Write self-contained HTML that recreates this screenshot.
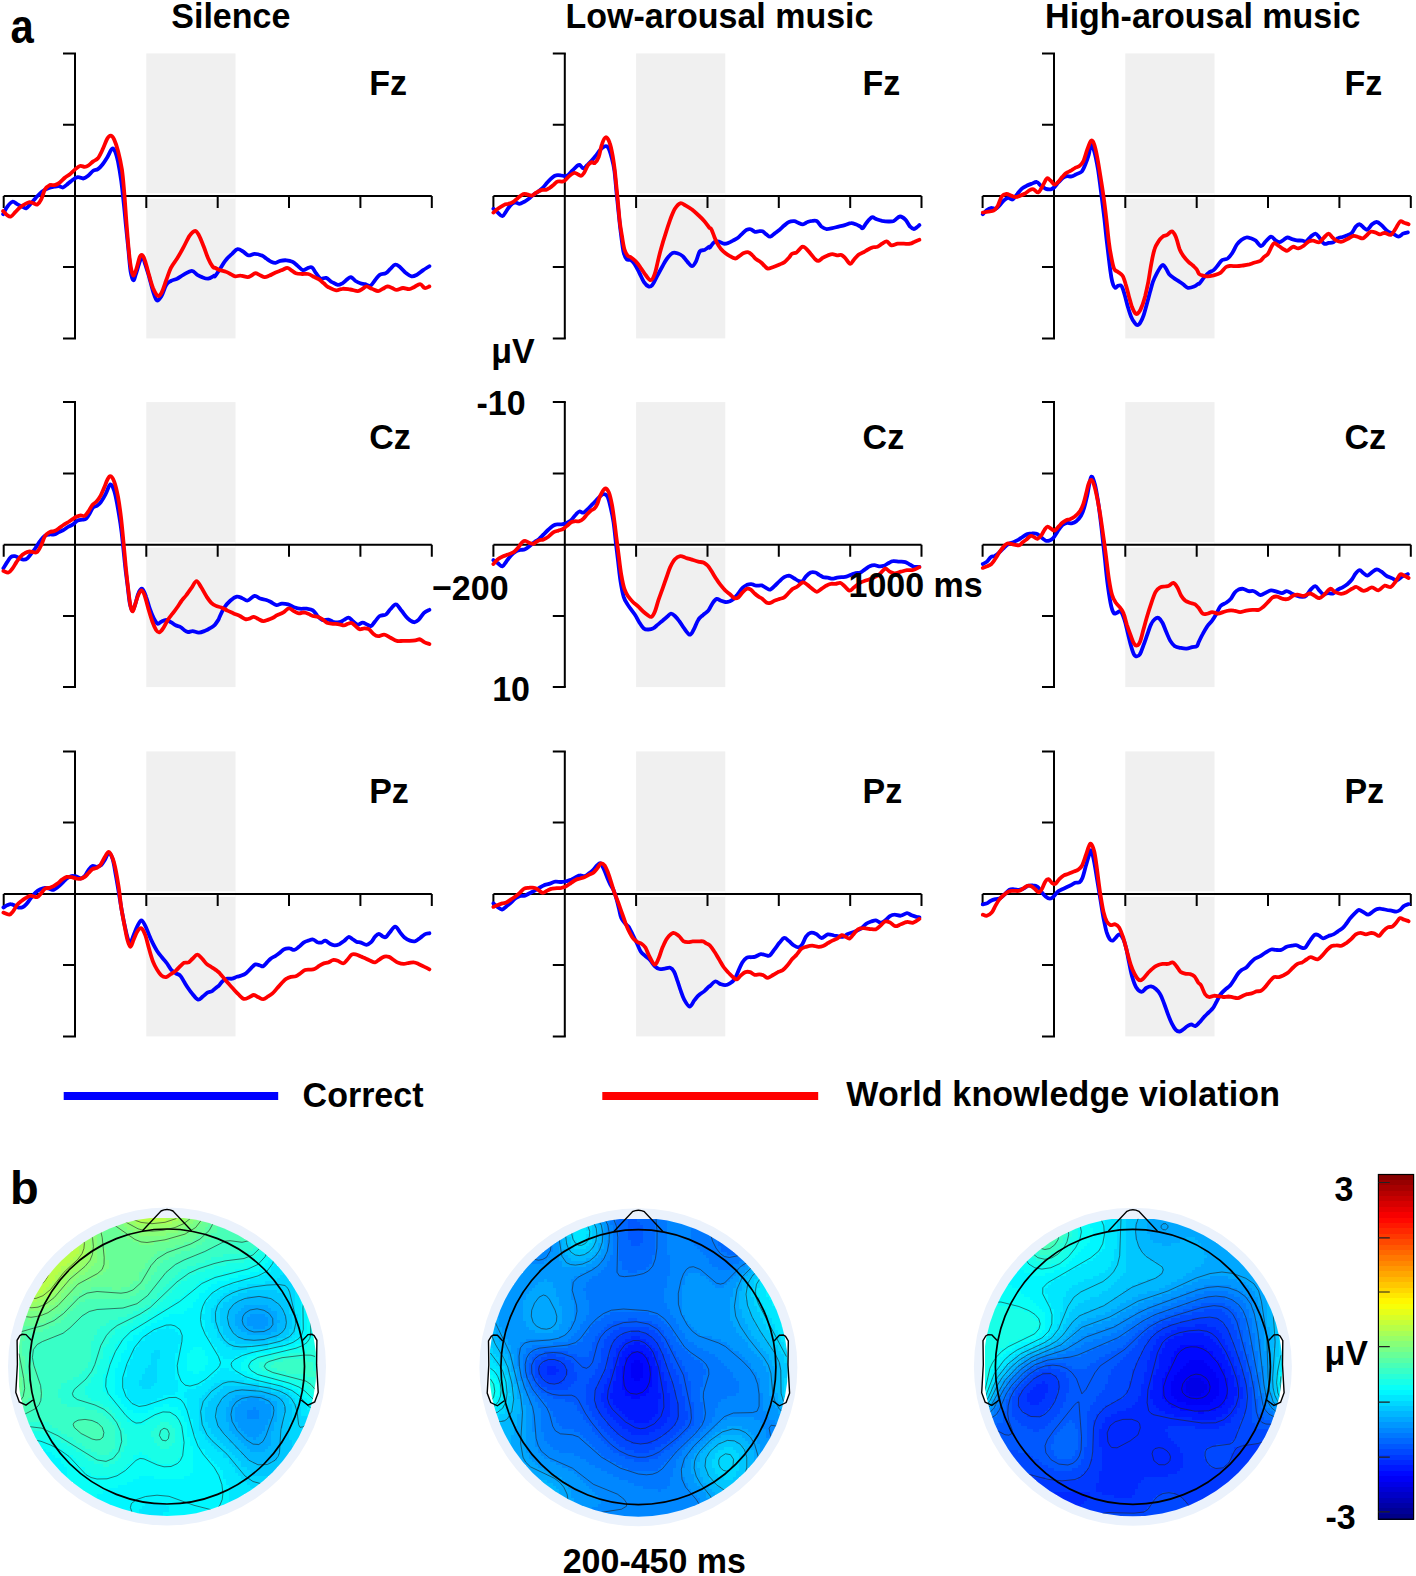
<!DOCTYPE html>
<html><head><meta charset="utf-8"><style>
html,body{margin:0;padding:0;background:#fff;}
svg{display:block;}
text{font-family:"Liberation Sans",sans-serif;font-weight:bold;font-size:34px;fill:#000;}
</style></head><body>
<svg width="1416" height="1576" viewBox="0 0 1416 1576">
<rect width="1416" height="1576" fill="#fff"/>

<rect x="146.3" y="53.4" width="89.2" height="285.0" fill="#f0f0f0"/>
<path d="M145.3,196.1H235.5" stroke="#fff" stroke-width="5.5" fill="none"/>
<path d="M75.0,53.4V338.4M3.7,196.1H431.8" stroke="#000" stroke-width="2" fill="none"/>
<path d="M63.0,53.4H76.0M63.0,124.7H75.0M63.0,267.1H75.0M63.0,338.4H76.0M3.7,196.1V208.1M146.3,196.1V208.1M217.7,196.1V208.1M289.0,196.1V208.1M360.4,196.1V208.1M431.8,196.1V208.1" stroke="#000" stroke-width="2" fill="none"/>
<path d="M3.1,214.2C3.8,213.0 5.4,209.3 7.0,207.2C8.5,205.1 10.7,202.3 12.4,201.8C14.1,201.2 15.5,203.3 17.1,204.1C18.6,204.9 20.2,205.7 21.8,206.4C23.3,207.1 24.7,208.7 26.1,208.3C27.5,207.9 28.7,205.8 30.3,204.1C31.9,202.4 33.8,200.0 35.7,197.9C37.7,195.8 39.9,193.3 41.9,191.7C44.0,190.1 46.1,189.1 48.2,188.2C50.2,187.4 52.6,187.0 54.4,186.7C56.2,186.4 57.6,186.1 59.0,186.2C60.5,186.4 61.6,187.7 62.9,187.5C64.2,187.2 65.4,185.8 66.8,184.7C68.2,183.6 69.7,182.0 71.5,180.8C73.3,179.5 75.7,177.6 77.7,177.2C79.6,176.8 81.4,178.6 83.1,178.5C84.8,178.3 86.1,177.4 87.8,176.1C89.5,174.8 91.5,171.9 93.2,170.7C94.9,169.5 96.3,170.2 97.9,169.1C99.4,168.1 101.0,166.4 102.5,164.5C104.1,162.5 105.6,160.1 107.2,157.5C108.8,154.9 110.6,150.0 111.9,148.9C113.2,147.9 113.9,149.1 115.0,151.3C116.0,153.5 117.0,157.2 118.1,162.1C119.1,167.1 120.3,174.3 121.2,180.8C122.1,187.3 122.7,193.7 123.5,201.0C124.3,208.2 125.1,216.5 125.8,224.3C126.6,232.1 127.4,239.8 128.2,247.6C129.0,255.4 129.7,265.5 130.5,270.9C131.4,276.3 132.4,279.7 133.3,280.2C134.2,280.7 134.9,277.1 135.9,274.0C137.0,270.9 138.7,264.4 139.8,261.6C140.9,258.7 141.7,256.4 142.6,256.9C143.5,257.4 144.2,261.3 145.3,264.7C146.4,268.1 147.9,272.7 149.2,277.1C150.4,281.5 151.7,287.2 153.0,291.1C154.3,295.0 155.5,299.6 156.9,300.4C158.3,301.2 160.0,298.4 161.6,295.8C163.1,293.2 164.7,287.3 166.2,284.9C167.8,282.4 169.1,282.0 170.9,281.0C172.7,280.0 175.0,279.7 177.1,278.7C179.2,277.6 180.9,276.1 183.3,274.8C185.8,273.5 189.5,270.9 191.9,270.9C194.2,270.9 195.6,273.8 197.3,274.8C199.0,275.8 200.2,276.5 202.0,277.1C203.8,277.8 206.1,278.9 208.2,278.7C210.3,278.4 213.3,276.0 214.4,275.6C215.5,275.2 214.1,277.4 215.0,276.3C215.9,275.3 217.8,272.1 219.7,269.4C221.5,266.6 223.8,262.6 225.9,260.0C227.9,257.4 230.1,255.6 232.1,253.8C234.0,252.0 235.7,249.5 237.5,249.2C239.3,248.8 241.2,250.4 243.0,251.5C244.8,252.5 246.5,255.0 248.4,255.4C250.3,255.8 252.4,253.8 254.6,253.8C256.8,253.8 259.7,254.6 261.6,255.4C263.6,256.1 264.7,257.4 266.3,258.5C267.8,259.5 269.4,260.9 270.9,261.6C272.5,262.3 274.0,263.0 275.6,262.8C277.1,262.7 278.4,261.2 280.3,260.8C282.1,260.4 284.5,260.2 286.5,260.3C288.4,260.5 290.1,260.7 291.9,261.6C293.7,262.4 295.5,264.0 297.3,265.5C299.2,266.9 301.0,269.7 302.8,270.1C304.6,270.5 306.7,268.2 308.2,267.8C309.8,267.4 310.8,266.6 312.1,267.5C313.4,268.4 314.6,271.4 316.0,273.2C317.4,275.1 319.0,277.9 320.6,278.7C322.3,279.4 324.3,277.4 326.1,277.9C327.9,278.4 329.6,280.6 331.5,281.8C333.5,282.9 335.9,284.6 337.7,284.9C339.6,285.1 340.8,284.2 342.4,283.3C344.0,282.4 345.6,280.5 347.1,279.4C348.5,278.4 349.5,276.9 350.9,277.1C352.4,277.4 354.1,280.0 355.6,281.0C357.2,282.0 358.7,282.8 360.3,283.3C361.8,283.9 363.2,283.7 364.9,284.1C366.6,284.5 368.7,286.3 370.4,285.7C372.1,285.0 373.5,282.0 375.0,280.2C376.6,278.4 377.9,276.0 379.7,274.8C381.5,273.6 384.1,274.3 385.9,273.2C387.7,272.2 389.0,270.0 390.6,268.6C392.1,267.1 393.7,264.9 395.2,264.7C396.8,264.4 398.2,265.7 399.9,267.0C401.6,268.3 403.4,270.9 405.3,272.5C407.3,274.0 409.6,276.0 411.5,276.3C413.5,276.7 415.0,275.8 417.0,274.8C418.9,273.8 421.1,271.6 423.2,270.1C425.3,268.7 428.4,266.9 429.4,266.2" stroke="#0000ff" stroke-width="3.8" fill="none" stroke-linejoin="round" stroke-linecap="round"/>
<path d="M3.1,211.1C3.8,211.7 5.7,214.1 7.0,215.0C8.3,215.9 9.5,217.0 10.9,216.5C12.3,216.0 14.0,213.4 15.5,211.9C17.1,210.3 18.6,208.5 20.2,207.2C21.8,205.9 23.3,204.9 24.9,204.1C26.4,203.3 28.1,202.4 29.5,202.2C30.9,202.1 32.1,202.9 33.4,203.3C34.7,203.7 36.0,205.2 37.3,204.6C38.6,203.9 39.9,202.0 41.2,199.4C42.5,196.9 43.6,191.7 45.1,189.3C46.5,187.0 48.2,185.8 49.7,185.1C51.3,184.4 52.8,185.5 54.4,185.1C55.9,184.8 57.2,184.4 59.0,183.1C60.9,181.8 63.4,178.8 65.3,177.4C67.1,175.9 68.4,175.5 69.9,174.3C71.5,173.0 72.9,171.3 74.6,169.9C76.3,168.5 78.3,166.5 80.0,166.0C81.7,165.5 83.3,166.9 84.7,166.8C86.1,166.7 87.1,166.2 88.6,165.3C90.0,164.3 91.7,162.5 93.2,161.4C94.8,160.2 96.3,160.2 97.9,158.3C99.4,156.3 101.0,153.0 102.5,149.7C104.1,146.5 105.8,141.2 107.2,138.8C108.6,136.5 109.6,135.6 110.8,135.7C111.9,135.9 113.0,137.0 114.2,139.6C115.4,142.2 116.8,146.2 118.1,151.3C119.4,156.3 120.9,162.9 122.0,169.9C123.0,176.9 123.5,184.2 124.3,193.2C125.1,202.3 125.8,214.5 126.6,224.3C127.4,234.1 128.2,244.8 129.0,252.3C129.7,259.8 130.5,265.5 131.3,269.4C132.1,273.2 132.7,275.8 133.6,275.6C134.5,275.3 135.7,270.9 136.7,267.8C137.8,264.7 138.8,259.0 139.8,256.9C140.8,254.8 141.7,254.6 142.6,255.4C143.5,256.1 144.2,258.2 145.3,261.6C146.4,264.9 147.9,271.2 149.2,275.6C150.4,280.0 151.6,284.6 153.0,288.0C154.5,291.4 156.3,295.0 157.7,295.8C159.1,296.5 160.2,295.2 161.6,292.7C163.0,290.1 164.7,284.4 166.2,280.2C167.8,276.1 169.1,271.4 170.9,267.8C172.7,264.2 175.0,261.8 177.1,258.5C179.2,255.1 181.3,251.4 183.3,247.6C185.4,243.8 187.6,238.7 189.5,235.9C191.5,233.2 193.4,231.1 195.0,231.0C196.5,230.8 197.4,232.7 198.9,235.2C200.3,237.7 202.0,242.2 203.5,246.0C205.1,249.9 206.6,255.0 208.2,258.5C209.7,262.0 211.7,265.5 212.9,267.0C214.0,268.6 213.9,267.3 215.0,267.8C216.1,268.3 217.8,269.5 219.7,270.1C221.5,270.8 224.1,271.0 225.9,271.7C227.7,272.3 229.0,273.2 230.5,274.0C232.1,274.8 233.5,276.1 235.2,276.3C236.9,276.6 238.6,275.4 240.6,275.6C242.7,275.7 245.8,277.1 247.6,277.1C249.4,277.1 250.2,276.2 251.5,275.6C252.8,274.9 254.0,273.3 255.4,273.2C256.8,273.2 258.5,274.6 260.1,275.3C261.6,275.9 263.2,277.1 264.7,277.1C266.3,277.2 267.6,276.3 269.4,275.6C271.2,274.8 273.5,273.4 275.6,272.5C277.7,271.6 279.9,270.9 281.8,270.1C283.8,269.4 285.7,267.8 287.2,267.8C288.8,267.8 289.7,269.2 291.1,270.1C292.6,271.0 294.0,272.6 295.8,273.2C297.6,273.9 299.9,273.9 302.0,274.0C304.1,274.1 306.1,273.5 308.2,274.0C310.3,274.5 312.6,276.2 314.4,277.1C316.2,278.0 317.5,278.4 319.1,279.4C320.6,280.5 322.2,282.0 323.8,283.3C325.3,284.6 326.3,286.1 328.4,287.2C330.5,288.4 333.9,290.1 336.2,290.3C338.5,290.6 340.1,288.9 342.4,288.8C344.7,288.6 347.6,289.2 350.2,289.5C352.8,289.9 355.9,291.2 357.9,291.1C360.0,291.0 361.2,289.5 362.6,288.8C364.0,288.0 364.9,286.4 366.5,286.4C368.0,286.4 370.0,288.0 371.9,288.8C373.9,289.5 376.3,291.1 378.1,291.1C379.9,291.1 381.2,289.5 382.8,288.8C384.4,288.0 385.9,286.6 387.5,286.4C389.0,286.3 390.6,287.4 392.1,288.0C393.7,288.6 395.0,289.9 396.8,289.9C398.6,289.9 400.9,288.1 403.0,288.0C405.1,287.9 407.4,289.4 409.2,289.2C411.0,289.1 412.1,288.1 413.9,287.2C415.7,286.4 418.3,284.0 420.1,284.1C421.9,284.2 423.2,287.6 424.7,288.0C426.3,288.4 428.6,286.7 429.4,286.4" stroke="#ff0000" stroke-width="3.8" fill="none" stroke-linejoin="round" stroke-linecap="round"/>
<text transform="translate(369.2,94.9) scale(1,1.03)">Fz</text>
<rect x="636.1" y="53.4" width="89.2" height="285.0" fill="#f0f0f0"/>
<path d="M635.1,196.1H725.3" stroke="#fff" stroke-width="5.5" fill="none"/>
<path d="M564.8,53.4V338.4M493.4,196.1H921.5" stroke="#000" stroke-width="2" fill="none"/>
<path d="M552.8,53.4H565.8M552.8,124.7H564.8M552.8,267.1H564.8M552.8,338.4H565.8M493.4,196.1V208.1M636.1,196.1V208.1M707.5,196.1V208.1M778.8,196.1V208.1M850.2,196.1V208.1M921.5,196.1V208.1" stroke="#000" stroke-width="2" fill="none"/>
<path d="M493.4,208.8C494.1,209.4 496.3,211.4 497.8,212.6C499.3,213.9 501.0,216.5 502.4,216.2C503.9,216.0 505.0,212.8 506.3,211.1C507.6,209.3 508.8,207.1 510.2,205.6C511.6,204.2 513.3,202.9 514.9,202.5C516.4,202.2 518.0,203.9 519.5,203.8C521.1,203.7 522.6,202.6 524.2,201.8C525.7,200.9 527.3,199.8 528.8,198.7C530.4,197.5 531.9,195.9 533.5,194.8C535.1,193.6 536.6,192.8 538.2,191.7C539.7,190.5 541.3,189.3 542.8,187.8C544.4,186.2 545.9,184.0 547.5,182.3C549.0,180.7 550.7,178.8 552.1,177.7C553.6,176.5 554.6,175.7 556.0,175.4C557.5,175.0 559.3,175.2 560.7,175.4C562.1,175.5 563.4,176.1 564.6,176.1C565.7,176.1 566.4,176.3 567.7,175.4C569.0,174.4 570.8,172.2 572.3,170.7C573.9,169.1 575.8,167.0 577.0,166.0C578.2,165.1 578.8,164.6 579.8,164.9C580.8,165.3 582.0,168.3 583.2,168.4C584.4,168.4 585.8,166.4 587.1,165.3C588.4,164.1 589.6,162.9 591.0,161.4C592.4,159.8 594.1,157.9 595.6,155.9C597.2,154.0 598.8,151.3 600.3,149.7C601.9,148.1 603.7,146.7 605.0,146.3C606.3,145.9 607.0,145.8 608.1,147.4C609.1,149.0 610.2,152.2 611.2,155.9C612.2,159.7 613.4,163.7 614.3,169.9C615.2,176.1 615.8,185.5 616.6,193.2C617.4,201.0 618.2,209.3 619.0,216.5C619.7,223.8 620.5,230.8 621.3,236.7C622.1,242.7 622.7,248.5 623.6,252.3C624.5,256.0 625.6,258.0 626.7,259.3C627.9,260.5 629.3,259.3 630.6,260.0C631.9,260.8 633.1,261.8 634.5,263.9C635.9,266.0 637.6,269.5 639.2,272.5C640.7,275.4 642.3,279.4 643.8,281.8C645.4,284.1 647.1,285.9 648.5,286.4C649.9,287.0 650.9,286.6 652.4,284.9C653.8,283.2 655.3,279.4 657.0,276.3C658.7,273.2 660.8,269.2 662.5,266.2C664.1,263.3 665.4,260.7 667.1,258.5C668.8,256.3 670.7,253.9 672.6,253.0C674.4,252.2 676.3,253.0 678.0,253.5C679.7,254.0 681.1,254.8 682.7,256.1C684.2,257.5 685.8,259.9 687.3,261.6C688.9,263.3 690.6,266.2 692.0,266.2C693.4,266.2 694.6,264.0 695.9,261.6C697.2,259.1 698.3,253.4 699.7,251.5C701.2,249.5 702.9,250.7 704.4,249.9C706.0,249.2 708.2,247.2 709.1,246.8C709.9,246.4 708.8,248.4 709.7,247.6C710.5,246.8 712.8,243.1 714.3,242.2C715.9,241.2 717.4,241.4 719.0,241.7C720.5,242.0 722.1,243.5 723.6,243.7C725.2,243.9 726.8,243.5 728.3,242.9C729.9,242.4 731.4,241.4 733.0,240.6C734.5,239.8 736.1,239.1 737.6,238.0C739.2,236.8 740.7,235.0 742.3,233.6C743.8,232.2 745.5,230.5 746.9,229.7C748.4,229.0 749.5,228.9 750.8,229.3C752.1,229.6 753.4,231.4 754.7,231.8C756.0,232.1 757.3,231.4 758.6,231.3C759.9,231.2 761.2,230.8 762.5,231.3C763.8,231.8 765.1,233.5 766.4,234.4C767.7,235.3 768.8,236.9 770.3,236.7C771.7,236.5 773.4,234.5 774.9,233.3C776.5,232.1 778.0,231.0 779.6,229.7C781.1,228.4 782.7,226.8 784.2,225.5C785.8,224.2 787.2,222.7 788.9,222.0C790.6,221.2 792.8,221.1 794.3,221.2C795.9,221.3 796.8,222.2 798.2,222.7C799.6,223.3 801.3,224.4 802.9,224.3C804.4,224.2 806.0,222.5 807.5,222.0C809.1,221.4 810.6,221.0 812.2,220.9C813.8,220.7 815.3,220.2 816.9,221.2C818.4,222.1 820.0,225.3 821.5,226.6C823.1,227.9 824.4,228.7 826.2,229.0C828.0,229.2 830.3,228.6 832.4,228.2C834.5,227.8 836.5,227.1 838.6,226.6C840.7,226.1 842.8,225.7 844.8,225.1C846.9,224.5 849.2,223.2 851.0,223.1C852.9,222.9 854.2,223.7 855.7,224.3C857.3,224.9 859.2,226.0 860.4,226.6C861.5,227.3 861.7,228.8 862.7,228.2C863.7,227.5 865.0,224.6 866.6,222.7C868.1,220.9 870.5,217.9 872.0,217.3C873.6,216.7 874.2,218.3 875.9,218.9C877.6,219.5 880.0,220.4 882.1,220.9C884.2,221.3 886.4,221.5 888.3,221.5C890.3,221.5 891.8,221.7 893.8,220.9C895.7,220.0 898.0,216.7 900.0,216.5C901.9,216.3 903.7,217.9 905.4,219.6C907.1,221.3 908.7,225.1 910.1,226.6C911.5,228.2 912.8,228.9 914.0,229.0C915.1,229.0 916.2,227.7 917.1,227.1C918.0,226.4 919.0,225.4 919.4,225.1" stroke="#0000ff" stroke-width="3.8" fill="none" stroke-linejoin="round" stroke-linecap="round"/>
<path d="M493.4,212.6C494.1,212.0 496.0,210.1 497.8,208.8C499.5,207.5 502.2,205.7 504.0,204.9C505.8,204.0 507.1,204.3 508.6,203.8C510.2,203.3 511.8,202.7 513.3,201.8C514.9,200.8 516.3,199.2 518.0,197.9C519.6,196.6 521.9,194.6 523.4,194.0C525.0,193.4 525.9,194.2 527.3,194.5C528.7,194.7 530.4,195.9 531.9,195.6C533.5,195.2 535.1,193.3 536.6,192.4C538.2,191.5 539.7,190.6 541.3,190.1C542.8,189.7 544.5,190.2 545.9,189.8C547.4,189.4 548.5,188.6 549.8,187.8C551.1,186.9 552.4,185.7 553.7,184.7C555.0,183.6 556.3,182.1 557.6,181.6C558.9,181.0 560.3,181.7 561.5,181.6C562.6,181.4 563.3,181.7 564.6,180.8C565.9,179.9 567.7,177.4 569.2,176.1C570.8,174.8 572.6,173.4 573.9,173.0C575.2,172.6 575.8,173.3 577.0,173.8C578.2,174.3 579.7,175.9 580.9,175.8C582.1,175.7 582.8,174.8 584.0,173.0C585.2,171.3 586.6,167.1 587.9,165.3C589.2,163.4 590.6,162.5 591.8,162.1C592.9,161.8 593.7,163.8 594.9,162.9C596.0,162.0 597.6,159.8 598.8,156.7C599.9,153.6 600.7,147.5 601.9,144.3C603.0,141.0 604.5,137.5 605.7,137.3C607.0,137.0 608.5,139.6 609.6,142.7C610.8,145.8 611.8,150.9 612.7,155.9C613.6,161.0 614.3,166.3 615.1,173.0C615.8,179.8 616.6,188.3 617.4,196.3C618.2,204.4 619.0,214.5 619.7,221.2C620.5,227.9 621.3,232.1 622.1,236.7C622.8,241.4 623.5,246.0 624.4,249.2C625.3,252.3 626.3,253.9 627.5,255.4C628.7,256.8 630.0,256.7 631.4,257.7C632.8,258.7 634.5,259.9 636.0,261.6C637.6,263.3 639.2,265.6 640.7,267.8C642.3,270.0 643.7,272.7 645.4,274.8C647.1,276.9 649.3,280.4 650.8,280.2C652.4,280.1 653.5,277.1 654.7,274.0C655.9,270.9 656.8,265.7 657.8,261.6C658.8,257.4 659.6,253.8 660.9,249.2C662.2,244.5 664.0,238.5 665.6,233.6C667.1,228.7 668.7,223.8 670.2,219.6C671.8,215.5 673.2,211.5 674.9,208.8C676.6,206.0 678.5,203.8 680.3,203.3C682.1,202.8 683.8,204.6 685.8,205.6C687.7,206.7 689.9,208.0 692.0,209.5C694.0,211.1 696.1,213.0 698.2,215.0C700.3,216.9 702.6,219.1 704.4,221.2C706.2,223.3 707.9,226.1 709.1,227.4C710.2,228.7 710.3,227.4 711.2,229.0C712.1,230.5 713.3,234.3 714.3,236.7C715.4,239.2 716.4,241.8 717.4,243.7C718.5,245.7 719.2,246.8 720.5,248.4C721.8,249.9 723.6,251.7 725.2,253.0C726.8,254.3 728.2,255.2 729.9,256.1C731.5,257.1 733.7,258.5 735.3,258.5C736.9,258.5 737.8,257.1 739.2,256.1C740.6,255.2 742.3,253.7 743.8,253.0C745.4,252.4 747.1,251.9 748.5,252.3C749.9,252.6 751.1,254.2 752.4,255.4C753.7,256.5 754.8,258.1 756.3,259.3C757.7,260.4 759.5,261.2 760.9,262.4C762.4,263.5 763.7,265.2 764.8,266.2C766.0,267.3 766.5,268.4 767.9,268.6C769.3,268.7 771.4,267.7 773.4,267.0C775.3,266.3 777.8,265.2 779.6,264.4C781.4,263.6 782.7,263.5 784.2,262.4C785.8,261.2 787.6,259.1 788.9,257.7C790.2,256.3 790.7,254.7 792.0,253.8C793.3,252.9 795.0,253.4 796.7,252.3C798.3,251.1 800.6,247.5 802.1,246.8C803.7,246.2 804.6,247.2 806.0,248.4C807.4,249.5 809.1,252.0 810.6,253.8C812.2,255.6 814.0,258.1 815.3,259.3C816.6,260.4 817.1,261.1 818.4,260.8C819.7,260.5 821.5,258.6 823.1,257.7C824.6,256.8 826.2,256.0 827.7,255.4C829.3,254.8 830.8,254.1 832.4,254.1C834.0,254.1 835.5,255.2 837.1,255.4C838.6,255.5 840.3,254.5 841.7,255.1C843.1,255.6 844.2,257.0 845.6,258.5C847.0,260.0 848.8,263.8 850.3,263.9C851.7,264.0 852.7,260.8 854.2,259.3C855.6,257.7 857.3,255.8 858.8,254.6C860.4,253.4 861.9,253.1 863.5,252.3C865.0,251.4 866.6,250.3 868.1,249.5C869.7,248.6 871.2,247.7 872.8,247.3C874.4,246.8 875.9,247.4 877.5,246.8C879.0,246.2 880.6,244.6 882.1,243.7C883.7,242.8 885.2,241.1 886.8,241.4C888.3,241.6 889.6,244.9 891.4,245.3C893.3,245.7 895.6,244.0 897.7,243.7C899.7,243.5 901.8,243.7 903.9,243.7C905.9,243.7 908.3,244.1 910.1,243.7C911.9,243.4 913.2,242.3 914.7,241.7C916.3,241.0 918.6,240.1 919.4,239.8" stroke="#ff0000" stroke-width="3.8" fill="none" stroke-linejoin="round" stroke-linecap="round"/>
<text transform="translate(862.6,94.9) scale(1,1.03)">Fz</text>
<rect x="1125.3" y="53.4" width="89.2" height="285.0" fill="#f0f0f0"/>
<path d="M1124.3,196.1H1214.5" stroke="#fff" stroke-width="5.5" fill="none"/>
<path d="M1054.0,53.4V338.4M982.6,196.1H1410.8" stroke="#000" stroke-width="2" fill="none"/>
<path d="M1042.0,53.4H1055.0M1042.0,124.7H1054.0M1042.0,267.1H1054.0M1042.0,338.4H1055.0M982.6,196.1V208.1M1125.3,196.1V208.1M1196.7,196.1V208.1M1268.0,196.1V208.1M1339.4,196.1V208.1M1410.8,196.1V208.1" stroke="#000" stroke-width="2" fill="none"/>
<path d="M982.8,214.2C983.4,213.6 984.9,211.7 986.2,210.6C987.6,209.6 989.3,208.3 990.9,208.0C992.4,207.7 994.1,209.1 995.5,208.8C997.0,208.4 998.1,206.9 999.4,205.6C1000.7,204.4 1001.9,202.3 1003.3,201.0C1004.7,199.7 1006.4,198.1 1008.0,197.9C1009.5,197.6 1011.1,200.1 1012.6,199.4C1014.2,198.8 1015.7,195.8 1017.3,194.0C1018.8,192.2 1020.4,189.9 1021.9,188.6C1023.5,187.2 1025.1,186.5 1026.6,185.8C1028.2,185.0 1029.6,184.5 1031.3,183.9C1033.0,183.3 1035.2,181.8 1036.7,182.0C1038.3,182.3 1039.2,184.4 1040.6,185.5C1042.0,186.5 1043.6,187.9 1045.3,188.6C1046.9,189.2 1049.1,189.6 1050.7,189.3C1052.2,189.1 1053.3,188.2 1054.6,187.0C1055.9,185.8 1057.0,183.9 1058.5,182.3C1059.9,180.8 1061.7,178.7 1063.1,177.7C1064.5,176.6 1065.6,176.3 1067.0,176.1C1068.4,175.9 1070.1,176.8 1071.7,176.4C1073.2,176.1 1074.6,175.1 1076.3,174.3C1078.0,173.4 1080.2,173.2 1081.8,171.5C1083.3,169.7 1084.5,166.5 1085.6,163.7C1086.8,160.9 1087.9,157.6 1088.8,154.4C1089.7,151.1 1090.2,144.8 1091.1,144.3C1092.0,143.8 1093.0,147.0 1094.2,151.3C1095.4,155.5 1096.9,162.9 1098.1,169.9C1099.2,176.9 1100.2,185.2 1101.2,193.2C1102.2,201.2 1103.4,210.3 1104.3,218.1C1105.2,225.8 1105.8,232.8 1106.6,239.8C1107.4,246.8 1108.2,253.8 1109.0,260.0C1109.7,266.2 1110.6,272.9 1111.3,277.1C1112.0,281.3 1112.6,283.3 1113.3,285.1C1114.0,286.8 1114.5,287.6 1115.2,287.8C1116.0,287.9 1117.1,286.2 1118.0,285.8C1118.9,285.4 1119.9,285.1 1120.7,285.4C1121.5,285.8 1121.9,286.4 1122.6,288.2C1123.3,289.9 1124.1,292.7 1125.0,295.9C1125.9,299.2 1127.0,304.1 1128.1,307.6C1129.1,311.1 1130.1,314.4 1131.2,316.9C1132.2,319.4 1133.2,321.0 1134.3,322.3C1135.3,323.7 1136.4,325.1 1137.4,325.1C1138.4,325.1 1139.5,324.0 1140.5,322.3C1141.5,320.7 1142.6,318.3 1143.6,315.4C1144.6,312.4 1145.7,308.2 1146.7,304.5C1147.7,300.7 1148.8,296.6 1149.8,292.8C1150.9,289.1 1151.8,285.2 1152.9,281.9C1154.1,278.7 1155.6,275.7 1156.8,273.4C1158.0,271.1 1158.9,269.4 1159.9,268.0C1161.0,266.5 1162.0,264.7 1163.0,264.9C1164.1,265.0 1165.1,267.2 1166.1,268.7C1167.2,270.3 1167.9,272.6 1169.2,274.2C1170.5,275.7 1172.2,276.8 1173.9,278.1C1175.6,279.3 1177.8,280.5 1179.3,281.6C1180.9,282.6 1181.8,283.2 1183.2,284.3C1184.6,285.3 1186.1,287.4 1187.9,287.8C1189.7,288.2 1192.3,287.3 1194.1,286.6C1195.9,285.9 1197.8,284.0 1198.8,283.5C1199.7,283.0 1198.7,284.4 1199.7,283.3C1200.6,282.3 1202.8,278.9 1204.3,277.1C1205.9,275.3 1207.4,273.6 1209.0,272.5C1210.5,271.3 1212.1,271.4 1213.6,270.1C1215.2,268.8 1216.9,266.4 1218.3,264.7C1219.7,263.0 1220.6,261.1 1222.2,260.0C1223.7,259.0 1225.9,259.6 1227.6,258.5C1229.3,257.3 1230.7,255.4 1232.3,253.0C1233.8,250.7 1235.4,246.7 1236.9,244.5C1238.5,242.3 1240.1,241.0 1241.6,239.8C1243.2,238.7 1244.7,237.8 1246.3,237.5C1247.8,237.2 1249.4,237.8 1250.9,238.3C1252.5,238.8 1253.9,239.3 1255.6,240.6C1257.3,241.9 1259.3,245.9 1261.0,246.0C1262.7,246.2 1264.0,242.9 1265.7,241.4C1267.4,239.8 1269.4,236.9 1271.1,236.7C1272.8,236.6 1274.4,239.7 1275.8,240.6C1277.2,241.5 1278.4,242.3 1279.7,242.2C1281.0,242.0 1282.3,240.6 1283.6,239.8C1284.9,239.1 1286.0,237.6 1287.4,237.5C1288.9,237.4 1290.6,238.6 1292.1,239.1C1293.7,239.5 1295.1,240.0 1296.8,240.3C1298.4,240.6 1300.6,240.4 1302.2,240.6C1303.8,240.8 1304.7,242.0 1306.1,241.4C1307.5,240.7 1309.2,238.0 1310.7,236.7C1312.3,235.4 1314.0,233.5 1315.4,233.6C1316.8,233.7 1317.9,235.8 1319.3,237.5C1320.7,239.2 1322.4,242.8 1324.0,243.7C1325.5,244.6 1327.1,243.2 1328.6,242.9C1330.2,242.7 1331.7,242.9 1333.3,242.2C1334.8,241.4 1336.4,239.1 1337.9,238.3C1339.5,237.4 1341.0,237.6 1342.6,237.0C1344.2,236.5 1345.7,235.9 1347.3,235.2C1348.8,234.5 1350.5,234.3 1351.9,232.8C1353.3,231.4 1354.5,228.0 1355.8,226.6C1357.1,225.2 1358.3,224.0 1359.7,224.3C1361.1,224.6 1363.1,227.3 1364.4,228.2C1365.6,229.1 1366.2,230.4 1367.5,229.7C1368.8,229.1 1370.6,225.6 1372.1,224.3C1373.7,223.0 1375.2,221.8 1376.8,222.0C1378.3,222.1 1379.6,223.5 1381.4,225.1C1383.3,226.6 1385.7,229.9 1387.7,231.3C1389.6,232.7 1391.3,232.7 1393.1,233.6C1394.9,234.5 1396.8,236.7 1398.5,236.7C1400.2,236.7 1401.6,234.3 1403.2,233.6C1404.7,232.9 1407.1,232.6 1407.9,232.4" stroke="#0000ff" stroke-width="3.8" fill="none" stroke-linejoin="round" stroke-linecap="round"/>
<path d="M982.8,212.6C983.6,212.5 985.9,211.9 987.8,211.6C989.6,211.2 992.3,211.3 994.0,210.3C995.7,209.3 996.6,208.0 997.9,205.6C999.2,203.3 1000.3,198.3 1001.8,196.3C1003.2,194.4 1004.9,194.1 1006.4,194.0C1008.0,193.9 1009.5,195.0 1011.1,195.6C1012.6,196.1 1014.2,197.1 1015.7,197.1C1017.3,197.1 1018.8,196.1 1020.4,195.6C1021.9,195.0 1023.5,194.4 1025.1,193.5C1026.6,192.6 1028.3,190.8 1029.7,190.1C1031.1,189.4 1032.2,188.9 1033.6,189.3C1035.0,189.7 1036.8,192.8 1038.3,192.4C1039.7,192.1 1040.7,189.3 1042.1,187.0C1043.6,184.7 1045.4,179.5 1046.8,178.5C1048.2,177.4 1049.4,179.8 1050.7,180.8C1052.0,181.8 1053.3,184.5 1054.6,184.7C1055.9,184.8 1057.2,182.9 1058.5,181.6C1059.8,180.3 1061.0,178.3 1062.3,176.9C1063.6,175.5 1064.8,174.1 1066.2,173.0C1067.7,172.0 1069.5,171.5 1070.9,170.7C1072.3,169.9 1073.3,168.8 1074.8,168.1C1076.2,167.3 1078.0,167.1 1079.4,166.0C1080.9,164.9 1082.0,164.1 1083.3,161.4C1084.6,158.7 1085.9,153.2 1087.2,149.7C1088.5,146.3 1089.9,141.6 1091.1,140.7C1092.3,139.8 1093.2,141.5 1094.2,144.3C1095.2,147.1 1096.3,152.2 1097.3,157.5C1098.3,162.8 1099.4,169.7 1100.4,176.1C1101.4,182.6 1102.5,188.8 1103.5,196.3C1104.6,203.8 1105.7,213.4 1106.6,221.2C1107.5,229.0 1108.2,237.2 1109.0,242.9C1109.7,248.7 1110.1,251.2 1111.0,255.5C1111.8,259.8 1112.9,266.0 1114.1,268.7C1115.2,271.5 1116.5,270.7 1118.0,271.9C1119.4,273.0 1121.3,273.7 1122.6,275.7C1123.9,277.8 1124.7,280.9 1125.7,284.3C1126.8,287.6 1127.8,292.2 1128.8,295.9C1129.9,299.7 1130.8,303.8 1131.9,306.8C1133.1,309.8 1134.7,312.9 1135.8,313.8C1137.0,314.7 1137.9,313.5 1138.9,312.2C1140.0,311.0 1141.0,308.8 1142.0,306.0C1143.1,303.3 1144.1,299.9 1145.2,295.9C1146.2,291.9 1147.2,287.4 1148.3,281.9C1149.3,276.5 1150.3,268.7 1151.4,263.3C1152.4,257.9 1153.3,252.9 1154.5,249.3C1155.6,245.7 1157.0,243.7 1158.4,241.6C1159.7,239.5 1161.1,237.8 1162.6,236.7C1164.0,235.6 1165.7,235.8 1167.2,234.9C1168.8,234.0 1170.5,231.0 1171.9,231.3C1173.3,231.6 1174.5,233.7 1175.8,236.7C1177.1,239.7 1178.4,245.9 1179.6,249.2C1180.9,252.4 1182.1,254.1 1183.5,256.1C1185.0,258.2 1186.6,260.0 1188.2,261.6C1189.7,263.1 1191.4,264.2 1192.9,265.5C1194.3,266.8 1195.7,267.9 1196.7,269.4C1197.8,270.8 1198.1,273.0 1199.1,274.0C1200.1,275.0 1201.4,275.2 1202.8,275.6C1204.2,276.0 1205.6,276.4 1207.4,276.3C1209.2,276.3 1211.6,275.8 1213.6,275.3C1215.7,274.7 1217.8,274.6 1219.9,273.2C1221.9,271.9 1224.3,268.2 1226.1,267.0C1227.9,265.8 1228.9,266.1 1230.7,265.9C1232.5,265.8 1234.9,266.3 1236.9,266.2C1239.0,266.2 1241.1,265.8 1243.2,265.5C1245.2,265.2 1247.6,264.8 1249.4,264.4C1251.2,263.9 1252.2,263.4 1254.0,262.8C1255.9,262.2 1258.6,261.8 1260.3,260.8C1261.9,259.8 1262.8,258.1 1264.1,256.9C1265.4,255.8 1266.9,255.4 1268.0,253.8C1269.2,252.3 1270.1,249.4 1271.1,247.6C1272.2,245.8 1272.9,243.5 1274.2,243.2C1275.5,243.0 1277.3,245.1 1278.9,246.0C1280.5,247.0 1282.1,248.4 1283.6,249.2C1285.0,249.9 1285.9,251.1 1287.4,250.7C1289.0,250.3 1291.1,247.2 1292.9,246.8C1294.7,246.4 1296.5,248.6 1298.3,248.4C1300.1,248.2 1302.1,246.8 1303.8,245.7C1305.4,244.6 1306.9,242.5 1308.4,241.7C1310.0,240.8 1311.3,240.5 1313.1,240.6C1314.9,240.7 1317.5,242.7 1319.3,242.2C1321.1,241.6 1322.4,238.9 1324.0,237.5C1325.5,236.1 1327.2,233.6 1328.6,233.6C1330.0,233.6 1331.2,236.3 1332.5,237.5C1333.8,238.7 1334.8,239.9 1336.4,240.6C1337.9,241.3 1340.0,242.0 1341.8,241.7C1343.6,241.4 1345.3,240.0 1347.3,239.1C1349.2,238.1 1351.7,236.3 1353.5,235.9C1355.3,235.6 1356.6,236.6 1358.1,237.0C1359.7,237.4 1361.4,238.6 1362.8,238.3C1364.2,238.0 1365.4,236.3 1366.7,235.2C1368.0,234.1 1369.1,232.2 1370.6,231.8C1372.0,231.3 1373.7,231.9 1375.2,232.4C1376.8,232.8 1378.3,234.3 1379.9,234.4C1381.4,234.5 1382.7,232.8 1384.5,232.8C1386.4,232.9 1389.0,235.5 1390.8,234.9C1392.6,234.2 1393.9,231.2 1395.4,229.0C1397.0,226.7 1398.7,222.5 1400.1,221.5C1401.5,220.5 1402.5,222.3 1404.0,222.7C1405.4,223.2 1407.9,224.0 1408.6,224.3" stroke="#ff0000" stroke-width="3.8" fill="none" stroke-linejoin="round" stroke-linecap="round"/>
<text transform="translate(1344.4,94.9) scale(1,1.03)">Fz</text>
<rect x="146.3" y="402.1" width="89.2" height="285.0" fill="#f0f0f0"/>
<path d="M145.3,544.8H235.5" stroke="#fff" stroke-width="5.5" fill="none"/>
<path d="M75.0,402.1V687.1M3.7,544.8H431.8" stroke="#000" stroke-width="2" fill="none"/>
<path d="M63.0,402.1H76.0M63.0,473.4H75.0M63.0,615.9H75.0M63.0,687.1H76.0M3.7,544.8V556.8M146.3,544.8V556.8M217.7,544.8V556.8M289.0,544.8V556.8M360.4,544.8V556.8M431.8,544.8V556.8" stroke="#000" stroke-width="2" fill="none"/>
<path d="M3.4,568.3C4.0,567.3 5.7,564.3 7.0,562.4C8.2,560.5 9.6,558.0 10.9,557.0C12.2,555.9 13.3,556.0 14.8,556.2C16.2,556.4 18.0,557.5 19.4,558.1C20.8,558.6 22.0,559.5 23.3,559.6C24.6,559.7 25.9,559.5 27.2,558.5C28.5,557.6 29.6,555.7 31.1,553.9C32.5,552.1 34.2,549.9 35.7,547.7C37.3,545.5 38.8,542.7 40.4,540.7C41.9,538.7 43.5,536.7 45.1,535.7C46.6,534.7 48.2,534.7 49.7,534.5C51.3,534.2 52.8,534.8 54.4,534.5C55.9,534.1 57.5,532.9 59.0,532.1C60.6,531.3 62.1,530.7 63.7,529.8C65.3,528.9 66.8,527.6 68.4,526.7C69.9,525.8 71.5,525.4 73.0,524.4C74.6,523.3 76.1,521.2 77.7,520.5C79.2,519.7 80.9,520.0 82.3,519.7C83.8,519.4 84.9,519.8 86.2,518.6C87.5,517.4 88.9,514.6 90.1,512.7C91.3,510.8 92.1,508.4 93.2,507.3C94.4,506.1 95.8,506.6 97.1,505.7C98.4,504.8 99.6,503.8 101.0,501.8C102.4,499.9 104.1,497.0 105.6,494.1C107.2,491.2 108.9,484.9 110.3,484.4C111.7,483.9 113.0,487.5 114.2,490.9C115.4,494.4 116.3,499.5 117.3,504.9C118.3,510.4 119.5,517.4 120.4,523.6C121.3,529.8 122.0,535.2 122.7,542.2C123.5,549.2 124.3,558.5 125.1,565.5C125.8,572.5 126.6,578.0 127.4,584.2C128.2,590.4 128.9,598.4 129.7,602.8C130.6,607.2 131.5,610.3 132.4,610.6C133.3,610.8 134.2,607.2 135.2,604.4C136.2,601.5 137.1,596.1 138.3,593.5C139.4,590.9 140.9,588.3 142.2,588.8C143.5,589.3 144.8,593.2 146.0,596.6C147.3,600.0 148.6,605.4 149.9,609.0C151.2,612.7 152.5,615.9 153.8,618.4C155.1,620.8 156.4,623.3 157.7,623.8C159.0,624.3 160.2,622.1 161.6,621.5C163.0,620.8 164.7,619.8 166.2,619.9C167.8,620.0 169.4,621.3 170.9,622.2C172.5,623.1 174.0,624.6 175.6,625.3C177.1,626.1 178.8,626.1 180.2,626.9C181.7,627.7 182.8,629.1 184.1,630.0C185.4,630.9 186.6,631.8 188.0,632.0C189.4,632.2 190.8,631.0 192.7,631.1C194.5,631.2 196.8,632.7 198.9,632.6C200.9,632.6 203.3,631.5 205.1,630.8C206.9,630.1 208.2,629.4 209.7,628.4C211.3,627.5 213.0,626.8 214.4,625.3C215.8,623.9 217.4,621.3 218.3,619.9C219.2,618.5 218.7,618.9 219.7,616.8C220.7,614.7 222.5,610.2 224.3,607.5C226.1,604.8 228.5,602.3 230.5,600.5C232.6,598.7 234.8,597.0 236.8,596.6C238.7,596.2 240.4,597.5 242.2,598.2C244.0,598.8 245.6,600.9 247.6,600.5C249.7,600.1 252.5,596.2 254.6,595.8C256.7,595.5 258.1,597.8 260.1,598.5C262.0,599.2 264.5,599.4 266.3,600.0C268.1,600.6 269.2,601.2 270.9,602.0C272.6,602.9 274.6,604.9 276.4,605.1C278.2,605.4 279.9,603.7 281.8,603.6C283.8,603.5 286.0,603.8 288.0,604.4C290.1,605.0 292.3,606.4 294.2,607.2C296.2,607.9 297.6,608.5 299.7,608.7C301.7,609.0 304.5,608.5 306.7,608.7C308.9,609.0 311.1,609.1 312.9,610.3C314.7,611.5 316.0,614.4 317.5,616.0C319.1,617.6 320.4,619.3 322.2,619.9C324.0,620.5 326.6,619.3 328.4,619.6C330.2,619.9 331.3,621.3 333.1,621.8C334.9,622.2 337.5,622.5 339.3,622.2C341.1,621.9 342.4,620.7 344.0,619.9C345.5,619.1 347.1,617.3 348.6,617.6C350.2,617.8 351.7,620.3 353.3,621.5C354.8,622.6 356.4,624.4 357.9,624.6C359.5,624.8 361.0,622.7 362.6,622.7C364.2,622.7 365.8,624.0 367.3,624.6C368.7,625.1 369.8,626.6 371.1,626.1C372.4,625.6 373.6,623.1 375.0,621.5C376.5,619.8 377.9,617.2 379.7,616.0C381.5,614.9 384.1,615.6 385.9,614.5C387.7,613.3 388.9,610.7 390.6,609.0C392.2,607.3 394.2,604.1 396.0,604.4C397.8,604.6 399.5,608.3 401.4,610.6C403.4,612.9 405.6,616.4 407.7,618.4C409.7,620.3 412.1,622.0 413.9,622.2C415.7,622.5 416.8,621.5 418.5,619.9C420.2,618.4 422.2,614.6 424.0,612.9C425.8,611.2 428.5,610.3 429.4,609.8" stroke="#0000ff" stroke-width="3.8" fill="none" stroke-linejoin="round" stroke-linecap="round"/>
<path d="M3.4,571.0C4.3,571.2 7.0,572.9 8.5,572.5C10.0,572.1 11.1,570.3 12.4,568.6C13.7,566.9 15.0,564.4 16.3,562.4C17.6,560.5 18.8,558.5 20.2,557.0C21.6,555.4 23.3,554.0 24.9,553.1C26.4,552.2 28.0,551.7 29.5,551.5C31.1,551.4 32.9,552.3 34.2,552.3C35.5,552.4 36.1,553.0 37.3,551.9C38.5,550.7 39.9,548.0 41.2,545.3C42.5,542.7 43.6,538.2 45.1,536.0C46.5,533.8 48.2,533.0 49.7,532.1C51.3,531.3 52.8,531.7 54.4,531.0C55.9,530.4 57.5,529.3 59.0,528.2C60.6,527.2 62.1,525.9 63.7,524.8C65.3,523.8 66.8,523.0 68.4,522.0C69.9,521.0 71.6,519.8 73.0,518.9C74.4,518.0 75.6,517.2 76.9,516.6C78.2,516.0 79.5,515.6 80.8,515.5C82.1,515.4 83.4,516.5 84.7,515.8C86.0,515.1 87.3,513.0 88.6,511.1C89.9,509.3 91.1,506.5 92.4,504.9C93.7,503.4 95.0,503.2 96.3,501.8C97.6,500.4 98.9,498.7 100.2,496.4C101.5,494.1 102.9,490.6 104.1,487.8C105.3,485.1 106.2,482.0 107.2,480.1C108.2,478.1 109.1,475.9 110.3,476.2C111.5,476.4 112.9,478.1 114.2,481.6C115.5,485.1 116.9,490.9 118.1,497.2C119.2,503.4 120.3,511.4 121.2,518.9C122.1,526.4 122.7,534.2 123.5,542.2C124.3,550.2 125.1,559.3 125.8,567.1C126.6,574.8 127.4,582.4 128.2,588.8C129.0,595.3 129.7,602.2 130.5,605.9C131.3,609.7 132.1,611.6 132.8,611.4C133.6,611.1 134.3,607.1 135.2,604.4C136.1,601.6 137.2,597.4 138.3,595.0C139.3,592.7 140.3,590.4 141.4,590.4C142.4,590.4 143.3,591.9 144.5,595.0C145.7,598.2 147.1,604.6 148.4,609.0C149.7,613.4 151.0,618.0 152.3,621.5C153.6,625.0 155.0,628.2 156.1,630.0C157.3,631.8 158.1,632.6 159.3,632.3C160.4,632.1 161.7,630.5 163.1,628.4C164.6,626.4 166.2,622.4 167.8,619.9C169.4,617.4 170.9,615.8 172.5,613.7C174.0,611.6 175.6,609.7 177.1,607.5C178.7,605.3 180.2,602.6 181.8,600.5C183.3,598.4 184.8,597.2 186.4,595.0C188.1,592.8 190.2,589.6 191.9,587.3C193.6,584.9 195.0,581.1 196.5,581.1C198.1,581.1 199.5,584.7 201.2,587.3C202.9,589.9 205.0,594.0 206.6,596.6C208.3,599.2 209.7,601.3 211.3,602.8C212.9,604.4 214.3,605.1 216.0,605.9C217.6,606.7 219.3,606.7 221.2,607.5C223.1,608.3 225.4,609.6 227.4,610.6C229.5,611.6 231.6,612.5 233.6,613.4C235.7,614.3 237.9,615.1 239.9,616.0C241.8,617.0 243.7,618.7 245.3,619.1C246.9,619.6 247.8,619.0 249.2,618.7C250.6,618.3 252.3,616.7 253.8,616.8C255.4,616.9 256.9,618.4 258.5,619.1C260.1,619.9 261.6,621.0 263.2,621.1C264.7,621.3 266.3,620.4 267.8,619.9C269.4,619.4 270.9,618.8 272.5,618.0C274.0,617.3 275.3,616.2 277.1,615.2C279.0,614.3 281.4,613.6 283.4,612.4C285.3,611.3 287.0,608.4 288.8,608.3C290.6,608.1 292.6,610.5 294.2,611.4C295.9,612.2 297.3,613.2 298.9,613.4C300.5,613.6 302.0,612.4 303.6,612.4C305.1,612.5 306.7,613.1 308.2,613.7C309.8,614.3 311.3,615.5 312.9,616.0C314.4,616.5 316.0,616.3 317.5,616.8C319.1,617.3 320.6,618.1 322.2,619.1C323.8,620.1 325.1,621.9 326.9,622.7C328.7,623.5 331.0,623.5 333.1,623.8C335.2,624.0 337.5,624.0 339.3,624.3C341.1,624.5 342.5,625.4 344.0,625.3C345.4,625.3 346.5,624.2 347.8,623.8C349.1,623.4 350.4,622.6 351.7,623.0C353.0,623.4 354.3,625.1 355.6,626.1C356.9,627.2 358.1,628.8 359.5,629.2C360.9,629.6 362.6,628.4 364.2,628.4C365.7,628.4 367.3,628.3 368.8,629.2C370.4,630.1 371.9,632.7 373.5,633.9C375.0,635.1 376.3,636.1 378.1,636.2C379.9,636.3 382.3,634.4 384.4,634.7C386.4,634.9 388.5,636.7 390.6,637.8C392.6,638.8 394.7,640.4 396.8,640.9C398.9,641.4 400.9,640.9 403.0,640.9C405.1,640.9 407.1,641.0 409.2,640.9C411.3,640.8 413.6,640.7 415.4,640.4C417.2,640.2 418.5,639.0 420.1,639.3C421.6,639.7 423.2,641.7 424.7,642.4C426.3,643.2 428.6,643.7 429.4,644.0" stroke="#ff0000" stroke-width="3.8" fill="none" stroke-linejoin="round" stroke-linecap="round"/>
<text transform="translate(369.2,448.6) scale(1,1.03)">Cz</text>
<rect x="636.1" y="402.1" width="89.2" height="285.0" fill="#f0f0f0"/>
<path d="M635.1,544.8H725.3" stroke="#fff" stroke-width="5.5" fill="none"/>
<path d="M564.8,402.1V687.1M493.4,544.8H921.5" stroke="#000" stroke-width="2" fill="none"/>
<path d="M552.8,402.1H565.8M552.8,473.4H564.8M552.8,615.9H564.8M552.8,687.1H565.8M493.4,544.8V556.8M636.1,544.8V556.8M707.5,544.8V556.8M778.8,544.8V556.8M850.2,544.8V556.8M921.5,544.8V556.8" stroke="#000" stroke-width="2" fill="none"/>
<path d="M493.4,560.1C494.1,560.6 496.3,562.2 497.8,563.2C499.3,564.2 501.0,566.6 502.4,566.3C503.9,566.0 504.9,563.5 506.3,561.6C507.7,559.8 509.4,557.1 511.0,555.4C512.5,553.7 514.1,552.4 515.6,551.5C517.2,550.6 518.7,550.4 520.3,550.0C521.9,549.6 523.4,549.9 525.0,549.2C526.5,548.6 528.1,547.3 529.6,546.1C531.2,544.9 532.7,543.4 534.3,542.2C535.8,541.1 537.4,540.4 538.9,539.1C540.5,537.8 542.0,536.0 543.6,534.5C545.2,532.9 546.7,531.2 548.3,529.8C549.8,528.4 551.5,526.8 552.9,525.9C554.3,525.0 555.4,524.6 556.8,524.4C558.2,524.1 559.9,524.5 561.5,524.4C563.0,524.2 564.6,523.9 566.1,523.3C567.7,522.6 569.2,521.8 570.8,520.5C572.3,519.1 574.0,516.5 575.5,515.0C576.9,513.5 578.0,511.8 579.3,511.5C580.6,511.1 581.9,513.0 583.2,512.7C584.5,512.4 585.7,510.9 587.1,509.6C588.5,508.3 590.3,506.4 591.8,504.9C593.2,503.5 594.4,502.4 595.6,501.0C596.9,499.7 598.2,498.0 599.5,496.9C600.8,495.7 602.1,494.1 603.4,494.1C604.7,494.0 606.1,494.3 607.3,496.4C608.5,498.5 609.4,502.2 610.4,506.5C611.4,510.8 612.6,516.1 613.5,522.0C614.4,528.0 615.1,535.5 615.8,542.2C616.6,549.0 617.4,555.9 618.2,562.4C619.0,568.9 619.6,575.4 620.5,581.1C621.4,586.8 622.5,592.7 623.6,596.6C624.8,600.5 626.2,602.2 627.5,604.4C628.8,606.6 630.1,608.0 631.4,609.8C632.7,611.6 634.0,613.2 635.3,615.2C636.6,617.3 637.7,620.0 639.2,622.2C640.6,624.4 642.3,627.2 643.8,628.4C645.4,629.7 646.9,629.5 648.5,629.5C650.0,629.5 651.6,629.3 653.1,628.4C654.7,627.6 656.2,625.9 657.8,624.6C659.4,623.3 660.9,622.0 662.5,620.7C664.0,619.4 665.7,618.0 667.1,616.8C668.5,615.6 669.7,613.8 671.0,613.7C672.3,613.6 673.5,614.7 674.9,616.0C676.3,617.3 678.0,619.4 679.5,621.5C681.1,623.5 682.5,626.2 684.2,628.4C685.9,630.7 688.1,634.4 689.6,634.7C691.2,634.9 692.1,632.5 693.5,630.0C695.0,627.5 696.6,622.4 698.2,619.9C699.7,617.4 701.4,616.5 702.9,615.2C704.3,613.9 705.7,613.0 706.7,612.1C707.7,611.2 707.9,611.4 708.9,609.8C709.9,608.3 711.5,604.6 712.8,602.8C714.1,601.0 715.4,599.3 716.7,598.9C717.9,598.5 719.1,600.0 720.5,600.5C722.0,601.0 723.6,601.9 725.2,602.0C726.8,602.2 728.4,601.8 729.9,601.3C731.3,600.7 732.4,600.1 733.7,598.9C735.0,597.8 736.2,596.1 737.6,594.3C739.1,592.5 740.7,589.6 742.3,588.1C743.8,586.5 745.4,585.6 746.9,584.9C748.5,584.3 750.1,584.0 751.6,584.2C753.2,584.3 754.6,585.5 756.3,585.7C758.0,585.9 760.0,585.0 761.7,585.4C763.4,585.8 764.9,587.4 766.4,588.1C767.8,588.8 768.8,590.0 770.3,589.6C771.7,589.2 773.4,587.1 774.9,585.7C776.5,584.3 778.0,582.5 779.6,581.1C781.1,579.6 782.7,578.1 784.2,577.2C785.8,576.3 787.3,575.5 788.9,575.6C790.5,575.8 792.0,577.1 793.6,578.0C795.1,578.8 796.8,580.2 798.2,580.8C799.6,581.3 800.8,582.1 802.1,581.4C803.4,580.6 804.6,577.9 806.0,576.4C807.4,574.9 809.1,573.2 810.6,572.5C812.2,571.9 813.9,572.1 815.3,572.5C816.7,572.9 817.9,574.1 819.2,574.8C820.5,575.6 821.7,576.7 823.1,577.2C824.5,577.6 826.2,577.4 827.7,577.6C829.3,577.9 830.8,578.7 832.4,578.7C834.0,578.7 835.5,577.9 837.1,577.6C838.6,577.4 840.2,577.3 841.7,577.2C843.3,577.0 844.8,577.1 846.4,576.7C847.9,576.3 849.5,575.5 851.0,574.8C852.6,574.2 854.2,573.4 855.7,573.0C857.3,572.6 858.8,573.1 860.4,572.5C861.9,571.9 863.5,570.4 865.0,569.4C866.6,568.4 868.1,567.0 869.7,566.3C871.2,565.6 872.8,565.2 874.4,565.2C875.9,565.2 877.5,566.2 879.0,566.3C880.6,566.4 882.1,566.4 883.7,565.8C885.2,565.3 886.8,564.0 888.3,563.2C889.9,562.4 891.2,561.4 893.0,561.2C894.8,560.9 897.1,561.5 899.2,561.6C901.3,561.8 903.6,561.6 905.4,562.1C907.2,562.6 908.7,564.0 910.1,564.7C911.5,565.5 912.4,566.4 914.0,566.8C915.5,567.1 918.5,566.8 919.4,566.8" stroke="#0000ff" stroke-width="3.8" fill="none" stroke-linejoin="round" stroke-linecap="round"/>
<path d="M493.4,564.0C494.1,563.2 496.1,560.6 497.8,559.3C499.4,558.0 501.5,557.0 503.2,556.2C504.9,555.4 506.2,555.3 507.9,554.6C509.6,554.0 511.6,553.5 513.3,552.3C515.0,551.2 516.4,549.4 518.0,547.7C519.5,545.9 521.3,543.0 522.6,541.9C523.9,540.8 524.6,540.8 525.7,541.0C526.9,541.2 528.3,542.5 529.6,543.0C530.9,543.5 532.1,544.2 533.5,543.8C534.9,543.4 536.5,541.4 538.2,540.7C539.8,539.9 541.9,540.1 543.6,539.4C545.3,538.8 546.6,538.0 548.3,536.8C549.9,535.6 552.0,533.2 553.7,532.1C555.4,531.1 556.8,531.1 558.4,530.6C559.9,530.0 561.6,529.8 563.0,529.0C564.4,528.2 565.5,527.1 566.9,525.9C568.3,524.7 570.1,522.8 571.6,522.0C573.0,521.2 574.2,521.4 575.5,521.2C576.7,521.1 578.0,521.6 579.3,521.2C580.6,520.9 581.9,520.1 583.2,518.9C584.5,517.8 585.8,515.7 587.1,514.3C588.4,512.8 589.8,511.3 591.0,510.4C592.2,509.5 593.1,509.9 594.1,508.8C595.1,507.8 596.2,506.4 597.2,504.2C598.2,502.0 599.0,498.2 600.3,495.6C601.6,493.0 603.5,489.1 605.0,488.6C606.4,488.1 607.7,489.8 608.9,492.5C610.0,495.2 611.1,500.3 612.0,504.9C612.9,509.6 613.5,514.8 614.3,520.5C615.1,526.2 615.8,532.9 616.6,539.1C617.4,545.3 618.2,551.8 619.0,557.8C619.7,563.7 620.4,569.7 621.3,574.8C622.2,580.0 623.2,585.2 624.4,588.8C625.6,592.5 626.9,594.4 628.3,596.6C629.7,598.8 631.3,600.4 632.9,602.0C634.6,603.7 636.7,605.1 638.4,606.7C640.1,608.3 641.5,609.9 643.0,611.4C644.6,612.8 646.3,614.3 647.7,615.2C649.1,616.1 650.4,617.3 651.6,616.8C652.7,616.3 653.5,615.0 654.7,612.1C655.9,609.3 657.3,603.6 658.6,599.7C659.9,595.8 661.2,592.5 662.5,588.8C663.8,585.2 665.0,581.6 666.3,578.0C667.6,574.3 668.8,570.2 670.2,567.1C671.7,564.0 673.2,561.1 674.9,559.3C676.6,557.5 678.5,556.5 680.3,556.2C682.1,555.9 683.8,557.2 685.8,557.8C687.7,558.3 689.9,559.0 692.0,559.6C694.0,560.3 696.4,561.2 698.2,561.6C700.0,562.1 701.4,561.9 702.9,562.4C704.3,562.9 705.7,564.0 706.7,564.7C707.7,565.5 707.9,565.7 708.9,567.1C709.9,568.5 711.5,571.2 712.8,573.3C714.1,575.4 715.4,577.6 716.7,579.5C717.9,581.5 719.1,583.1 720.5,584.9C722.0,586.8 723.6,588.8 725.2,590.4C726.8,591.9 728.3,593.0 729.9,594.3C731.4,595.6 733.1,597.6 734.5,598.2C735.9,598.7 737.1,598.3 738.4,597.4C739.7,596.5 740.9,594.1 742.3,592.7C743.7,591.3 745.5,589.3 746.9,588.8C748.4,588.3 749.5,588.8 750.8,589.6C752.1,590.4 753.4,592.3 754.7,593.5C756.0,594.7 757.3,595.7 758.6,596.6C759.9,597.5 761.2,597.9 762.5,598.9C763.8,599.9 765.1,601.9 766.4,602.5C767.7,603.2 768.8,603.2 770.3,602.8C771.7,602.5 773.4,601.1 774.9,600.5C776.5,599.8 778.0,599.4 779.6,598.9C781.1,598.4 782.7,598.4 784.2,597.4C785.8,596.3 787.5,594.1 788.9,592.7C790.3,591.3 791.4,589.9 792.8,588.8C794.2,587.8 795.8,587.6 797.4,586.5C799.1,585.4 801.2,582.6 802.9,582.3C804.6,582.0 806.0,583.9 807.5,584.9C809.1,586.0 810.6,587.7 812.2,588.8C813.8,590.0 815.3,591.9 816.9,591.9C818.4,591.9 820.0,589.9 821.5,588.8C823.1,587.8 824.6,586.6 826.2,585.7C827.7,584.9 829.3,584.2 830.8,583.9C832.4,583.5 834.0,584.0 835.5,583.9C837.1,583.7 838.7,582.6 840.2,582.9C841.6,583.2 842.5,584.4 844.1,585.7C845.6,587.0 847.8,590.4 849.5,590.7C851.2,591.0 852.3,588.6 854.2,587.3C856.0,585.9 858.3,583.8 860.4,582.6C862.4,581.5 864.5,581.1 866.6,580.3C868.7,579.5 870.7,578.9 872.8,578.0C874.9,577.0 876.9,576.1 879.0,574.5C881.1,573.0 883.4,569.1 885.2,568.6C887.0,568.2 888.3,571.0 889.9,571.7C891.4,572.5 892.7,573.3 894.5,573.3C896.4,573.3 898.7,572.3 900.8,571.7C902.8,571.2 904.9,570.5 907.0,570.2C909.0,569.9 911.1,570.4 913.2,569.9C915.3,569.4 918.4,567.5 919.4,567.1" stroke="#ff0000" stroke-width="3.8" fill="none" stroke-linejoin="round" stroke-linecap="round"/>
<text transform="translate(862.6,448.6) scale(1,1.03)">Cz</text>
<rect x="1125.3" y="402.1" width="89.2" height="285.0" fill="#f0f0f0"/>
<path d="M1124.3,544.8H1214.5" stroke="#fff" stroke-width="5.5" fill="none"/>
<path d="M1054.0,402.1V687.1M982.6,544.8H1410.8" stroke="#000" stroke-width="2" fill="none"/>
<path d="M1042.0,402.1H1055.0M1042.0,473.4H1054.0M1042.0,615.9H1054.0M1042.0,687.1H1055.0M982.6,544.8V556.8M1125.3,544.8V556.8M1196.7,544.8V556.8M1268.0,544.8V556.8M1339.4,544.8V556.8M1410.8,544.8V556.8" stroke="#000" stroke-width="2" fill="none"/>
<path d="M982.8,564.0C983.5,563.6 985.6,562.8 987.0,561.6C988.3,560.5 989.6,557.9 990.9,557.0C992.2,556.0 993.3,556.7 994.8,555.9C996.2,555.1 997.9,553.7 999.4,552.3C1001.0,550.9 1002.5,549.1 1004.1,547.7C1005.6,546.2 1007.2,544.7 1008.7,543.8C1010.3,542.9 1011.9,542.9 1013.4,542.2C1015.0,541.6 1016.5,540.8 1018.1,539.9C1019.6,539.0 1021.2,537.7 1022.7,536.8C1024.3,535.8 1025.8,534.7 1027.4,534.1C1028.9,533.6 1030.5,533.4 1032.0,533.4C1033.6,533.3 1035.3,533.1 1036.7,533.7C1038.1,534.2 1039.2,535.7 1040.6,536.8C1042.0,537.9 1043.8,539.7 1045.3,540.4C1046.7,541.0 1047.8,541.0 1049.1,540.7C1050.4,540.3 1051.6,539.9 1053.0,538.3C1054.4,536.8 1056.1,533.5 1057.7,531.3C1059.2,529.1 1060.8,526.6 1062.3,525.1C1063.9,523.7 1065.5,523.1 1067.0,522.8C1068.6,522.5 1070.1,523.5 1071.7,523.3C1073.2,523.0 1074.8,522.5 1076.3,521.2C1077.9,520.0 1079.7,518.0 1081.0,515.8C1082.3,513.6 1083.1,511.4 1084.1,508.0C1085.1,504.7 1086.0,500.8 1087.2,495.6C1088.4,490.4 1089.8,478.8 1091.1,477.0C1092.4,475.2 1093.8,480.6 1095.0,484.7C1096.1,488.9 1097.2,496.1 1098.1,501.8C1099.0,507.5 1099.6,512.7 1100.4,518.9C1101.2,525.1 1102.0,532.1 1102.7,539.1C1103.5,546.1 1104.3,553.6 1105.1,560.9C1105.8,568.1 1106.5,575.6 1107.4,582.6C1108.3,589.6 1109.5,597.8 1110.5,602.8C1111.5,607.9 1112.6,611.2 1113.6,612.9C1114.7,614.6 1115.6,613.2 1116.7,612.9C1117.9,612.7 1119.3,610.2 1120.6,611.4C1121.9,612.5 1123.3,616.4 1124.5,619.9C1125.7,623.4 1126.6,628.2 1127.6,632.3C1128.6,636.5 1129.7,641.1 1130.7,644.8C1131.7,648.4 1132.8,652.1 1133.8,654.1C1134.8,656.0 1135.9,656.4 1136.9,656.4C1138.0,656.4 1139.0,655.8 1140.0,654.1C1141.1,652.4 1142.0,649.4 1143.1,646.3C1144.3,643.2 1145.7,639.1 1147.0,635.4C1148.3,631.8 1149.6,627.3 1150.9,624.6C1152.2,621.8 1153.5,620.2 1154.8,619.1C1156.1,618.0 1157.4,617.4 1158.7,618.0C1160.0,618.7 1161.3,620.6 1162.6,623.0C1163.9,625.4 1165.1,629.4 1166.4,632.3C1167.7,635.3 1168.9,638.5 1170.3,640.9C1171.7,643.2 1173.3,645.2 1175.0,646.3C1176.7,647.5 1178.5,647.5 1180.4,647.9C1182.4,648.3 1184.7,648.8 1186.6,648.6C1188.6,648.5 1190.4,647.5 1192.1,647.1C1193.8,646.7 1195.6,647.2 1196.7,646.3C1197.9,645.4 1197.9,643.7 1198.9,641.7C1199.9,639.6 1201.3,636.5 1202.8,633.9C1204.2,631.3 1205.9,628.3 1207.4,626.1C1209.0,623.9 1210.7,622.6 1212.1,620.7C1213.5,618.7 1214.6,616.9 1216.0,614.5C1217.4,612.0 1219.0,607.9 1220.6,605.9C1222.3,604.0 1224.4,604.0 1226.1,602.8C1227.8,601.6 1229.3,600.6 1230.7,598.9C1232.2,597.2 1233.3,594.3 1234.6,592.7C1235.9,591.2 1237.1,590.3 1238.5,589.6C1239.9,589.0 1241.5,588.6 1243.2,588.8C1244.8,589.1 1246.8,590.8 1248.6,591.2C1250.4,591.5 1252.1,590.5 1254.0,591.2C1256.0,591.8 1258.3,594.8 1260.3,595.0C1262.2,595.3 1263.9,593.5 1265.7,592.7C1267.5,591.9 1269.3,590.6 1271.1,590.4C1272.9,590.2 1274.8,591.2 1276.6,591.6C1278.4,592.1 1280.3,593.3 1282.0,593.2C1283.7,593.1 1285.1,591.2 1286.7,591.2C1288.2,591.2 1289.8,592.5 1291.3,593.2C1292.9,593.9 1294.2,594.7 1296.0,595.4C1297.8,596.0 1300.5,596.8 1302.2,596.9C1303.9,597.0 1304.7,597.0 1306.1,595.8C1307.5,594.6 1309.2,591.2 1310.7,589.6C1312.3,588.0 1314.0,586.1 1315.4,586.2C1316.8,586.3 1318.0,589.0 1319.3,590.4C1320.6,591.7 1321.8,593.8 1323.2,594.3C1324.6,594.7 1326.2,593.3 1327.8,593.2C1329.5,593.1 1331.6,594.1 1333.3,593.5C1335.0,592.9 1336.4,590.6 1337.9,589.6C1339.5,588.6 1341.0,588.2 1342.6,587.3C1344.2,586.4 1345.7,585.5 1347.3,584.2C1348.8,582.9 1350.5,581.3 1351.9,579.5C1353.3,577.7 1354.5,574.8 1355.8,573.3C1357.1,571.7 1358.4,570.2 1359.7,570.2C1361.0,570.2 1362.3,572.4 1363.6,573.3C1364.9,574.2 1366.0,575.8 1367.5,575.6C1368.9,575.4 1370.6,573.1 1372.1,572.1C1373.7,571.0 1375.2,569.5 1376.8,569.4C1378.3,569.4 1379.9,570.7 1381.4,571.7C1383.0,572.8 1384.4,574.6 1386.1,575.6C1387.8,576.7 1389.7,577.2 1391.5,578.0C1393.4,578.7 1395.2,580.5 1397.0,580.3C1398.8,580.0 1400.6,577.4 1402.4,576.4C1404.2,575.4 1406.9,574.5 1407.9,574.1" stroke="#0000ff" stroke-width="3.8" fill="none" stroke-linejoin="round" stroke-linecap="round"/>
<path d="M982.8,567.9C983.5,567.6 985.5,567.0 987.0,566.3C988.5,565.6 990.2,565.0 991.7,563.7C993.1,562.4 994.2,560.4 995.5,558.5C996.8,556.6 998.1,554.3 999.4,552.3C1000.7,550.4 1002.0,548.4 1003.3,546.9C1004.6,545.4 1005.8,543.9 1007.2,543.5C1008.6,543.0 1009.9,543.8 1011.9,544.1C1013.8,544.4 1017.0,545.6 1018.8,545.3C1020.7,545.0 1021.4,543.2 1022.7,542.2C1024.0,541.2 1025.3,540.5 1026.6,539.4C1027.9,538.4 1029.3,536.4 1030.5,536.0C1031.7,535.6 1032.4,536.3 1033.6,536.8C1034.8,537.2 1036.2,539.1 1037.5,538.8C1038.8,538.5 1040.2,536.7 1041.4,535.2C1042.5,533.7 1043.4,531.2 1044.5,529.8C1045.5,528.4 1046.4,526.8 1047.6,526.7C1048.8,526.6 1050.3,528.4 1051.5,529.0C1052.6,529.7 1053.4,531.0 1054.6,530.6C1055.7,530.2 1057.2,528.0 1058.5,526.7C1059.8,525.4 1061.0,523.9 1062.3,522.8C1063.6,521.7 1064.9,520.8 1066.2,520.2C1067.5,519.6 1068.7,519.8 1070.1,519.2C1071.5,518.6 1073.2,517.8 1074.8,516.6C1076.3,515.4 1078.0,514.0 1079.4,511.9C1080.9,509.9 1082.2,507.4 1083.3,504.2C1084.5,500.9 1085.5,496.0 1086.4,492.5C1087.3,489.0 1087.9,485.3 1088.8,483.2C1089.6,481.1 1090.6,479.7 1091.6,480.1C1092.5,480.5 1093.2,482.4 1094.2,485.5C1095.2,488.6 1096.3,493.7 1097.3,498.7C1098.3,503.8 1099.4,509.3 1100.4,515.8C1101.4,522.3 1102.5,530.0 1103.5,537.6C1104.6,545.1 1105.7,553.9 1106.6,560.9C1107.5,567.9 1108.0,573.8 1109.0,579.5C1109.9,585.2 1110.9,591.2 1112.1,595.0C1113.2,598.9 1114.5,600.6 1115.9,602.8C1117.4,605.0 1119.3,606.4 1120.6,608.3C1121.9,610.1 1122.7,611.0 1123.7,613.7C1124.8,616.4 1125.7,620.9 1126.8,624.6C1128.0,628.2 1129.5,632.3 1130.7,635.4C1131.9,638.5 1132.8,641.5 1133.8,643.2C1134.8,644.9 1135.9,645.8 1136.9,645.5C1138.0,645.3 1139.0,644.1 1140.0,641.7C1141.1,639.2 1142.0,634.9 1143.1,630.8C1144.3,626.6 1145.7,621.2 1147.0,616.8C1148.3,612.4 1149.5,608.5 1150.9,604.4C1152.3,600.2 1154.0,594.8 1155.6,591.9C1157.1,589.1 1158.7,588.2 1160.2,587.3C1161.8,586.4 1163.5,586.8 1164.9,586.5C1166.3,586.2 1167.3,586.3 1168.8,585.7C1170.2,585.1 1172.0,582.7 1173.4,582.9C1174.9,583.2 1176.0,585.1 1177.3,587.3C1178.6,589.4 1179.9,593.6 1181.2,595.8C1182.5,598.0 1183.7,599.3 1185.1,600.5C1186.5,601.6 1188.2,602.2 1189.7,602.8C1191.3,603.4 1193.1,603.4 1194.4,604.1C1195.7,604.7 1196.8,606.0 1197.5,606.7C1198.3,607.4 1198.0,607.1 1198.9,608.3C1199.8,609.4 1201.3,612.8 1202.8,613.7C1204.2,614.6 1205.9,613.9 1207.4,613.7C1209.0,613.4 1210.3,612.1 1212.1,612.1C1213.9,612.1 1216.5,613.7 1218.3,613.7C1220.1,613.7 1221.3,612.7 1223.0,612.1C1224.6,611.6 1226.6,610.8 1228.4,610.6C1230.2,610.3 1231.9,610.3 1233.8,610.6C1235.8,610.8 1238.0,612.1 1240.1,612.1C1242.1,612.1 1244.2,611.0 1246.3,610.6C1248.3,610.2 1250.4,609.9 1252.5,609.8C1254.6,609.7 1256.9,610.3 1258.7,609.8C1260.5,609.3 1261.8,608.0 1263.4,606.7C1264.9,605.4 1266.5,603.6 1268.0,602.0C1269.6,600.5 1271.1,598.3 1272.7,597.4C1274.2,596.5 1275.7,596.3 1277.3,596.6C1279.0,596.9 1281.0,598.5 1282.8,598.9C1284.6,599.3 1286.5,599.4 1288.2,598.9C1289.9,598.4 1291.3,596.5 1292.9,595.8C1294.4,595.1 1295.7,594.7 1297.5,594.7C1299.4,594.7 1301.7,596.0 1303.8,595.8C1305.8,595.6 1308.2,593.5 1310.0,593.5C1311.8,593.5 1313.1,595.0 1314.6,595.8C1316.2,596.6 1317.7,598.3 1319.3,598.2C1320.8,598.0 1322.1,596.6 1324.0,595.0C1325.8,593.5 1328.4,589.3 1330.2,588.8C1332.0,588.3 1333.0,591.1 1334.8,591.9C1336.6,592.8 1339.1,593.8 1341.0,593.8C1343.0,593.9 1344.7,593.1 1346.5,592.2C1348.3,591.4 1350.2,589.7 1351.9,588.8C1353.6,588.0 1354.8,586.7 1356.6,587.0C1358.4,587.3 1361.0,590.3 1362.8,590.7C1364.6,591.1 1365.9,590.2 1367.5,589.6C1369.0,589.0 1370.3,587.1 1372.1,587.3C1373.9,587.4 1376.3,590.6 1378.3,590.4C1380.4,590.1 1382.5,586.3 1384.5,585.7C1386.6,585.2 1389.0,587.6 1390.8,587.0C1392.6,586.3 1393.9,583.9 1395.4,581.8C1397.0,579.8 1398.7,575.6 1400.1,574.5C1401.5,573.5 1402.5,575.1 1404.0,575.6C1405.4,576.2 1407.9,577.6 1408.6,578.0" stroke="#ff0000" stroke-width="3.8" fill="none" stroke-linejoin="round" stroke-linecap="round"/>
<text transform="translate(1344.4,448.6) scale(1,1.03)">Cz</text>
<rect x="146.3" y="751.4" width="89.2" height="285.0" fill="#f0f0f0"/>
<path d="M145.3,894.1H235.5" stroke="#fff" stroke-width="5.5" fill="none"/>
<path d="M75.0,751.4V1036.4M3.7,894.1H431.8" stroke="#000" stroke-width="2" fill="none"/>
<path d="M63.0,751.4H76.0M63.0,822.6H75.0M63.0,965.1H75.0M63.0,1036.4H76.0M3.7,894.1V906.1M146.3,894.1V906.1M217.7,894.1V906.1M289.0,894.1V906.1M360.4,894.1V906.1M431.8,894.1V906.1" stroke="#000" stroke-width="2" fill="none"/>
<path d="M3.4,907.5C4.0,907.2 5.7,905.9 7.0,905.3C8.2,904.8 9.6,904.0 10.9,904.1C12.2,904.1 13.5,905.1 14.8,905.6C16.1,906.2 17.3,907.3 18.6,907.5C19.9,907.8 21.2,907.8 22.5,907.2C23.8,906.6 25.0,905.6 26.4,904.1C27.8,902.5 29.5,899.8 31.1,897.9C32.6,895.9 34.2,893.9 35.7,892.4C37.3,891.0 38.8,890.1 40.4,889.3C41.9,888.6 43.5,887.9 45.1,887.8C46.6,887.7 48.3,888.5 49.7,888.9C51.1,889.2 52.3,890.1 53.6,889.8C54.9,889.5 56.1,888.4 57.5,887.3C58.9,886.2 60.6,884.6 62.1,883.1C63.7,881.6 65.3,879.6 66.8,878.5C68.4,877.3 69.9,876.5 71.5,876.1C73.0,875.8 74.6,876.1 76.1,876.4C77.7,876.8 79.4,878.5 80.8,878.5C82.2,878.4 83.4,877.6 84.7,876.1C86.0,874.7 87.3,871.6 88.6,869.9C89.9,868.2 91.1,866.5 92.4,866.0C93.7,865.5 94.9,866.9 96.3,866.8C97.8,866.7 99.6,866.4 101.0,865.3C102.4,864.1 103.6,861.9 104.9,859.8C106.2,857.7 107.5,853.0 108.8,852.8C110.1,852.7 111.5,855.4 112.6,859.0C113.8,862.7 114.7,868.9 115.7,874.6C116.8,880.3 117.8,887.0 118.9,893.2C119.9,899.4 120.9,906.2 122.0,911.9C123.0,917.6 124.0,922.7 125.1,927.4C126.1,932.1 127.3,937.2 128.2,939.8C129.1,942.4 129.6,943.7 130.5,942.9C131.4,942.2 132.5,938.0 133.6,935.2C134.8,932.3 136.2,928.3 137.5,925.8C138.8,923.4 140.1,920.4 141.4,920.4C142.7,920.4 144.0,923.4 145.3,925.8C146.6,928.3 147.9,932.2 149.2,935.2C150.4,938.1 151.7,941.1 153.0,943.7C154.3,946.3 155.5,948.5 156.9,950.7C158.3,952.9 160.0,955.0 161.6,956.9C163.1,958.9 164.7,960.3 166.2,962.4C167.8,964.4 169.4,967.5 170.9,969.4C172.5,971.2 174.0,972.2 175.6,973.2C177.1,974.3 178.8,974.1 180.2,975.6C181.7,977.0 182.8,979.7 184.1,981.8C185.4,983.9 186.6,985.9 188.0,988.0C189.4,990.1 191.0,992.3 192.7,994.2C194.3,996.2 196.4,999.3 198.1,999.6C199.8,1000.0 201.2,997.7 202.8,996.5C204.3,995.4 205.9,993.6 207.4,992.7C209.0,991.7 210.5,992.0 212.1,991.1C213.6,990.2 215.6,988.1 216.7,987.2C217.9,986.3 217.9,986.7 218.9,985.7C219.9,984.6 221.3,982.2 222.8,981.0C224.2,979.8 225.9,979.1 227.4,978.7C229.0,978.3 230.5,979.0 232.1,978.7C233.6,978.4 235.2,977.3 236.8,976.8C238.3,976.3 239.9,976.2 241.4,975.6C243.0,975.0 244.5,974.4 246.1,973.2C247.6,972.1 249.2,970.0 250.7,968.6C252.3,967.1 253.8,964.9 255.4,964.4C256.9,963.9 258.8,965.2 260.1,965.5C261.4,965.8 262.0,966.8 263.2,966.2C264.3,965.7 265.8,963.7 267.0,962.4C268.3,961.1 269.5,959.6 270.9,958.5C272.4,957.4 274.2,956.7 275.6,955.8C277.0,954.9 278.1,954.2 279.5,953.0C280.9,951.9 282.5,949.9 284.1,949.2C285.8,948.4 287.9,948.2 289.6,948.4C291.3,948.5 292.7,950.2 294.2,949.9C295.8,949.7 297.3,948.0 298.9,946.8C300.5,945.6 302.0,943.7 303.6,942.6C305.1,941.6 306.7,941.1 308.2,940.6C309.8,940.1 311.3,939.3 312.9,939.5C314.4,939.8 316.1,941.6 317.5,942.2C319.0,942.7 320.1,942.9 321.4,942.6C322.7,942.4 323.9,940.4 325.3,940.6C326.7,940.8 328.4,942.9 330.0,943.7C331.5,944.5 333.1,945.2 334.6,945.3C336.2,945.3 337.7,944.9 339.3,944.2C340.8,943.5 342.4,942.3 344.0,941.1C345.5,939.9 347.2,937.4 348.6,937.0C350.0,936.7 351.2,938.3 352.5,939.1C353.8,939.8 355.0,941.1 356.4,941.7C357.8,942.3 359.4,942.1 361.0,942.6C362.7,943.1 364.8,944.9 366.5,944.8C368.2,944.7 369.7,943.5 371.1,942.2C372.6,940.8 373.7,938.1 375.0,936.7C376.3,935.4 377.6,934.0 378.9,933.9C380.2,933.9 381.6,935.9 382.8,936.4C384.0,936.9 384.7,937.7 385.9,937.0C387.1,936.4 388.2,934.1 389.8,932.4C391.3,930.6 393.5,926.7 395.2,926.6C396.9,926.6 398.3,930.2 399.9,932.1C401.4,933.9 402.9,936.1 404.5,937.5C406.2,938.9 408.2,940.0 410.0,940.6C411.8,941.2 413.7,941.5 415.4,941.1C417.1,940.6 418.5,939.1 420.1,938.0C421.6,936.9 423.2,935.2 424.7,934.4C426.3,933.6 428.6,933.5 429.4,933.3" stroke="#0000ff" stroke-width="3.8" fill="none" stroke-linejoin="round" stroke-linecap="round"/>
<path d="M3.4,912.6C4.4,913.0 7.7,914.9 9.3,914.7C11.0,914.4 11.9,912.7 13.2,911.1C14.5,909.5 15.7,906.6 17.1,904.9C18.5,903.1 20.2,901.9 21.8,900.7C23.3,899.5 25.0,898.4 26.4,897.6C27.8,896.7 29.1,895.8 30.3,895.6C31.5,895.3 32.2,896.1 33.4,896.3C34.6,896.6 36.0,897.6 37.3,897.1C38.6,896.6 39.9,894.6 41.2,893.2C42.5,891.8 43.6,889.5 45.1,888.6C46.5,887.7 48.3,888.2 49.7,887.8C51.1,887.4 52.3,886.9 53.6,886.2C54.9,885.5 56.1,884.7 57.5,883.6C58.9,882.5 60.6,880.7 62.1,879.5C63.7,878.4 65.3,877.3 66.8,876.9C68.4,876.5 69.9,877.0 71.5,877.2C73.0,877.5 74.7,878.2 76.1,878.5C77.6,878.7 78.6,879.2 80.0,878.9C81.4,878.7 83.3,877.9 84.7,876.9C86.1,875.9 87.3,874.3 88.6,873.0C89.9,871.7 91.1,870.0 92.4,869.1C93.7,868.3 95.0,868.7 96.3,868.1C97.6,867.4 98.9,866.9 100.2,865.3C101.5,863.6 102.7,860.5 104.1,858.3C105.5,856.1 107.3,852.0 108.8,852.0C110.2,852.0 111.5,855.3 112.6,858.3C113.8,861.2 114.7,864.9 115.7,869.9C116.8,875.0 117.9,882.3 118.9,888.6C119.8,894.8 120.3,901.2 121.2,907.2C122.1,913.2 123.3,918.9 124.3,924.3C125.3,929.7 126.4,936.1 127.4,939.8C128.4,943.6 129.5,946.8 130.5,946.8C131.5,946.8 132.5,942.4 133.6,939.8C134.8,937.2 136.2,933.2 137.5,931.3C138.8,929.3 140.1,927.5 141.4,928.2C142.7,928.8 144.0,931.7 145.3,935.2C146.6,938.7 147.9,944.8 149.2,949.2C150.4,953.6 151.7,958.2 153.0,961.6C154.3,964.9 155.5,967.0 156.9,969.4C158.3,971.7 160.0,974.3 161.6,975.6C163.1,976.9 164.7,977.4 166.2,977.1C167.8,976.9 169.4,975.0 170.9,974.0C172.5,973.0 174.0,972.2 175.6,970.9C177.1,969.6 178.8,967.6 180.2,966.2C181.7,964.9 182.7,963.5 184.1,962.8C185.5,962.2 187.3,963.1 188.8,962.4C190.2,961.6 191.2,959.8 192.7,958.5C194.1,957.2 195.8,954.6 197.3,954.6C198.9,954.6 200.4,956.9 202.0,958.5C203.5,960.0 205.1,962.5 206.6,963.9C208.2,965.3 209.7,966.0 211.3,967.0C212.9,968.1 214.6,969.1 216.0,970.1C217.4,971.2 218.3,971.8 219.7,973.2C221.1,974.7 222.8,976.9 224.3,978.7C225.9,980.5 227.4,982.3 229.0,984.1C230.5,985.9 232.1,987.6 233.6,989.2C235.2,990.9 236.6,992.6 238.3,994.2C240.0,995.8 241.9,998.4 243.7,998.9C245.6,999.4 247.5,998.0 249.2,997.3C250.9,996.7 252.3,995.0 253.8,995.0C255.4,995.0 256.9,996.6 258.5,997.3C260.1,998.0 261.6,999.3 263.2,999.2C264.7,999.1 266.3,997.5 267.8,996.5C269.4,995.6 270.9,994.8 272.5,993.4C274.0,992.1 275.6,990.0 277.1,988.3C278.7,986.6 280.3,984.6 281.8,983.0C283.4,981.4 284.9,979.7 286.5,978.7C288.0,977.6 289.6,977.2 291.1,976.8C292.7,976.4 294.2,976.9 295.8,976.3C297.3,975.7 298.9,974.3 300.5,973.2C302.0,972.2 303.6,970.7 305.1,970.1C306.7,969.5 308.2,969.8 309.8,969.7C311.3,969.5 312.9,969.7 314.4,969.0C316.0,968.4 317.5,966.9 319.1,965.9C320.6,965.0 322.2,964.0 323.8,963.4C325.3,962.9 326.9,962.9 328.4,962.4C330.0,961.8 331.5,960.3 333.1,960.0C334.6,959.8 336.1,960.2 337.7,960.8C339.4,961.4 341.6,963.6 343.2,963.4C344.7,963.3 345.6,961.5 347.1,960.0C348.5,958.6 350.2,955.5 351.7,954.6C353.3,953.7 354.8,954.3 356.4,954.6C357.9,954.9 359.5,956.0 361.0,956.6C362.6,957.3 364.2,957.8 365.7,958.5C367.3,959.2 368.8,960.2 370.4,960.8C371.9,961.5 373.5,962.6 375.0,962.4C376.6,962.1 378.1,960.2 379.7,959.3C381.2,958.3 382.8,957.0 384.4,956.6C385.9,956.2 387.5,956.4 389.0,956.9C390.6,957.5 392.1,959.0 393.7,960.0C395.2,961.0 396.7,962.2 398.3,962.8C400.0,963.5 402.0,963.9 403.8,963.9C405.6,963.9 407.5,963.1 409.2,962.8C410.9,962.6 412.3,962.2 413.9,962.4C415.4,962.5 416.8,963.2 418.5,963.9C420.2,964.6 422.2,965.6 424.0,966.6C425.8,967.5 428.5,968.9 429.4,969.4" stroke="#ff0000" stroke-width="3.8" fill="none" stroke-linejoin="round" stroke-linecap="round"/>
<text transform="translate(369.2,802.7) scale(1,1.03)">Pz</text>
<rect x="636.1" y="751.4" width="89.2" height="285.0" fill="#f0f0f0"/>
<path d="M635.1,894.1H725.3" stroke="#fff" stroke-width="5.5" fill="none"/>
<path d="M564.8,751.4V1036.4M493.4,894.1H921.5" stroke="#000" stroke-width="2" fill="none"/>
<path d="M552.8,751.4H565.8M552.8,822.6H564.8M552.8,965.1H564.8M552.8,1036.4H565.8M493.4,894.1V906.1M636.1,894.1V906.1M707.5,894.1V906.1M778.8,894.1V906.1M850.2,894.1V906.1M921.5,894.1V906.1" stroke="#000" stroke-width="2" fill="none"/>
<path d="M493.4,903.3C494.1,904.0 496.3,906.2 497.8,907.2C499.2,908.2 500.7,909.7 502.1,909.5C503.5,909.4 504.8,907.6 506.3,906.4C507.8,905.3 509.4,903.9 511.0,902.5C512.5,901.2 514.1,899.3 515.6,898.2C517.2,897.1 518.7,896.5 520.3,896.0C521.9,895.6 523.4,896.0 525.0,895.6C526.5,895.1 528.1,894.0 529.6,893.2C531.2,892.4 532.7,891.7 534.3,890.9C535.8,890.1 537.4,889.2 538.9,888.2C540.5,887.3 541.9,886.2 543.6,885.5C545.3,884.7 547.1,884.5 549.0,883.9C551.0,883.3 553.2,881.9 555.3,881.6C557.3,881.3 559.5,882.1 561.5,882.0C563.4,882.0 565.2,881.5 566.9,881.1C568.6,880.7 570.0,880.2 571.6,879.5C573.1,878.8 574.8,877.6 576.2,876.9C577.7,876.2 578.7,875.5 580.1,875.4C581.5,875.2 583.2,876.5 584.8,876.1C586.3,875.7 588.0,874.1 589.4,873.0C590.9,872.0 592.0,871.2 593.3,869.9C594.6,868.6 596.0,866.3 597.2,865.3C598.4,864.2 599.5,862.6 600.6,863.4C601.8,864.2 603.1,867.5 604.2,869.9C605.3,872.3 606.3,875.2 607.3,877.7C608.3,880.1 609.4,882.6 610.4,884.7C611.4,886.7 612.5,887.7 613.5,890.1C614.6,892.6 615.7,896.3 616.6,899.4C617.5,902.5 618.2,905.6 619.0,908.8C619.7,911.9 620.2,915.6 621.3,918.1C622.3,920.5 623.9,922.0 625.2,923.5C626.5,925.1 627.8,925.5 629.1,927.4C630.3,929.3 631.6,932.6 632.9,935.2C634.2,937.8 635.5,940.2 636.8,942.9C638.1,945.7 639.3,949.3 640.7,951.5C642.1,953.7 643.8,954.7 645.4,956.1C646.9,957.6 648.5,958.3 650.0,960.0C651.6,961.7 653.1,964.7 654.7,966.2C656.2,967.7 657.7,968.7 659.4,969.0C661.0,969.4 663.0,968.8 664.8,968.6C666.6,968.4 668.7,967.3 670.2,967.8C671.8,968.3 672.9,969.6 674.1,971.7C675.3,973.8 676.2,977.2 677.2,980.2C678.3,983.2 679.2,986.3 680.3,989.5C681.5,992.8 682.7,996.8 684.2,999.6C685.8,1002.5 688.0,1006.5 689.6,1006.6C691.3,1006.8 692.8,1002.4 694.3,1000.4C695.9,998.5 697.3,996.5 699.0,995.0C700.7,993.4 702.7,992.5 704.4,991.1C706.1,989.7 708.2,987.2 709.1,986.4C709.9,985.7 708.7,987.3 709.7,986.4C710.7,985.6 713.3,981.9 715.1,981.5C716.9,981.1 718.9,983.5 720.5,984.1C722.2,984.7 723.6,985.3 725.2,985.2C726.8,985.1 728.3,984.3 729.9,983.3C731.4,982.4 733.1,981.5 734.5,979.4C735.9,977.4 737.1,973.8 738.4,970.9C739.7,968.1 740.9,964.6 742.3,962.4C743.7,960.2 745.4,958.6 746.9,957.7C748.5,956.8 750.2,957.4 751.6,957.2C753.0,957.1 753.9,957.1 755.5,956.6C757.0,956.1 759.2,954.4 760.9,954.1C762.6,953.9 764.2,954.8 765.6,955.1C767.0,955.3 768.1,956.5 769.5,955.7C770.9,954.8 772.5,952.1 774.1,949.9C775.8,947.8 777.9,944.6 779.6,942.6C781.3,940.6 782.7,938.2 784.2,938.0C785.8,937.7 787.3,939.9 788.9,941.1C790.5,942.3 792.0,944.2 793.6,945.3C795.1,946.3 796.8,947.4 798.2,947.3C799.6,947.2 800.8,946.3 802.1,944.5C803.4,942.7 804.6,938.7 806.0,936.7C807.4,934.8 809.0,933.3 810.6,932.8C812.3,932.4 814.3,933.1 816.1,933.9C817.9,934.8 819.6,937.9 821.5,938.0C823.5,938.0 825.7,934.8 827.7,934.4C829.8,934.0 832.1,935.1 834.0,935.5C835.8,935.8 837.1,936.2 838.6,936.4C840.2,936.6 841.7,937.1 843.3,936.7C844.8,936.3 846.1,934.8 847.9,933.9C849.8,933.1 852.1,932.6 854.2,931.8C856.2,930.9 858.3,930.3 860.4,929.0C862.4,927.6 864.8,924.8 866.6,923.5C868.4,922.3 869.7,922.0 871.2,921.5C872.8,921.0 874.4,920.2 875.9,920.4C877.5,920.6 879.0,922.7 880.6,922.7C882.1,922.7 883.7,921.5 885.2,920.4C886.8,919.3 888.3,917.2 889.9,916.2C891.4,915.3 892.7,914.7 894.5,914.7C896.4,914.6 898.7,916.0 900.8,915.7C902.8,915.5 905.2,913.2 907.0,913.1C908.8,913.0 910.1,914.7 911.6,915.3C913.2,915.9 915.0,916.5 916.3,916.8C917.6,917.2 918.9,917.2 919.4,917.3" stroke="#0000ff" stroke-width="3.8" fill="none" stroke-linejoin="round" stroke-linecap="round"/>
<path d="M493.4,906.9C494.1,906.6 496.3,905.5 497.8,904.9C499.3,904.3 501.0,903.7 502.4,903.3C503.9,902.9 504.9,903.2 506.3,902.5C507.7,901.9 509.4,900.5 511.0,899.4C512.5,898.4 514.1,897.5 515.6,896.3C517.2,895.2 518.9,893.7 520.3,892.4C521.7,891.1 522.8,889.3 524.2,888.6C525.6,887.8 527.2,887.9 528.8,887.8C530.5,887.7 532.7,887.4 534.3,887.8C535.8,888.1 536.7,888.9 538.2,889.8C539.6,890.7 541.3,892.8 542.8,892.9C544.4,893.0 545.9,891.1 547.5,890.4C549.0,889.7 550.6,888.9 552.1,888.6C553.7,888.2 555.3,888.4 556.8,888.2C558.4,888.1 559.9,888.1 561.5,887.8C563.0,887.4 564.6,887.0 566.1,886.2C567.7,885.5 569.2,884.2 570.8,883.1C572.3,882.1 573.9,880.8 575.5,880.0C577.0,879.2 578.6,879.0 580.1,878.5C581.7,877.9 583.2,877.6 584.8,876.9C586.3,876.3 588.0,875.3 589.4,874.6C590.9,873.9 592.0,873.7 593.3,872.7C594.6,871.7 595.9,869.9 597.2,868.4C598.5,866.8 599.8,863.8 601.1,863.4C602.4,863.0 603.8,864.4 605.0,866.0C606.1,867.6 607.0,870.3 608.1,873.0C609.1,875.7 610.2,879.1 611.2,882.3C612.2,885.6 613.1,889.1 614.3,892.4C615.5,895.8 616.9,899.0 618.2,902.5C619.5,906.0 620.8,909.8 622.1,913.4C623.4,917.0 624.7,921.1 625.9,924.3C627.2,927.5 628.5,930.4 629.8,932.8C631.1,935.3 632.4,937.5 633.7,939.1C635.0,940.6 636.3,941.4 637.6,942.2C638.9,942.9 640.2,942.8 641.5,943.7C642.8,944.6 644.1,945.5 645.4,947.6C646.7,949.7 647.7,953.3 649.3,956.1C650.8,959.0 653.1,964.3 654.7,964.7C656.2,965.1 657.3,961.3 658.6,958.5C659.9,955.6 661.0,951.0 662.5,947.6C663.9,944.2 665.3,940.7 667.1,938.3C668.9,935.8 671.4,933.2 673.3,932.8C675.3,932.5 677.1,934.6 678.8,935.9C680.5,937.3 681.9,940.0 683.4,941.1C685.0,942.1 686.5,942.1 688.1,942.2C689.6,942.2 691.1,941.5 692.8,941.4C694.4,941.3 696.5,941.4 698.2,941.4C699.9,941.4 701.4,941.0 702.9,941.4C704.3,941.8 705.6,943.1 706.7,943.7C707.9,944.4 708.4,944.0 709.7,945.3C710.9,946.6 712.8,949.2 714.3,951.5C715.9,953.8 717.4,956.7 719.0,959.3C720.5,961.8 722.1,964.8 723.6,967.0C725.2,969.2 726.8,970.8 728.3,972.5C729.9,974.1 731.5,976.0 733.0,977.1C734.4,978.3 735.6,979.7 736.9,979.4C738.1,979.2 739.3,976.8 740.7,975.6C742.2,974.3 743.8,972.7 745.4,972.1C746.9,971.6 748.5,971.7 750.1,972.1C751.6,972.6 753.2,974.4 754.7,974.8C756.3,975.2 758.0,974.2 759.4,974.3C760.8,974.4 761.8,974.7 763.3,975.3C764.7,975.8 766.2,978.0 767.9,977.9C769.6,977.8 771.7,975.7 773.4,974.8C775.0,973.8 776.5,972.9 778.0,972.1C779.6,971.4 781.1,971.2 782.7,970.1C784.2,969.0 785.8,967.3 787.3,965.5C788.9,963.7 790.5,961.1 792.0,959.3C793.6,957.4 795.1,956.3 796.7,954.6C798.2,952.9 799.8,950.1 801.3,948.8C802.9,947.5 804.2,947.3 806.0,946.8C807.8,946.3 810.1,945.7 812.2,945.7C814.3,945.7 816.6,946.8 818.4,946.8C820.2,946.9 821.5,946.6 823.1,946.0C824.6,945.4 826.2,944.2 827.7,943.2C829.3,942.3 830.8,941.4 832.4,940.6C834.0,939.8 835.5,939.5 837.1,938.6C838.6,937.7 840.3,935.5 841.7,935.2C843.1,934.9 844.3,936.2 845.6,936.7C846.9,937.3 848.2,939.0 849.5,938.6C850.8,938.2 852.0,935.9 853.4,934.4C854.8,932.8 856.4,930.3 858.0,929.3C859.7,928.2 861.5,928.2 863.5,928.2C865.4,928.1 867.6,928.8 869.7,929.0C871.8,929.1 874.1,929.8 875.9,929.3C877.7,928.7 879.0,926.8 880.6,925.5C882.1,924.2 883.7,922.0 885.2,921.5C886.8,921.0 888.2,921.7 889.9,922.4C891.6,923.2 893.5,925.8 895.3,926.2C897.1,926.5 898.8,925.0 900.8,924.3C902.7,923.6 904.9,922.2 907.0,922.0C909.0,921.7 911.1,923.3 913.2,922.7C915.3,922.2 918.4,919.5 919.4,918.9" stroke="#ff0000" stroke-width="3.8" fill="none" stroke-linejoin="round" stroke-linecap="round"/>
<text transform="translate(862.6,802.7) scale(1,1.03)">Pz</text>
<rect x="1125.3" y="751.4" width="89.2" height="285.0" fill="#f0f0f0"/>
<path d="M1124.3,894.1H1214.5" stroke="#fff" stroke-width="5.5" fill="none"/>
<path d="M1054.0,751.4V1036.4M982.6,894.1H1410.8" stroke="#000" stroke-width="2" fill="none"/>
<path d="M1042.0,751.4H1055.0M1042.0,822.6H1054.0M1042.0,965.1H1054.0M1042.0,1036.4H1055.0M982.6,894.1V906.1M1125.3,894.1V906.1M1196.7,894.1V906.1M1268.0,894.1V906.1M1339.4,894.1V906.1M1410.8,894.1V906.1" stroke="#000" stroke-width="2" fill="none"/>
<path d="M982.8,904.4C983.5,904.2 985.6,903.9 987.0,903.3C988.3,902.7 989.5,901.4 990.9,900.7C992.3,900.0 994.0,899.5 995.5,899.1C997.1,898.7 998.6,899.0 1000.2,898.2C1001.8,897.3 1003.3,895.4 1004.9,894.0C1006.4,892.6 1008.0,890.6 1009.5,889.8C1011.1,889.0 1012.6,889.3 1014.2,889.3C1015.7,889.3 1017.3,889.9 1018.8,889.8C1020.4,889.7 1021.9,889.2 1023.5,888.6C1025.1,887.9 1026.6,886.3 1028.2,885.8C1029.7,885.2 1031.3,885.3 1032.8,885.5C1034.4,885.6 1036.1,885.7 1037.5,886.7C1038.9,887.7 1040.1,890.1 1041.4,891.7C1042.7,893.3 1043.8,895.2 1045.3,896.3C1046.7,897.5 1048.5,898.7 1049.9,898.7C1051.3,898.7 1052.5,897.5 1053.8,896.3C1055.1,895.2 1056.3,892.8 1057.7,891.7C1059.1,890.5 1060.8,890.1 1062.3,889.3C1063.9,888.6 1065.5,887.8 1067.0,887.0C1068.6,886.2 1070.2,885.4 1071.7,884.7C1073.1,884.0 1074.3,883.0 1075.6,882.7C1076.8,882.3 1078.3,883.2 1079.4,882.3C1080.6,881.5 1081.5,880.3 1082.5,877.7C1083.6,875.1 1084.6,870.4 1085.6,866.8C1086.7,863.2 1087.9,858.7 1088.8,855.9C1089.7,853.2 1090.2,849.5 1091.1,850.5C1092.0,851.5 1093.2,857.1 1094.2,862.1C1095.2,867.2 1096.3,874.6 1097.3,880.8C1098.3,887.0 1099.4,893.2 1100.4,899.4C1101.4,905.6 1102.5,912.6 1103.5,918.1C1104.6,923.5 1105.6,928.6 1106.6,932.1C1107.7,935.6 1108.7,937.6 1109.7,939.1C1110.8,940.5 1111.8,940.9 1112.8,940.6C1113.9,940.3 1114.9,938.5 1115.9,937.5C1117.0,936.5 1117.9,934.3 1119.1,934.4C1120.2,934.5 1121.8,936.1 1122.9,938.3C1124.1,940.5 1125.0,943.5 1126.0,947.6C1127.1,951.7 1128.1,958.2 1129.2,963.1C1130.2,968.1 1131.1,973.1 1132.3,977.1C1133.4,981.1 1134.6,984.8 1136.1,987.2C1137.7,989.7 1139.9,991.7 1141.6,991.9C1143.3,992.0 1144.7,988.9 1146.2,988.0C1147.8,987.1 1149.4,986.3 1150.9,986.4C1152.5,986.6 1154.0,987.5 1155.6,988.8C1157.1,990.1 1158.8,991.7 1160.2,994.2C1161.7,996.7 1162.8,1000.2 1164.1,1003.5C1165.4,1006.9 1166.7,1011.0 1168.0,1014.4C1169.3,1017.8 1170.6,1021.1 1171.9,1023.7C1173.2,1026.3 1174.5,1028.6 1175.8,1029.9C1177.1,1031.2 1178.4,1031.6 1179.6,1031.5C1180.9,1031.4 1182.2,1030.1 1183.5,1029.2C1184.8,1028.3 1186.1,1026.8 1187.4,1026.1C1188.7,1025.3 1190.0,1024.5 1191.3,1024.5C1192.6,1024.5 1193.8,1026.4 1195.2,1026.1C1196.6,1025.7 1198.1,1023.7 1199.7,1022.2C1201.2,1020.6 1202.8,1018.4 1204.3,1016.7C1205.9,1015.1 1207.6,1013.5 1209.0,1012.1C1210.4,1010.7 1211.6,1010.0 1212.9,1008.2C1214.2,1006.4 1215.5,1003.5 1216.8,1001.2C1218.0,998.9 1219.2,996.2 1220.6,994.2C1222.1,992.3 1223.7,991.0 1225.3,989.5C1226.9,988.1 1228.5,987.2 1230.0,985.7C1231.4,984.1 1232.5,982.2 1233.8,980.2C1235.1,978.3 1236.4,975.7 1237.7,974.0C1239.0,972.3 1240.2,971.2 1241.6,970.1C1243.0,969.0 1244.8,968.7 1246.3,967.5C1247.7,966.3 1248.7,964.6 1250.2,963.1C1251.6,961.7 1253.1,960.0 1254.8,958.8C1256.5,957.6 1258.6,957.1 1260.3,956.1C1261.9,955.2 1263.1,954.2 1264.9,953.0C1266.7,951.9 1269.3,950.0 1271.1,949.5C1272.9,948.9 1274.1,949.9 1275.8,949.9C1277.5,950.0 1279.4,950.4 1281.2,949.9C1283.0,949.4 1284.9,947.5 1286.7,946.8C1288.5,946.1 1290.4,946.0 1292.1,945.7C1293.8,945.5 1295.2,945.0 1296.8,945.3C1298.3,945.6 1300.0,947.2 1301.4,947.6C1302.9,948.0 1303.9,948.8 1305.3,947.6C1306.7,946.4 1308.4,942.7 1310.0,940.6C1311.5,938.5 1313.2,935.8 1314.6,934.9C1316.1,934.0 1317.1,934.6 1318.5,935.2C1319.9,935.7 1321.5,938.1 1323.2,938.3C1324.9,938.4 1326.9,936.6 1328.6,935.9C1330.3,935.3 1331.7,935.2 1333.3,934.4C1334.8,933.6 1336.4,932.3 1337.9,931.3C1339.5,930.2 1341.2,929.5 1342.6,928.2C1344.0,926.9 1345.2,925.2 1346.5,923.5C1347.8,921.8 1348.9,919.8 1350.4,918.1C1351.8,916.3 1353.6,914.5 1355.0,913.1C1356.5,911.8 1357.5,910.2 1358.9,910.0C1360.3,909.8 1362.0,911.4 1363.6,912.2C1365.1,913.0 1366.7,914.8 1368.2,914.7C1369.8,914.6 1371.5,912.5 1372.9,911.6C1374.3,910.6 1375.4,909.5 1376.8,909.1C1378.2,908.6 1379.8,908.6 1381.4,908.8C1383.1,908.9 1385.2,909.7 1386.9,910.0C1388.6,910.3 1390.0,910.4 1391.5,910.6C1393.1,910.9 1394.8,911.7 1396.2,911.6C1397.6,911.5 1398.8,910.9 1400.1,910.0C1401.4,909.1 1402.5,906.9 1404.0,906.0C1405.4,905.0 1407.9,904.4 1408.6,904.1" stroke="#0000ff" stroke-width="3.8" fill="none" stroke-linejoin="round" stroke-linecap="round"/>
<path d="M982.8,914.7C983.5,914.8 985.5,916.1 987.0,915.7C988.5,915.4 990.2,914.3 991.7,912.6C993.1,911.0 994.2,907.9 995.5,905.6C996.8,903.4 998.0,901.2 999.4,899.4C1000.8,897.6 1002.5,896.1 1004.1,894.8C1005.6,893.4 1007.2,892.0 1008.7,891.4C1010.3,890.7 1011.7,891.0 1013.4,890.9C1015.1,890.8 1017.3,891.2 1018.8,890.9C1020.4,890.6 1021.3,889.7 1022.7,888.9C1024.2,888.0 1026.0,886.2 1027.4,885.8C1028.8,885.3 1030.0,885.6 1031.3,886.2C1032.6,886.8 1033.9,888.3 1035.2,889.3C1036.5,890.4 1037.9,892.6 1039.0,892.4C1040.2,892.3 1041.1,890.4 1042.1,888.6C1043.2,886.7 1044.2,883.1 1045.3,881.6C1046.3,880.0 1047.2,879.0 1048.4,879.2C1049.5,879.5 1051.1,882.3 1052.2,883.1C1053.4,883.9 1054.2,884.5 1055.4,883.9C1056.5,883.3 1057.8,880.7 1059.2,879.2C1060.7,877.8 1062.3,876.3 1063.9,875.4C1065.5,874.4 1067.0,874.4 1068.6,873.8C1070.1,873.2 1071.7,872.4 1073.2,871.8C1074.8,871.1 1076.5,870.9 1077.9,869.9C1079.3,869.0 1080.5,868.4 1081.8,866.0C1083.1,863.7 1084.5,859.2 1085.6,855.9C1086.8,852.7 1087.9,848.6 1088.8,846.6C1089.7,844.6 1090.2,843.0 1091.1,843.8C1092.0,844.6 1093.3,847.7 1094.2,851.3C1095.1,854.8 1095.7,859.8 1096.5,865.3C1097.3,870.7 1098.1,878.2 1098.9,883.9C1099.6,889.6 1100.4,894.8 1101.2,899.4C1102.0,904.1 1102.6,908.2 1103.5,911.9C1104.4,915.5 1105.5,919.0 1106.6,921.2C1107.8,923.4 1109.1,924.6 1110.5,925.1C1111.9,925.6 1113.7,923.9 1115.2,924.3C1116.6,924.7 1117.8,925.3 1119.1,927.4C1120.3,929.5 1121.6,932.8 1122.9,936.7C1124.2,940.6 1125.5,946.0 1126.8,950.7C1128.1,955.4 1129.4,960.8 1130.7,964.7C1132.0,968.6 1133.2,971.4 1134.6,974.0C1136.0,976.6 1137.8,979.4 1139.3,980.2C1140.7,981.0 1141.7,979.8 1143.1,978.7C1144.6,977.5 1146.2,974.9 1147.8,973.2C1149.4,971.6 1150.9,969.9 1152.5,968.6C1154.0,967.3 1155.4,966.2 1157.1,965.5C1158.8,964.7 1160.7,964.2 1162.6,963.9C1164.4,963.7 1166.3,964.2 1168.0,963.9C1169.7,963.7 1171.2,962.0 1172.7,962.4C1174.1,962.7 1175.2,964.7 1176.5,966.2C1177.8,967.8 1179.0,970.4 1180.4,971.7C1181.8,972.9 1183.5,973.3 1185.1,973.7C1186.6,974.1 1188.2,973.6 1189.7,974.0C1191.3,974.5 1193.0,974.9 1194.4,976.3C1195.8,977.8 1197.2,981.0 1198.3,982.6C1199.4,984.1 1200.1,983.7 1201.2,985.7C1202.3,987.6 1203.8,992.3 1205.1,994.2C1206.4,996.1 1207.6,996.7 1209.0,997.0C1210.4,997.3 1212.1,995.9 1213.6,995.8C1215.2,995.6 1216.8,995.9 1218.3,996.1C1219.9,996.3 1221.3,996.9 1223.0,997.0C1224.6,997.1 1226.7,996.5 1228.4,996.5C1230.1,996.6 1231.5,997.1 1233.1,997.3C1234.6,997.6 1236.2,998.3 1237.7,998.1C1239.3,997.9 1240.8,996.7 1242.4,996.1C1243.9,995.4 1245.5,994.6 1247.0,994.2C1248.6,993.8 1250.2,993.9 1251.7,993.4C1253.3,993.0 1254.8,991.9 1256.4,991.4C1257.9,991.0 1259.5,991.6 1261.0,990.8C1262.6,990.0 1264.1,988.1 1265.7,986.4C1267.2,984.7 1268.9,982.1 1270.4,980.5C1271.8,979.0 1272.8,977.7 1274.2,977.1C1275.7,976.5 1277.3,977.4 1278.9,977.1C1280.5,976.8 1282.0,976.0 1283.6,975.3C1285.1,974.5 1286.7,973.7 1288.2,972.5C1289.8,971.2 1291.3,969.2 1292.9,967.8C1294.4,966.4 1296.0,964.8 1297.5,963.9C1299.1,963.0 1300.6,963.1 1302.2,962.4C1303.8,961.6 1305.4,960.1 1306.9,959.3C1308.3,958.4 1308.9,957.2 1310.7,957.2C1312.6,957.2 1315.8,959.6 1317.7,959.3C1319.7,958.9 1320.8,956.9 1322.4,955.4C1324.0,953.8 1325.5,951.5 1327.1,949.9C1328.6,948.4 1330.2,946.8 1331.7,946.0C1333.3,945.3 1334.7,945.3 1336.4,945.3C1338.1,945.2 1340.1,946.1 1341.8,945.7C1343.5,945.3 1344.9,944.1 1346.5,942.9C1348.0,941.8 1349.6,940.5 1351.1,939.1C1352.7,937.6 1354.3,935.4 1355.8,934.4C1357.4,933.4 1358.8,932.8 1360.5,932.8C1362.1,932.8 1364.1,934.4 1365.9,934.4C1367.7,934.4 1369.8,932.9 1371.3,932.8C1372.9,932.8 1373.9,933.4 1375.2,933.9C1376.5,934.4 1377.8,936.4 1379.1,935.9C1380.4,935.5 1381.6,932.7 1383.0,931.3C1384.4,929.9 1386.1,928.2 1387.7,927.4C1389.2,926.6 1390.9,927.4 1392.3,926.6C1393.7,925.8 1394.9,924.2 1396.2,922.7C1397.5,921.3 1398.8,918.6 1400.1,918.1C1401.4,917.6 1402.5,919.1 1404.0,919.6C1405.4,920.2 1407.9,920.9 1408.6,921.2" stroke="#ff0000" stroke-width="3.8" fill="none" stroke-linejoin="round" stroke-linecap="round"/>
<text transform="translate(1344.4,802.7) scale(1,1.03)">Pz</text>
<text transform="translate(171.3,27.6) scale(1,1.03)">Silence</text>
<text transform="translate(565.6,27.6) scale(1,1.03)">Low-arousal music</text>
<text transform="translate(1045.1,27.6) scale(1,1.03)">High-arousal music</text>
<text transform="translate(10.6,42.8) scale(0.89,1.01)" style="font-size:47px">a</text>
<text x="9.9" y="1203.9" style="font-size:47px">b</text>
<text transform="translate(491.3,363) scale(1,1.03)">μV</text>
<text transform="translate(476.5,414.9) scale(1,1.03)">-10</text>
<text transform="translate(432,600.1) scale(1,1.03)">−200</text>
<text transform="translate(492.2,700.9) scale(1,1.03)">10</text>
<text transform="translate(848.5,596.9) scale(1,1.03)">1000 ms</text>
<path d="M63.7,1096H278.2" stroke="#0000ff" stroke-width="8"/>
<path d="M602.3,1096H818.2" stroke="#ff0000" stroke-width="8"/>
<text transform="translate(302.6,1106.7) scale(1,1.03)">Correct</text>
<text transform="translate(846.3,1106.4) scale(1,1.03)" style="letter-spacing:0.16px">World knowledge violation</text>
<text transform="translate(562.7,1572.8) scale(1,1.03)">200-450 ms</text>
<circle cx="167.0" cy="1366.5" r="159" fill="#ebf2fc"/>
<polygon points="31.3,1340.3 26.0,1334.6 22.1,1334.3 19.9,1335.6 17.1,1340.3 17.4,1364.4 15.8,1392.4 19.3,1401.9 26.0,1405.1 32.9,1400.0" fill="#fff"/><polygon points="302.7,1340.3 308.0,1334.6 311.9,1334.3 314.1,1335.6 316.9,1340.3 316.6,1364.4 318.2,1392.4 314.7,1401.9 308.0,1405.1 301.1,1400.0" fill="#fff"/>
<clipPath id="cp0"><circle cx="167.0" cy="1366.5" r="149.5"/></clipPath>
<g clip-path="url(#cp0)">
<path shape-rendering="crispEdges" fill="#0087ff" d="M253 1407h3v3h-3zM247 1410h12v3h-12zM247 1413h12v3h-12zM247 1416h12v3h-12z"/>
<path shape-rendering="crispEdges" fill="#0097ff" d="M250 1314h15v3h-15zM247 1317h21v3h-21zM247 1320h21v3h-21zM247 1323h21v3h-21zM253 1326h12v3h-12zM247 1398h12v3h-12zM241 1401h24v3h-24zM238 1404h33v3h-33zM235 1407h18v3h-18zM256 1407h15v3h-15zM235 1410h12v3h-12zM259 1410h12v3h-12zM235 1413h12v3h-12zM259 1413h12v3h-12zM235 1416h12v3h-12zM259 1416h12v3h-12zM235 1419h33v3h-33zM238 1422h30v3h-30zM238 1425h27v3h-27zM241 1428h24v3h-24zM244 1431h18v3h-18zM247 1434h12v3h-12zM253 1437h3v3h-3z"/>
<path shape-rendering="crispEdges" fill="#00a7ff" d="M244 1305h24v3h-24zM241 1308h30v3h-30zM238 1311h39v3h-39zM235 1314h15v3h-15zM265 1314h12v3h-12zM235 1317h12v3h-12zM268 1317h9v3h-9zM235 1320h12v3h-12zM268 1320h12v3h-12zM235 1323h12v3h-12zM268 1323h9v3h-9zM238 1326h15v3h-15zM265 1326h12v3h-12zM241 1329h36v3h-36zM247 1332h24v3h-24zM235 1395h30v3h-30zM232 1398h15v3h-15zM259 1398h12v3h-12zM229 1401h12v3h-12zM265 1401h12v3h-12zM229 1404h9v3h-9zM271 1404h6v3h-6zM226 1407h9v3h-9zM271 1407h6v3h-6zM226 1410h9v3h-9zM271 1410h6v3h-6zM226 1413h9v3h-9zM271 1413h6v3h-6zM226 1416h9v3h-9zM271 1416h6v3h-6zM226 1419h9v3h-9zM268 1419h9v3h-9zM229 1422h9v3h-9zM268 1422h6v3h-6zM229 1425h9v3h-9zM265 1425h9v3h-9zM229 1428h12v3h-12zM265 1428h9v3h-9zM232 1431h12v3h-12zM262 1431h9v3h-9zM235 1434h12v3h-12zM259 1434h12v3h-12zM238 1437h15v3h-15zM256 1437h15v3h-15zM241 1440h30v3h-30zM244 1443h27v3h-27zM247 1446h21v3h-21zM250 1449h15v3h-15z"/>
<path shape-rendering="crispEdges" fill="#00b7ff" d="M247 1296h21v3h-21zM241 1299h33v3h-33zM235 1302h42v3h-42zM232 1305h12v3h-12zM268 1305h12v3h-12zM229 1308h12v3h-12zM271 1308h12v3h-12zM229 1311h9v3h-9zM277 1311h6v3h-6zM229 1314h6v3h-6zM277 1314h9v3h-9zM229 1317h6v3h-6zM277 1317h9v3h-9zM229 1320h6v3h-6zM280 1320h6v3h-6zM229 1323h6v3h-6zM277 1323h9v3h-9zM229 1326h9v3h-9zM277 1326h9v3h-9zM232 1329h9v3h-9zM277 1329h6v3h-6zM235 1332h12v3h-12zM271 1332h9v3h-9zM238 1335h39v3h-39zM244 1338h21v3h-21zM235 1389h21v3h-21zM229 1392h42v3h-42zM223 1395h12v3h-12zM265 1395h12v3h-12zM223 1398h9v3h-9zM271 1398h12v3h-12zM220 1401h9v3h-9zM277 1401h6v3h-6zM217 1404h12v3h-12zM277 1404h6v3h-6zM217 1407h9v3h-9zM277 1407h9v3h-9zM217 1410h9v3h-9zM277 1410h9v3h-9zM217 1413h9v3h-9zM277 1413h6v3h-6zM217 1416h9v3h-9zM277 1416h6v3h-6zM217 1419h9v3h-9zM277 1419h6v3h-6zM217 1422h12v3h-12zM274 1422h9v3h-9zM217 1425h12v3h-12zM274 1425h9v3h-9zM220 1428h9v3h-9zM274 1428h6v3h-6zM223 1431h9v3h-9zM271 1431h9v3h-9zM226 1434h9v3h-9zM271 1434h9v3h-9zM229 1437h9v3h-9zM271 1437h9v3h-9zM229 1440h12v3h-12zM271 1440h9v3h-9zM235 1443h9v3h-9zM271 1443h9v3h-9zM235 1446h12v3h-12zM268 1446h12v3h-12zM241 1449h9v3h-9zM265 1449h15v3h-15zM241 1452h39v3h-39zM244 1455h33v3h-33zM247 1458h30v3h-30zM253 1461h18v3h-18z"/>
<path shape-rendering="crispEdges" fill="#00c7ff" d="M247 1290h30v3h-30zM238 1293h45v3h-45zM232 1296h15v3h-15zM268 1296h15v3h-15zM229 1299h12v3h-12zM274 1299h12v3h-12zM223 1302h12v3h-12zM277 1302h12v3h-12zM223 1305h9v3h-9zM280 1305h9v3h-9zM220 1308h9v3h-9zM283 1308h6v3h-6zM220 1311h9v3h-9zM283 1311h6v3h-6zM220 1314h9v3h-9zM286 1314h6v3h-6zM220 1317h9v3h-9zM286 1317h6v3h-6zM220 1320h9v3h-9zM286 1320h6v3h-6zM220 1323h9v3h-9zM286 1323h6v3h-6zM223 1326h6v3h-6zM286 1326h6v3h-6zM223 1329h9v3h-9zM283 1329h6v3h-6zM223 1332h12v3h-12zM280 1332h9v3h-9zM226 1335h12v3h-12zM277 1335h9v3h-9zM229 1338h15v3h-15zM265 1338h12v3h-12zM235 1341h33v3h-33zM223 1386h36v3h-36zM220 1389h15v3h-15zM256 1389h15v3h-15zM217 1392h12v3h-12zM271 1392h9v3h-9zM214 1395h9v3h-9zM277 1395h9v3h-9zM211 1398h12v3h-12zM283 1398h6v3h-6zM208 1401h12v3h-12zM283 1401h6v3h-6zM208 1404h9v3h-9zM283 1404h9v3h-9zM205 1407h12v3h-12zM286 1407h6v3h-6zM205 1410h12v3h-12zM286 1410h6v3h-6zM205 1413h12v3h-12zM283 1413h9v3h-9zM205 1416h12v3h-12zM283 1416h9v3h-9zM205 1419h12v3h-12zM283 1419h9v3h-9zM208 1422h9v3h-9zM283 1422h6v3h-6zM208 1425h9v3h-9zM283 1425h6v3h-6zM211 1428h9v3h-9zM280 1428h9v3h-9zM211 1431h12v3h-12zM280 1431h9v3h-9zM214 1434h12v3h-12zM280 1434h9v3h-9zM217 1437h12v3h-12zM280 1437h9v3h-9zM220 1440h9v3h-9zM280 1440h12v3h-12zM223 1443h12v3h-12zM280 1443h12v3h-12zM226 1446h9v3h-9zM280 1446h15v3h-15zM229 1449h12v3h-12zM280 1449h12v3h-12zM232 1452h9v3h-9zM280 1452h9v3h-9zM235 1455h9v3h-9zM277 1455h12v3h-12zM238 1458h9v3h-9zM277 1458h9v3h-9zM241 1461h12v3h-12zM271 1461h12v3h-12zM241 1464h39v3h-39zM247 1467h30v3h-30zM250 1470h27v3h-27zM253 1473h21v3h-21z"/>
<path shape-rendering="crispEdges" fill="#00d7ff" d="M283 1272h3v3h-3zM280 1275h9v3h-9zM277 1278h12v3h-12zM265 1281h27v3h-27zM247 1284h48v3h-48zM238 1287h57v3h-57zM229 1290h18v3h-18zM277 1290h18v3h-18zM223 1293h15v3h-15zM283 1293h12v3h-12zM220 1296h12v3h-12zM283 1296h12v3h-12zM217 1299h12v3h-12zM286 1299h9v3h-9zM217 1302h6v3h-6zM289 1302h6v3h-6zM214 1305h9v3h-9zM289 1305h6v3h-6zM211 1308h9v3h-9zM289 1308h6v3h-6zM211 1311h9v3h-9zM289 1311h6v3h-6zM211 1314h9v3h-9zM292 1314h6v3h-6zM211 1317h9v3h-9zM292 1317h6v3h-6zM211 1320h9v3h-9zM292 1320h6v3h-6zM214 1323h6v3h-6zM292 1323h6v3h-6zM214 1326h9v3h-9zM292 1326h6v3h-6zM217 1329h6v3h-6zM289 1329h6v3h-6zM217 1332h6v3h-6zM289 1332h6v3h-6zM217 1335h9v3h-9zM286 1335h6v3h-6zM220 1338h9v3h-9zM277 1338h12v3h-12zM223 1341h12v3h-12zM268 1341h12v3h-12zM226 1344h42v3h-42zM232 1347h15v3h-15zM154 1350h6v3h-6zM151 1353h9v3h-9zM151 1356h9v3h-9zM151 1359h6v3h-6zM151 1362h6v3h-6zM148 1365h9v3h-9zM145 1368h12v3h-12zM145 1371h12v3h-12zM142 1374h15v3h-15zM142 1377h15v3h-15zM139 1380h18v3h-18zM220 1380h24v3h-24zM139 1383h15v3h-15zM214 1383h45v3h-45zM142 1386h9v3h-9zM211 1386h12v3h-12zM259 1386h12v3h-12zM208 1389h12v3h-12zM271 1389h12v3h-12zM205 1392h12v3h-12zM280 1392h9v3h-9zM202 1395h12v3h-12zM286 1395h6v3h-6zM199 1398h12v3h-12zM289 1398h6v3h-6zM199 1401h9v3h-9zM289 1401h6v3h-6zM199 1404h9v3h-9zM292 1404h6v3h-6zM199 1407h6v3h-6zM292 1407h9v3h-9zM199 1410h6v3h-6zM292 1410h9v3h-9zM199 1413h6v3h-6zM292 1413h9v3h-9zM199 1416h6v3h-6zM292 1416h18v3h-18zM199 1419h6v3h-6zM292 1419h15v3h-15zM199 1422h9v3h-9zM289 1422h18v3h-18zM199 1425h9v3h-9zM289 1425h18v3h-18zM199 1428h12v3h-12zM289 1428h15v3h-15zM202 1431h9v3h-9zM289 1431h15v3h-15zM205 1434h9v3h-9zM289 1434h12v3h-12zM205 1437h12v3h-12zM289 1437h12v3h-12zM208 1440h12v3h-12zM292 1440h6v3h-6zM211 1443h12v3h-12zM292 1443h3v3h-3zM214 1446h12v3h-12zM217 1449h12v3h-12zM223 1452h9v3h-9zM223 1455h12v3h-12zM229 1458h9v3h-9zM229 1461h12v3h-12zM232 1464h9v3h-9zM235 1467h12v3h-12zM235 1470h15v3h-15zM238 1473h15v3h-15zM241 1476h27v3h-27zM244 1479h21v3h-21zM247 1482h15v3h-15zM250 1485h9v3h-9z"/>
<path shape-rendering="crispEdges" fill="#00e7ff" d="M274 1260h3v3h-3zM274 1263h3v3h-3zM271 1266h9v3h-9zM271 1269h12v3h-12zM265 1272h18v3h-18zM259 1275h21v3h-21zM250 1278h27v3h-27zM238 1281h27v3h-27zM229 1284h18v3h-18zM223 1287h15v3h-15zM217 1290h12v3h-12zM295 1290h3v3h-3zM211 1293h12v3h-12zM295 1293h6v3h-6zM211 1296h9v3h-9zM295 1296h6v3h-6zM208 1299h9v3h-9zM295 1299h6v3h-6zM205 1302h12v3h-12zM295 1302h6v3h-6zM205 1305h9v3h-9zM295 1305h6v3h-6zM205 1308h6v3h-6zM295 1308h6v3h-6zM205 1311h6v3h-6zM295 1311h6v3h-6zM202 1314h9v3h-9zM298 1314h3v3h-3zM202 1317h9v3h-9zM298 1317h3v3h-3zM205 1320h6v3h-6zM298 1320h3v3h-3zM205 1323h9v3h-9zM298 1323h3v3h-3zM166 1326h3v3h-3zM205 1326h9v3h-9zM298 1326h3v3h-3zM157 1329h18v3h-18zM205 1329h12v3h-12zM295 1329h6v3h-6zM151 1332h27v3h-27zM208 1332h9v3h-9zM295 1332h6v3h-6zM145 1335h36v3h-36zM208 1335h9v3h-9zM292 1335h9v3h-9zM145 1338h36v3h-36zM211 1338h9v3h-9zM289 1338h6v3h-6zM139 1341h42v3h-42zM211 1341h12v3h-12zM280 1341h9v3h-9zM139 1344h39v3h-39zM214 1344h12v3h-12zM268 1344h15v3h-15zM136 1347h42v3h-42zM217 1347h15v3h-15zM247 1347h21v3h-21zM133 1350h21v3h-21zM160 1350h18v3h-18zM217 1350h36v3h-36zM133 1353h18v3h-18zM160 1353h15v3h-15zM220 1353h21v3h-21zM133 1356h18v3h-18zM160 1356h15v3h-15zM223 1356h12v3h-12zM130 1359h21v3h-21zM157 1359h18v3h-18zM130 1362h21v3h-21zM157 1362h18v3h-18zM127 1365h21v3h-21zM157 1365h18v3h-18zM127 1368h18v3h-18zM157 1368h18v3h-18zM220 1368h9v3h-9zM127 1371h18v3h-18zM157 1371h18v3h-18zM217 1371h18v3h-18zM127 1374h15v3h-15zM157 1374h18v3h-18zM214 1374h27v3h-27zM124 1377h18v3h-18zM157 1377h18v3h-18zM211 1377h36v3h-36zM124 1380h15v3h-15zM157 1380h21v3h-21zM205 1380h15v3h-15zM244 1380h15v3h-15zM124 1383h15v3h-15zM154 1383h24v3h-24zM202 1383h12v3h-12zM259 1383h12v3h-12zM124 1386h18v3h-18zM151 1386h27v3h-27zM196 1386h15v3h-15zM271 1386h12v3h-12zM127 1389h51v3h-51zM187 1389h21v3h-21zM283 1389h6v3h-6zM127 1392h48v3h-48zM184 1392h21v3h-21zM289 1392h6v3h-6zM127 1395h36v3h-36zM184 1395h18v3h-18zM292 1395h6v3h-6zM130 1398h27v3h-27zM187 1398h12v3h-12zM295 1398h6v3h-6zM133 1401h18v3h-18zM187 1401h12v3h-12zM295 1401h9v3h-9zM187 1404h12v3h-12zM298 1404h9v3h-9zM187 1407h12v3h-12zM301 1407h6v3h-6zM190 1410h9v3h-9zM301 1410h9v3h-9zM190 1413h9v3h-9zM301 1413h9v3h-9zM190 1416h9v3h-9zM193 1419h6v3h-6zM193 1422h6v3h-6zM193 1425h6v3h-6zM193 1428h6v3h-6zM193 1431h9v3h-9zM196 1434h9v3h-9zM196 1437h9v3h-9zM199 1440h9v3h-9zM199 1443h12v3h-12zM199 1446h15v3h-15zM205 1449h12v3h-12zM205 1452h18v3h-18zM208 1455h15v3h-15zM211 1458h18v3h-18zM214 1461h15v3h-15zM217 1464h15v3h-15zM220 1467h15v3h-15zM223 1470h12v3h-12zM223 1473h15v3h-15zM223 1476h18v3h-18zM226 1479h18v3h-18zM226 1482h21v3h-21zM229 1485h21v3h-21zM229 1488h27v3h-27zM229 1491h21v3h-21zM229 1494h15v3h-15zM229 1497h12v3h-12zM229 1500h6v3h-6zM145 1503h21v3h-21zM142 1506h27v3h-27zM139 1509h30v3h-30zM139 1512h24v3h-24zM151 1515h12v3h-12z"/>
<path shape-rendering="crispEdges" fill="#00f7ff" d="M271 1257h3v3h-3zM268 1260h6v3h-6zM265 1263h9v3h-9zM262 1266h9v3h-9zM259 1269h12v3h-12zM250 1272h15v3h-15zM238 1275h21v3h-21zM229 1278h21v3h-21zM217 1281h21v3h-21zM211 1284h18v3h-18zM208 1287h15v3h-15zM205 1290h12v3h-12zM199 1293h12v3h-12zM199 1296h12v3h-12zM196 1299h12v3h-12zM301 1299h3v3h-3zM193 1302h12v3h-12zM301 1302h3v3h-3zM193 1305h12v3h-12zM301 1305h6v3h-6zM187 1308h18v3h-18zM301 1308h6v3h-6zM184 1311h21v3h-21zM301 1311h6v3h-6zM169 1314h33v3h-33zM301 1314h6v3h-6zM163 1317h39v3h-39zM301 1317h6v3h-6zM157 1320h48v3h-48zM301 1320h6v3h-6zM151 1323h54v3h-54zM301 1323h6v3h-6zM145 1326h21v3h-21zM169 1326h36v3h-36zM301 1326h6v3h-6zM142 1329h15v3h-15zM175 1329h30v3h-30zM301 1329h6v3h-6zM139 1332h12v3h-12zM178 1332h30v3h-30zM301 1332h6v3h-6zM133 1335h12v3h-12zM181 1335h27v3h-27zM301 1335h6v3h-6zM133 1338h12v3h-12zM181 1338h30v3h-30zM295 1338h9v3h-9zM127 1341h12v3h-12zM181 1341h30v3h-30zM289 1341h12v3h-12zM127 1344h12v3h-12zM178 1344h36v3h-36zM283 1344h12v3h-12zM127 1347h9v3h-9zM178 1347h15v3h-15zM202 1347h15v3h-15zM268 1347h15v3h-15zM124 1350h9v3h-9zM178 1350h12v3h-12zM205 1350h12v3h-12zM253 1350h18v3h-18zM121 1353h12v3h-12zM175 1353h12v3h-12zM205 1353h15v3h-15zM241 1353h15v3h-15zM121 1356h12v3h-12zM175 1356h12v3h-12zM208 1356h15v3h-15zM235 1356h12v3h-12zM121 1359h9v3h-9zM175 1359h12v3h-12zM208 1359h36v3h-36zM118 1362h12v3h-12zM175 1362h12v3h-12zM208 1362h33v3h-33zM118 1365h9v3h-9zM175 1365h12v3h-12zM205 1365h36v3h-36zM115 1368h12v3h-12zM175 1368h12v3h-12zM205 1368h15v3h-15zM229 1368h12v3h-12zM115 1371h12v3h-12zM175 1371h18v3h-18zM199 1371h18v3h-18zM235 1371h12v3h-12zM115 1374h12v3h-12zM175 1374h39v3h-39zM241 1374h12v3h-12zM115 1377h9v3h-9zM175 1377h36v3h-36zM247 1377h12v3h-12zM115 1380h9v3h-9zM178 1380h27v3h-27zM259 1380h12v3h-12zM115 1383h9v3h-9zM178 1383h24v3h-24zM271 1383h12v3h-12zM115 1386h9v3h-9zM178 1386h18v3h-18zM283 1386h9v3h-9zM115 1389h12v3h-12zM178 1389h9v3h-9zM289 1389h9v3h-9zM115 1392h12v3h-12zM175 1392h9v3h-9zM295 1392h6v3h-6zM118 1395h9v3h-9zM163 1395h21v3h-21zM298 1395h6v3h-6zM121 1398h9v3h-9zM157 1398h30v3h-30zM301 1398h6v3h-6zM121 1401h12v3h-12zM151 1401h36v3h-36zM304 1401h6v3h-6zM124 1404h39v3h-39zM169 1404h18v3h-18zM307 1404h6v3h-6zM127 1407h27v3h-27zM178 1407h9v3h-9zM307 1407h6v3h-6zM133 1410h15v3h-15zM181 1410h9v3h-9zM181 1413h9v3h-9zM184 1416h6v3h-6zM184 1419h9v3h-9zM187 1422h6v3h-6zM187 1425h6v3h-6zM187 1428h6v3h-6zM187 1431h6v3h-6zM187 1434h9v3h-9zM190 1437h6v3h-6zM190 1440h9v3h-9zM190 1443h9v3h-9zM193 1446h6v3h-6zM43 1449h3v3h-3zM193 1449h12v3h-12zM43 1452h9v3h-9zM193 1452h12v3h-12zM46 1455h9v3h-9zM193 1455h15v3h-15zM49 1458h12v3h-12zM193 1458h18v3h-18zM49 1461h12v3h-12zM193 1461h21v3h-21zM52 1464h12v3h-12zM193 1464h24v3h-24zM55 1467h12v3h-12zM193 1467h27v3h-27zM58 1470h9v3h-9zM193 1470h30v3h-30zM61 1473h6v3h-6zM190 1473h33v3h-33zM64 1476h3v3h-3zM139 1476h15v3h-15zM184 1476h39v3h-39zM133 1479h93v3h-93zM127 1482h99v3h-99zM118 1485h111v3h-111zM109 1488h120v3h-120zM103 1491h126v3h-126zM97 1494h132v3h-132zM97 1497h132v3h-132zM100 1500h129v3h-129zM106 1503h39v3h-39zM166 1503h63v3h-63zM112 1506h30v3h-30zM169 1506h51v3h-51zM121 1509h18v3h-18zM169 1509h42v3h-42zM133 1512h6v3h-6zM163 1512h39v3h-39zM163 1515h21v3h-21z"/>
<path shape-rendering="crispEdges" fill="#08fff7" d="M265 1254h3v3h-3zM262 1257h9v3h-9zM259 1260h9v3h-9zM256 1263h9v3h-9zM247 1266h15v3h-15zM235 1269h24v3h-24zM223 1272h27v3h-27zM214 1275h24v3h-24zM205 1278h24v3h-24zM199 1281h18v3h-18zM196 1284h15v3h-15zM193 1287h15v3h-15zM187 1290h18v3h-18zM184 1293h15v3h-15zM181 1296h18v3h-18zM175 1299h21v3h-21zM172 1302h21v3h-21zM169 1305h24v3h-24zM163 1308h24v3h-24zM157 1311h27v3h-27zM154 1314h15v3h-15zM307 1314h3v3h-3zM148 1317h15v3h-15zM307 1317h3v3h-3zM145 1320h12v3h-12zM307 1320h3v3h-3zM139 1323h12v3h-12zM307 1323h6v3h-6zM133 1326h12v3h-12zM307 1326h6v3h-6zM130 1329h12v3h-12zM307 1329h6v3h-6zM127 1332h12v3h-12zM307 1332h6v3h-6zM124 1335h9v3h-9zM307 1335h6v3h-6zM121 1338h12v3h-12zM304 1338h6v3h-6zM118 1341h9v3h-9zM301 1341h6v3h-6zM115 1344h12v3h-12zM295 1344h12v3h-12zM115 1347h12v3h-12zM193 1347h9v3h-9zM283 1347h15v3h-15zM115 1350h9v3h-9zM190 1350h15v3h-15zM271 1350h15v3h-15zM112 1353h9v3h-9zM187 1353h18v3h-18zM256 1353h15v3h-15zM109 1356h12v3h-12zM187 1356h21v3h-21zM247 1356h12v3h-12zM109 1359h12v3h-12zM187 1359h21v3h-21zM244 1359h9v3h-9zM109 1362h9v3h-9zM187 1362h21v3h-21zM241 1362h12v3h-12zM109 1365h9v3h-9zM187 1365h18v3h-18zM241 1365h9v3h-9zM106 1368h9v3h-9zM187 1368h18v3h-18zM241 1368h12v3h-12zM106 1371h9v3h-9zM193 1371h6v3h-6zM247 1371h9v3h-9zM103 1374h12v3h-12zM253 1374h9v3h-9zM103 1377h12v3h-12zM259 1377h15v3h-15zM103 1380h12v3h-12zM271 1380h15v3h-15zM103 1383h12v3h-12zM283 1383h12v3h-12zM103 1386h12v3h-12zM292 1386h9v3h-9zM103 1389h12v3h-12zM298 1389h9v3h-9zM106 1392h9v3h-9zM301 1392h6v3h-6zM109 1395h9v3h-9zM304 1395h9v3h-9zM109 1398h12v3h-12zM307 1398h6v3h-6zM112 1401h9v3h-9zM310 1401h3v3h-3zM115 1404h9v3h-9zM163 1404h6v3h-6zM118 1407h9v3h-9zM154 1407h24v3h-24zM121 1410h12v3h-12zM148 1410h33v3h-33zM124 1413h36v3h-36zM172 1413h9v3h-9zM127 1416h27v3h-27zM175 1416h9v3h-9zM127 1419h21v3h-21zM178 1419h6v3h-6zM133 1422h12v3h-12zM181 1422h6v3h-6zM181 1425h6v3h-6zM181 1428h6v3h-6zM181 1431h6v3h-6zM181 1434h6v3h-6zM34 1437h3v3h-3zM181 1437h9v3h-9zM37 1440h9v3h-9zM181 1440h9v3h-9zM37 1443h15v3h-15zM181 1443h9v3h-9zM40 1446h18v3h-18zM181 1446h12v3h-12zM46 1449h18v3h-18zM181 1449h12v3h-12zM52 1452h15v3h-15zM139 1452h3v3h-3zM181 1452h12v3h-12zM55 1455h18v3h-18zM133 1455h15v3h-15zM181 1455h12v3h-12zM61 1458h15v3h-15zM133 1458h18v3h-18zM178 1458h15v3h-15zM61 1461h18v3h-18zM130 1461h27v3h-27zM175 1461h18v3h-18zM64 1464h15v3h-15zM127 1464h66v3h-66zM67 1467h18v3h-18zM124 1467h69v3h-69zM67 1470h18v3h-18zM121 1470h72v3h-72zM67 1473h24v3h-24zM115 1473h75v3h-75zM67 1476h72v3h-72zM154 1476h30v3h-30zM67 1479h66v3h-66zM73 1482h54v3h-54zM76 1485h42v3h-42zM79 1488h30v3h-30zM85 1491h18v3h-18zM88 1494h9v3h-9zM94 1497h3v3h-3z"/>
<path shape-rendering="crispEdges" fill="#18ffe7" d="M259 1251h6v3h-6zM256 1254h9v3h-9zM253 1257h9v3h-9zM244 1260h15v3h-15zM226 1263h30v3h-30zM214 1266h33v3h-33zM205 1269h30v3h-30zM196 1272h27v3h-27zM190 1275h24v3h-24zM187 1278h18v3h-18zM181 1281h18v3h-18zM178 1284h18v3h-18zM175 1287h18v3h-18zM172 1290h15v3h-15zM169 1293h15v3h-15zM166 1296h15v3h-15zM163 1299h12v3h-12zM160 1302h12v3h-12zM157 1305h12v3h-12zM151 1308h12v3h-12zM148 1311h9v3h-9zM142 1314h12v3h-12zM136 1317h12v3h-12zM133 1320h12v3h-12zM127 1323h12v3h-12zM121 1326h12v3h-12zM115 1329h15v3h-15zM115 1332h12v3h-12zM112 1335h12v3h-12zM313 1335h3v3h-3zM109 1338h12v3h-12zM310 1338h6v3h-6zM109 1341h9v3h-9zM307 1341h9v3h-9zM106 1344h9v3h-9zM307 1344h9v3h-9zM103 1347h12v3h-12zM298 1347h18v3h-18zM103 1350h12v3h-12zM286 1350h21v3h-21zM103 1353h9v3h-9zM271 1353h18v3h-18zM103 1356h6v3h-6zM259 1356h15v3h-15zM100 1359h9v3h-9zM253 1359h12v3h-12zM100 1362h9v3h-9zM253 1362h6v3h-6zM97 1365h12v3h-12zM250 1365h9v3h-9zM97 1368h9v3h-9zM253 1368h9v3h-9zM97 1371h9v3h-9zM256 1371h12v3h-12zM94 1374h9v3h-9zM262 1374h15v3h-15zM91 1377h12v3h-12zM274 1377h15v3h-15zM91 1380h12v3h-12zM286 1380h15v3h-15zM88 1383h15v3h-15zM295 1383h12v3h-12zM85 1386h18v3h-18zM301 1386h9v3h-9zM85 1389h18v3h-18zM307 1389h6v3h-6zM85 1392h21v3h-21zM307 1392h9v3h-9zM88 1395h21v3h-21zM313 1395h3v3h-3zM91 1398h18v3h-18zM100 1401h12v3h-12zM103 1404h12v3h-12zM109 1407h9v3h-9zM112 1410h9v3h-9zM115 1413h9v3h-9zM160 1413h12v3h-12zM115 1416h12v3h-12zM154 1416h21v3h-21zM118 1419h9v3h-9zM148 1419h30v3h-30zM121 1422h12v3h-12zM145 1422h15v3h-15zM169 1422h12v3h-12zM121 1425h36v3h-36zM172 1425h9v3h-9zM124 1428h30v3h-30zM175 1428h6v3h-6zM31 1431h12v3h-12zM124 1431h27v3h-27zM175 1431h6v3h-6zM34 1434h18v3h-18zM127 1434h24v3h-24zM175 1434h6v3h-6zM37 1437h18v3h-18zM127 1437h27v3h-27zM175 1437h6v3h-6zM46 1440h15v3h-15zM127 1440h27v3h-27zM175 1440h6v3h-6zM52 1443h15v3h-15zM127 1443h30v3h-30zM172 1443h9v3h-9zM58 1446h15v3h-15zM124 1446h36v3h-36zM169 1446h12v3h-12zM64 1449h12v3h-12zM124 1449h57v3h-57zM67 1452h15v3h-15zM121 1452h18v3h-18zM142 1452h39v3h-39zM73 1455h12v3h-12zM121 1455h12v3h-12zM148 1455h33v3h-33zM76 1458h12v3h-12zM118 1458h15v3h-15zM151 1458h27v3h-27zM79 1461h15v3h-15zM115 1461h15v3h-15zM157 1461h18v3h-18zM79 1464h24v3h-24zM109 1464h18v3h-18zM85 1467h39v3h-39zM85 1470h36v3h-36zM91 1473h24v3h-24z"/>
<path shape-rendering="crispEdges" fill="#28ffd7" d="M256 1245h3v3h-3zM253 1248h9v3h-9zM247 1251h12v3h-12zM223 1254h33v3h-33zM211 1257h42v3h-42zM205 1260h39v3h-39zM196 1263h30v3h-30zM187 1266h27v3h-27zM181 1269h24v3h-24zM178 1272h18v3h-18zM175 1275h15v3h-15zM172 1278h15v3h-15zM169 1281h12v3h-12zM166 1284h12v3h-12zM163 1287h12v3h-12zM160 1290h12v3h-12zM157 1293h12v3h-12zM157 1296h9v3h-9zM151 1299h12v3h-12zM151 1302h9v3h-9zM145 1305h12v3h-12zM139 1308h12v3h-12zM133 1311h15v3h-15zM127 1314h15v3h-15zM118 1317h18v3h-18zM109 1320h24v3h-24zM106 1323h21v3h-21zM100 1326h21v3h-21zM97 1329h18v3h-18zM97 1332h18v3h-18zM94 1335h18v3h-18zM94 1338h15v3h-15zM91 1341h18v3h-18zM91 1344h15v3h-15zM91 1347h12v3h-12zM91 1350h12v3h-12zM307 1350h9v3h-9zM91 1353h12v3h-12zM289 1353h30v3h-30zM91 1356h12v3h-12zM274 1356h45v3h-45zM91 1359h9v3h-9zM265 1359h18v3h-18zM307 1359h12v3h-12zM88 1362h12v3h-12zM259 1362h15v3h-15zM313 1362h6v3h-6zM88 1365h9v3h-9zM259 1365h12v3h-12zM313 1365h6v3h-6zM85 1368h12v3h-12zM262 1368h15v3h-15zM313 1368h6v3h-6zM82 1371h15v3h-15zM268 1371h18v3h-18zM79 1374h15v3h-15zM277 1374h30v3h-30zM73 1377h18v3h-18zM289 1377h30v3h-30zM67 1380h24v3h-24zM301 1380h15v3h-15zM61 1383h27v3h-27zM307 1383h9v3h-9zM61 1386h24v3h-24zM310 1386h6v3h-6zM58 1389h27v3h-27zM313 1389h3v3h-3zM58 1392h27v3h-27zM58 1395h30v3h-30zM61 1398h30v3h-30zM61 1401h39v3h-39zM67 1404h36v3h-36zM85 1407h24v3h-24zM97 1410h15v3h-15zM103 1413h12v3h-12zM106 1416h9v3h-9zM109 1419h9v3h-9zM28 1422h21v3h-21zM112 1422h9v3h-9zM160 1422h9v3h-9zM28 1425h24v3h-24zM115 1425h6v3h-6zM157 1425h15v3h-15zM31 1428h27v3h-27zM115 1428h9v3h-9zM154 1428h21v3h-21zM43 1431h18v3h-18zM115 1431h9v3h-9zM151 1431h24v3h-24zM52 1434h15v3h-15zM115 1434h12v3h-12zM151 1434h24v3h-24zM55 1437h18v3h-18zM115 1437h12v3h-12zM154 1437h21v3h-21zM61 1440h15v3h-15zM115 1440h12v3h-12zM154 1440h21v3h-21zM67 1443h15v3h-15zM115 1443h12v3h-12zM157 1443h15v3h-15zM73 1446h12v3h-12zM115 1446h9v3h-9zM160 1446h9v3h-9zM76 1449h15v3h-15zM112 1449h12v3h-12zM82 1452h15v3h-15zM109 1452h12v3h-12zM85 1455h36v3h-36zM88 1458h30v3h-30zM94 1461h21v3h-21zM103 1464h6v3h-6z"/>
<path shape-rendering="crispEdges" fill="#38ffc7" d="M220 1242h36v3h-36zM214 1245h42v3h-42zM208 1248h45v3h-45zM202 1251h45v3h-45zM196 1254h27v3h-27zM187 1257h24v3h-24zM181 1260h24v3h-24zM175 1263h21v3h-21zM172 1266h15v3h-15zM169 1269h12v3h-12zM166 1272h12v3h-12zM163 1275h12v3h-12zM160 1278h12v3h-12zM157 1281h12v3h-12zM157 1284h9v3h-9zM154 1287h9v3h-9zM151 1290h9v3h-9zM148 1293h9v3h-9zM145 1296h12v3h-12zM142 1299h9v3h-9zM139 1302h12v3h-12zM130 1305h15v3h-15zM97 1308h42v3h-42zM88 1311h45v3h-45zM82 1314h45v3h-45zM79 1317h39v3h-39zM76 1320h33v3h-33zM73 1323h33v3h-33zM70 1326h30v3h-30zM67 1329h30v3h-30zM61 1332h36v3h-36zM55 1335h39v3h-39zM49 1338h45v3h-45zM40 1341h51v3h-51zM37 1344h54v3h-54zM34 1347h57v3h-57zM31 1350h60v3h-60zM31 1353h60v3h-60zM31 1356h60v3h-60zM31 1359h60v3h-60zM283 1359h24v3h-24zM34 1362h54v3h-54zM274 1362h39v3h-39zM34 1365h54v3h-54zM271 1365h42v3h-42zM37 1368h48v3h-48zM277 1368h36v3h-36zM37 1371h45v3h-45zM286 1371h33v3h-33zM37 1374h42v3h-42zM307 1374h12v3h-12zM37 1377h36v3h-36zM40 1380h27v3h-27zM40 1383h21v3h-21zM40 1386h21v3h-21zM43 1389h15v3h-15zM43 1392h15v3h-15zM43 1395h15v3h-15zM40 1398h21v3h-21zM40 1401h21v3h-21zM37 1404h30v3h-30zM37 1407h48v3h-48zM31 1410h66v3h-66zM25 1413h78v3h-78zM25 1416h81v3h-81zM25 1419h54v3h-54zM91 1419h18v3h-18zM49 1422h24v3h-24zM97 1422h15v3h-15zM52 1425h21v3h-21zM103 1425h12v3h-12zM58 1428h18v3h-18zM103 1428h12v3h-12zM61 1431h18v3h-18zM103 1431h12v3h-12zM67 1434h18v3h-18zM103 1434h12v3h-12zM73 1437h18v3h-18zM103 1437h12v3h-12zM76 1440h39v3h-39zM82 1443h33v3h-33zM85 1446h30v3h-30zM91 1449h21v3h-21zM97 1452h12v3h-12z"/>
<path shape-rendering="crispEdges" fill="#48ffb7" d="M217 1227h12v3h-12zM217 1230h18v3h-18zM211 1233h30v3h-30zM211 1236h33v3h-33zM205 1239h45v3h-45zM202 1242h18v3h-18zM196 1245h18v3h-18zM190 1248h18v3h-18zM181 1251h21v3h-21zM175 1254h21v3h-21zM169 1257h18v3h-18zM163 1260h18v3h-18zM160 1263h15v3h-15zM157 1266h15v3h-15zM157 1269h12v3h-12zM154 1272h12v3h-12zM151 1275h12v3h-12zM151 1278h9v3h-9zM148 1281h9v3h-9zM145 1284h12v3h-12zM145 1287h9v3h-9zM139 1290h12v3h-12zM136 1293h12v3h-12zM130 1296h15v3h-15zM85 1299h57v3h-57zM79 1302h60v3h-60zM76 1305h54v3h-54zM73 1308h24v3h-24zM70 1311h18v3h-18zM67 1314h15v3h-15zM64 1317h15v3h-15zM61 1320h15v3h-15zM55 1323h18v3h-18zM49 1326h21v3h-21zM43 1329h24v3h-24zM31 1332h30v3h-30zM25 1335h30v3h-30zM25 1338h24v3h-24zM22 1341h18v3h-18zM22 1344h15v3h-15zM22 1347h12v3h-12zM22 1350h9v3h-9zM22 1353h9v3h-9zM25 1356h6v3h-6zM25 1359h6v3h-6zM25 1362h9v3h-9zM25 1365h9v3h-9zM25 1368h12v3h-12zM25 1371h12v3h-12zM28 1374h9v3h-9zM28 1377h9v3h-9zM28 1380h12v3h-12zM31 1383h9v3h-9zM31 1386h9v3h-9zM31 1389h12v3h-12zM31 1392h12v3h-12zM31 1395h12v3h-12zM28 1398h12v3h-12zM25 1401h15v3h-15zM25 1404h12v3h-12zM22 1407h15v3h-15zM22 1410h9v3h-9zM79 1419h12v3h-12zM73 1422h24v3h-24zM73 1425h30v3h-30zM76 1428h27v3h-27zM79 1431h24v3h-24zM85 1434h18v3h-18zM91 1437h12v3h-12z"/>
<path shape-rendering="crispEdges" fill="#58ffa7" d="M208 1224h12v3h-12zM205 1227h12v3h-12zM205 1230h12v3h-12zM199 1233h12v3h-12zM196 1236h15v3h-15zM193 1239h12v3h-12zM184 1242h18v3h-18zM175 1245h21v3h-21zM166 1248h24v3h-24zM157 1251h24v3h-24zM154 1254h21v3h-21zM151 1257h18v3h-18zM148 1260h15v3h-15zM145 1263h15v3h-15zM145 1266h12v3h-12zM142 1269h15v3h-15zM139 1272h15v3h-15zM139 1275h12v3h-12zM139 1278h12v3h-12zM133 1281h15v3h-15zM130 1284h15v3h-15zM91 1287h21v3h-21zM121 1287h24v3h-24zM82 1290h57v3h-57zM79 1293h57v3h-57zM73 1296h57v3h-57zM73 1299h12v3h-12zM70 1302h9v3h-9zM67 1305h9v3h-9zM64 1308h9v3h-9zM61 1311h9v3h-9zM55 1314h12v3h-12zM52 1317h12v3h-12zM46 1320h15v3h-15zM37 1323h18v3h-18zM22 1326h27v3h-27zM19 1329h24v3h-24zM19 1332h12v3h-12zM19 1335h6v3h-6zM19 1338h6v3h-6zM19 1341h3v3h-3zM19 1344h3v3h-3zM19 1347h3v3h-3zM19 1350h3v3h-3zM19 1353h3v3h-3zM19 1356h6v3h-6zM19 1359h6v3h-6zM19 1362h6v3h-6zM19 1365h6v3h-6zM19 1368h6v3h-6zM19 1371h6v3h-6zM19 1374h9v3h-9zM22 1377h6v3h-6zM22 1380h6v3h-6zM22 1383h9v3h-9zM22 1386h9v3h-9zM22 1389h9v3h-9zM19 1392h12v3h-12zM19 1395h12v3h-12zM19 1398h9v3h-9zM19 1401h6v3h-6zM22 1404h3v3h-3z"/>
<path shape-rendering="crispEdges" fill="#68ff97" d="M202 1221h9v3h-9zM199 1224h9v3h-9zM106 1227h12v3h-12zM196 1227h9v3h-9zM103 1230h18v3h-18zM193 1230h12v3h-12zM103 1233h24v3h-24zM187 1233h12v3h-12zM103 1236h24v3h-24zM181 1236h15v3h-15zM103 1239h30v3h-30zM169 1239h24v3h-24zM103 1242h36v3h-36zM154 1242h30v3h-30zM103 1245h72v3h-72zM106 1248h60v3h-60zM106 1251h51v3h-51zM106 1254h48v3h-48zM106 1257h45v3h-45zM109 1260h39v3h-39zM109 1263h36v3h-36zM109 1266h36v3h-36zM106 1269h36v3h-36zM103 1272h36v3h-36zM97 1275h42v3h-42zM91 1278h48v3h-48zM82 1281h51v3h-51zM79 1284h51v3h-51zM73 1287h18v3h-18zM112 1287h9v3h-9zM73 1290h9v3h-9zM70 1293h9v3h-9zM67 1296h6v3h-6zM64 1299h9v3h-9zM61 1302h9v3h-9zM58 1305h9v3h-9zM55 1308h9v3h-9zM49 1311h12v3h-12zM43 1314h12v3h-12zM25 1317h3v3h-3zM31 1317h21v3h-21zM22 1320h24v3h-24zM22 1323h15v3h-15zM19 1377h3v3h-3zM19 1380h3v3h-3zM19 1383h3v3h-3zM19 1386h3v3h-3zM19 1389h3v3h-3z"/>
<path shape-rendering="crispEdges" fill="#78ff87" d="M196 1218h6v3h-6zM193 1221h9v3h-9zM112 1224h12v3h-12zM190 1224h9v3h-9zM118 1227h9v3h-9zM184 1227h12v3h-12zM100 1230h3v3h-3zM121 1230h12v3h-12zM178 1230h15v3h-15zM97 1233h6v3h-6zM127 1233h12v3h-12zM166 1233h21v3h-21zM97 1236h6v3h-6zM127 1236h54v3h-54zM97 1239h6v3h-6zM133 1239h36v3h-36zM97 1242h6v3h-6zM139 1242h15v3h-15zM97 1245h6v3h-6zM97 1248h9v3h-9zM97 1251h9v3h-9zM97 1254h9v3h-9zM97 1257h9v3h-9zM97 1260h12v3h-12zM94 1263h15v3h-15zM91 1266h18v3h-18zM88 1269h18v3h-18zM85 1272h18v3h-18zM79 1275h18v3h-18zM76 1278h15v3h-15zM73 1281h9v3h-9zM70 1284h9v3h-9zM67 1287h6v3h-6zM64 1290h9v3h-9zM61 1293h9v3h-9zM61 1296h6v3h-6zM58 1299h6v3h-6zM55 1302h6v3h-6zM49 1305h9v3h-9zM43 1308h12v3h-12zM25 1311h24v3h-24zM25 1314h18v3h-18zM28 1317h3v3h-3z"/>
<path shape-rendering="crispEdges" fill="#87ff78" d="M187 1218h9v3h-9zM121 1221h6v3h-6zM184 1221h9v3h-9zM124 1224h9v3h-9zM178 1224h12v3h-12zM127 1227h12v3h-12zM169 1227h15v3h-15zM133 1230h45v3h-45zM94 1233h3v3h-3zM139 1233h27v3h-27zM91 1236h6v3h-6zM91 1239h6v3h-6zM91 1242h6v3h-6zM91 1245h6v3h-6zM91 1248h6v3h-6zM91 1251h6v3h-6zM91 1254h6v3h-6zM91 1257h6v3h-6zM88 1260h9v3h-9zM85 1263h9v3h-9zM82 1266h9v3h-9zM79 1269h9v3h-9zM73 1272h12v3h-12zM70 1275h9v3h-9zM67 1278h9v3h-9zM67 1281h6v3h-6zM64 1284h6v3h-6zM61 1287h6v3h-6zM58 1290h6v3h-6zM55 1293h6v3h-6zM52 1296h9v3h-9zM49 1299h9v3h-9zM43 1302h12v3h-12zM28 1305h3v3h-3zM37 1305h12v3h-12zM28 1308h15v3h-15z"/>
<path shape-rendering="crispEdges" fill="#97ff68" d="M178 1218h9v3h-9zM127 1221h9v3h-9zM172 1221h12v3h-12zM133 1224h45v3h-45zM139 1227h30v3h-30zM88 1236h3v3h-3zM85 1239h6v3h-6zM85 1242h6v3h-6zM85 1245h6v3h-6zM85 1248h6v3h-6zM85 1251h6v3h-6zM85 1254h6v3h-6zM82 1257h9v3h-9zM79 1260h9v3h-9zM76 1263h9v3h-9zM73 1266h9v3h-9zM70 1269h9v3h-9zM67 1272h6v3h-6zM64 1275h6v3h-6zM61 1278h6v3h-6zM58 1281h9v3h-9zM55 1284h9v3h-9zM55 1287h6v3h-6zM52 1290h6v3h-6zM49 1293h6v3h-6zM43 1296h9v3h-9zM37 1299h12v3h-12zM31 1302h12v3h-12zM31 1305h6v3h-6z"/>
<path shape-rendering="crispEdges" fill="#a7ff58" d="M133 1218h6v3h-6zM166 1218h12v3h-12zM136 1221h36v3h-36zM79 1242h6v3h-6zM79 1245h6v3h-6zM79 1248h6v3h-6zM79 1251h6v3h-6zM76 1254h9v3h-9zM73 1257h9v3h-9zM70 1260h9v3h-9zM67 1263h9v3h-9zM61 1266h12v3h-12zM61 1269h9v3h-9zM58 1272h9v3h-9zM55 1275h9v3h-9zM55 1278h6v3h-6zM52 1281h6v3h-6zM49 1284h6v3h-6zM46 1287h9v3h-9zM43 1290h9v3h-9zM37 1293h12v3h-12zM34 1296h9v3h-9zM31 1299h6v3h-6z"/>
<path shape-rendering="crispEdges" fill="#b7ff48" d="M139 1218h27v3h-27zM76 1245h3v3h-3zM73 1248h6v3h-6zM67 1251h12v3h-12zM64 1254h12v3h-12zM61 1257h12v3h-12zM58 1260h12v3h-12zM55 1263h12v3h-12zM52 1266h9v3h-9zM49 1269h12v3h-12zM49 1272h9v3h-9zM49 1275h6v3h-6zM46 1278h9v3h-9zM43 1281h9v3h-9zM40 1284h9v3h-9zM37 1287h9v3h-9zM37 1290h6v3h-6zM34 1293h3v3h-3z"/>
<path shape-rendering="crispEdges" fill="#c7ff38" d="M46 1275h3v3h-3zM43 1278h3v3h-3z"/>
<path fill="none" stroke="#222" stroke-opacity="0.8" stroke-width="0.75" d="M264.0,1331.5 270.0,1328.6 272.9,1324.5 272.7,1318.5 269.2,1313.5 264.0,1310.3 257.0,1308.8 250.0,1310.0 245.0,1313.2 242.9,1316.5 242.2,1320.5 243.2,1324.5 246.0,1328.3 249.2,1330.5 254.0,1332.0 264.0,1331.5M258.8,1444.5 263.0,1441.4 266.1,1435.5 273.2,1415.5 273.9,1410.5 273.3,1406.5 269.0,1401.1 261.0,1397.7 251.0,1396.7 242.0,1398.4 236.0,1402.1 232.3,1407.5 230.9,1414.5 232.1,1421.5 237.3,1430.5 246.0,1439.6 253.0,1444.1 258.8,1444.5M264.2,1339.5 278.0,1335.3 283.0,1331.6 285.5,1327.5 286.4,1322.5 285.6,1316.5 283.0,1310.0 279.2,1304.5 271.0,1298.6 259.0,1296.4 244.9,1298.5 238.0,1301.4 233.4,1304.5 228.8,1310.5 227.4,1317.5 228.9,1325.5 233.0,1332.8 238.0,1337.0 244.8,1339.5 254.0,1340.3 264.2,1339.5M267.4,1464.5 275.0,1460.3 278.0,1456.5 279.5,1452.5 280.9,1429.5 285.2,1411.5 284.9,1406.5 283.4,1402.5 280.0,1398.5 275.2,1395.5 261.0,1391.3 242.0,1389.9 235.0,1390.8 229.0,1392.9 222.0,1398.5 216.8,1407.5 215.4,1416.5 217.8,1425.5 223.6,1433.5 249.0,1460.3 258.0,1464.8 267.4,1464.5M315.0,1434.6 315.0,1439.4M315.0,1251.7 310.5,1233.5 308.0,1231.2 303.0,1231.0 296.0,1233.8 290.0,1239.6 286.5,1247.5 285.4,1257.5 287.3,1270.5 289.6,1275.5 292.0,1277.9 296.0,1279.1 302.0,1279.0 310.0,1277.7 315.0,1275.7M251.5,1346.5 268.0,1344.3 281.0,1341.0 289.8,1336.5 293.9,1331.5 295.7,1323.5 294.7,1313.5 289.7,1292.5 288.0,1288.4 285.0,1285.5 279.0,1284.5 267.0,1285.1 253.0,1287.0 241.0,1289.8 233.0,1292.7 225.9,1296.5 221.1,1300.5 217.5,1305.5 215.4,1312.5 215.7,1321.5 219.0,1331.5 224.0,1339.7 229.0,1344.1 234.0,1346.2 241.0,1347.0 251.5,1346.5M315.0,1417.7 303.0,1426.9 300.0,1427.3 298.6,1424.5 297.2,1412.5 294.9,1404.5 291.3,1398.5 287.0,1394.8 280.0,1391.2 270.0,1388.2 233.0,1381.7 228.0,1381.9 223.0,1383.3 211.3,1391.5 203.2,1401.5 200.6,1411.5 202.2,1424.5 207.0,1434.8 212.0,1440.7 227.0,1454.2 245.0,1476.0 253.0,1481.5 261.0,1483.7 270.0,1483.8 288.0,1481.4 295.0,1482.5 298.0,1485.0 300.0,1488.2 307.6,1507.5 310.5,1510.5 315.0,1513.0M271.5,1514.5 265.3,1514.5M308.2,1218.5 304.0,1221.9 290.0,1229.2 284.0,1234.7 279.1,1243.5 272.7,1263.5 267.0,1271.2 258.0,1275.9 233.0,1282.9 221.0,1287.4 212.0,1293.1 205.6,1300.5 202.7,1306.5 201.1,1312.5 200.5,1319.5 201.4,1325.5 205.2,1334.5 218.4,1356.5 220.5,1362.5 219.7,1365.5 217.5,1368.5 206.0,1378.9 198.0,1383.9 190.0,1386.1 185.0,1385.1 181.0,1381.0 178.1,1373.5 177.2,1365.5 181.9,1341.5 182.2,1335.5 179.9,1329.5 175.0,1325.9 171.0,1324.9 166.0,1325.1 154.0,1329.7 142.6,1337.5 134.5,1347.5 127.0,1363.5 122.7,1377.5 122.7,1387.5 126.0,1396.5 132.0,1403.5 139.0,1406.5 146.0,1405.4 169.0,1397.6 176.0,1397.4 181.0,1399.8 184.0,1403.7 187.0,1410.3 194.3,1436.5 198.0,1446.1 203.0,1454.1 214.2,1467.5 218.8,1475.5 221.9,1484.5 222.9,1493.5 222.2,1499.5 220.0,1505.0 217.0,1508.8 213.0,1510.2 194.0,1505.3 169.0,1496.3 157.0,1495.2 145.6,1496.5 136.7,1499.5 131.4,1503.5 130.4,1507.5 132.7,1514.5M315.0,1409.2 308.4,1406.5 298.9,1395.5 292.0,1390.5 281.0,1386.1 256.0,1380.1 245.2,1376.5 235.1,1370.5 232.2,1367.5 231.1,1364.5 231.6,1362.5 234.6,1359.5 242.3,1355.5 253.0,1352.3 285.0,1345.4 293.0,1342.4 298.9,1338.5 301.8,1334.5 303.3,1329.5 302.9,1307.5 304.0,1300.5 308.0,1293.8 315.0,1289.0M36.9,1476.5 42.0,1474.7 45.0,1472.1 46.6,1468.5 45.7,1464.5 42.0,1460.6 37.4,1458.5 32.0,1458.1 28.0,1459.3 25.4,1461.5 23.8,1464.5 23.5,1468.5 24.5,1471.5 29.0,1475.7 36.9,1476.5M299.6,1218.5 286.0,1225.0 279.0,1230.5 274.1,1237.5 265.0,1256.8 258.0,1264.4 248.0,1269.0 215.0,1277.5 201.9,1283.5 179.7,1301.5 130.9,1331.5 122.8,1339.5 115.4,1351.5 110.0,1364.5 106.1,1378.5 105.7,1386.5 108.1,1393.5 126.0,1415.6 132.0,1421.0 136.0,1423.1 141.0,1422.7 155.0,1414.7 163.0,1411.9 170.0,1412.2 176.0,1415.9 179.3,1420.5 181.8,1426.5 184.1,1442.5 182.7,1455.5 180.3,1460.5 177.5,1463.5 171.0,1466.5 164.0,1466.8 157.0,1464.8 144.0,1458.9 140.0,1458.4 136.0,1460.4 125.4,1470.5 117.0,1475.8 107.0,1478.8 97.0,1479.0 91.0,1477.5 86.0,1474.7 69.1,1456.5 60.7,1450.5 51.0,1445.2 41.0,1441.3 33.0,1439.7 26.0,1439.9 19.0,1442.1M315.0,1401.0 305.0,1391.2 299.0,1387.0 289.0,1383.0 257.7,1374.5 251.1,1370.5 249.0,1367.6 248.7,1365.5 250.9,1361.5 257.7,1357.5 296.0,1348.2 302.8,1345.5 307.0,1342.5 309.7,1338.5 310.7,1334.5 310.9,1308.5 312.5,1303.5 315.0,1299.8M289.2,1218.5 279.6,1222.5 272.7,1227.5 268.1,1233.5 259.5,1248.5 253.0,1254.9 244.0,1258.5 225.0,1260.9 214.0,1263.6 199.2,1268.5 189.0,1273.2 177.0,1281.9 150.2,1307.5 140.0,1314.1 117.2,1325.5 111.0,1330.3 106.4,1335.5 100.8,1345.5 94.8,1364.5 91.6,1371.5 86.0,1379.0 74.2,1389.5 72.4,1393.5 73.3,1396.5 77.3,1399.5 95.0,1405.0 104.0,1409.3 111.0,1415.3 116.6,1422.5 120.7,1431.5 121.7,1441.5 118.8,1451.5 113.1,1458.5 106.0,1461.4 97.0,1459.9 58.0,1435.8 42.0,1428.2 30.0,1426.7 19.0,1429.3M315.0,1389.3 311.0,1384.5 306.0,1381.1 272.8,1372.5 266.5,1369.5 264.3,1366.5 265.7,1363.5 268.9,1361.5 282.0,1357.7 304.0,1355.1 311.0,1355.2 315.0,1356.5M166.0,1440.9 162.0,1440.1 159.4,1435.5 160.6,1430.5 164.0,1428.2 167.5,1429.5 169.2,1433.5 168.4,1438.5 166.0,1440.9M274.2,1218.5 264.7,1223.5 254.0,1236.9 249.0,1240.7 242.0,1242.3 230.0,1240.7 225.0,1241.2 204.8,1251.5 184.0,1260.0 175.4,1264.5 166.0,1272.4 147.7,1295.5 137.0,1303.7 123.0,1308.0 97.1,1309.5 89.2,1311.5 82.0,1316.0 70.0,1327.8 63.0,1333.3 42.5,1341.5 37.2,1344.5 33.4,1349.5 32.4,1357.5 33.9,1365.5 40.6,1385.5 41.4,1393.5 40.8,1400.5 39.0,1404.8 35.7,1408.5 19.0,1417.2M100.0,1439.6 96.0,1439.9 92.0,1439.0 81.1,1433.5 74.3,1427.5 73.2,1424.5 74.0,1422.5 78.0,1420.2 85.0,1419.4 92.0,1420.5 98.0,1423.2 102.2,1427.5 103.9,1432.5 103.0,1437.1 100.0,1439.6M215.7,1218.5 209.2,1230.5 200.0,1239.1 191.0,1243.9 167.0,1252.6 157.0,1258.8 151.1,1265.5 141.0,1282.7 133.0,1289.9 127.0,1292.3 121.0,1293.2 97.0,1291.5 87.0,1293.1 79.0,1297.6 63.5,1313.5 54.0,1320.6 43.0,1325.5 19.0,1332.3M19.0,1353.6 23.7,1378.5 24.7,1388.5 23.2,1396.5 19.0,1402.7M80.1,1218.5 94.7,1222.5 97.8,1224.5 99.9,1227.5 102.2,1237.5 104.2,1257.5 104.0,1264.5 102.1,1269.5 97.6,1273.5 78.0,1284.1 58.0,1305.5 48.0,1312.7 40.0,1315.9 31.0,1317.3 24.0,1316.4 19.0,1313.5M202.6,1218.5 195.7,1227.5 185.0,1234.1 165.0,1239.8 147.0,1242.5 141.0,1241.9 135.0,1239.5 110.0,1222.1 106.0,1218.5M66.0,1218.5 83.2,1225.5 87.4,1228.5 90.4,1232.5 92.6,1238.5 93.4,1246.5 92.4,1254.5 90.0,1260.4 85.0,1266.4 70.0,1279.0 54.3,1297.5 46.0,1303.9 38.0,1307.2 31.0,1307.8 24.0,1305.8 19.0,1301.8M190.4,1218.5 184.0,1223.5 175.0,1227.5 163.0,1230.3 152.0,1231.2 145.0,1230.7 138.0,1228.8 119.2,1218.5M54.7,1218.5 59.0,1222.7 75.0,1229.2 81.0,1233.9 83.5,1238.5 84.4,1243.5 83.9,1248.5 82.1,1253.5 77.7,1259.5 64.0,1272.2 50.6,1289.5 43.0,1295.7 36.0,1298.4 30.0,1298.5 24.0,1296.0 19.0,1290.8M176.4,1218.5 165.0,1222.3 152.0,1223.7 141.0,1222.4 130.3,1218.5M41.0,1218.5 36.0,1220.5 29.0,1221.2 24.0,1220.6 20.4,1218.5M19.0,1252.7 22.0,1254.7 26.0,1255.4 41.0,1254.4 51.0,1251.3 61.0,1242.2 65.0,1241.8 67.6,1244.5 66.0,1248.7 56.0,1257.8 47.2,1277.5 44.0,1282.0 40.0,1285.6 34.0,1287.9 28.0,1286.9 23.0,1282.7 19.0,1275.1"/>
</g>
<circle cx="167.0" cy="1366.5" r="137.5" fill="none" stroke="#000" stroke-width="1.7"/>
<path d="M142.5,1230.8L161.0,1211.0Q167.0,1208.0 173.0,1211.0L191.5,1230.8" fill="none" stroke="#000" stroke-width="1.4"/>
<polyline points="31.3,1340.3 26.0,1334.6 22.1,1334.3 19.9,1335.6 17.1,1340.3 17.4,1364.4 15.8,1392.4 19.3,1401.9 26.0,1405.1 32.9,1400.0" fill="none" stroke="#000" stroke-width="1.4"/><polyline points="302.7,1340.3 308.0,1334.6 311.9,1334.3 314.1,1335.6 316.9,1340.3 316.6,1364.4 318.2,1392.4 314.7,1401.9 308.0,1405.1 301.1,1400.0" fill="none" stroke="#000" stroke-width="1.4"/>
<circle cx="638.4" cy="1367.2" r="159" fill="#ebf2fc"/>
<polygon points="502.7,1341.0 497.4,1335.3 493.5,1335.0 491.3,1336.3 488.5,1341.0 488.8,1365.1 487.2,1393.1 490.7,1402.6 497.4,1405.8 504.3,1400.7" fill="#fff"/><polygon points="774.1,1341.0 779.4,1335.3 783.3,1335.0 785.5,1336.3 788.3,1341.0 788.0,1365.1 789.6,1393.1 786.1,1402.6 779.4,1405.8 772.5,1400.7" fill="#fff"/>
<clipPath id="cp1"><circle cx="638.4" cy="1367.2" r="149.5"/></clipPath>
<g clip-path="url(#cp1)">
<path shape-rendering="crispEdges" fill="#0000f7" d="M634 1360h6v3h-6zM631 1363h12v3h-12zM631 1366h12v3h-12zM631 1369h12v3h-12zM631 1372h12v3h-12zM631 1375h12v3h-12zM634 1378h6v3h-6z"/>
<path shape-rendering="crispEdges" fill="#0008ff" d="M631 1351h12v3h-12zM628 1354h18v3h-18zM625 1357h24v3h-24zM625 1360h9v3h-9zM640 1360h9v3h-9zM625 1363h6v3h-6zM643 1363h6v3h-6zM622 1366h9v3h-9zM643 1366h9v3h-9zM622 1369h9v3h-9zM643 1369h9v3h-9zM622 1372h9v3h-9zM643 1372h9v3h-9zM622 1375h9v3h-9zM643 1375h9v3h-9zM622 1378h12v3h-12zM640 1378h12v3h-12zM622 1381h30v3h-30zM622 1384h30v3h-30zM622 1387h27v3h-27zM625 1390h24v3h-24zM625 1393h21v3h-21zM631 1396h9v3h-9z"/>
<path shape-rendering="crispEdges" fill="#0018ff" d="M634 1342h6v3h-6zM628 1345h18v3h-18zM625 1348h24v3h-24zM622 1351h9v3h-9zM643 1351h9v3h-9zM622 1354h6v3h-6zM646 1354h6v3h-6zM619 1357h6v3h-6zM649 1357h6v3h-6zM619 1360h6v3h-6zM649 1360h6v3h-6zM619 1363h6v3h-6zM649 1363h6v3h-6zM616 1366h6v3h-6zM652 1366h6v3h-6zM616 1369h6v3h-6zM652 1369h6v3h-6zM616 1372h6v3h-6zM652 1372h6v3h-6zM616 1375h6v3h-6zM652 1375h6v3h-6zM616 1378h6v3h-6zM652 1378h6v3h-6zM613 1381h9v3h-9zM652 1381h6v3h-6zM613 1384h9v3h-9zM652 1384h6v3h-6zM613 1387h9v3h-9zM649 1387h9v3h-9zM613 1390h12v3h-12zM649 1390h9v3h-9zM610 1393h15v3h-15zM646 1393h15v3h-15zM610 1396h21v3h-21zM640 1396h21v3h-21zM613 1399h45v3h-45zM613 1402h45v3h-45zM616 1405h42v3h-42zM619 1408h39v3h-39zM622 1411h36v3h-36zM625 1414h30v3h-30zM628 1417h24v3h-24zM634 1420h15v3h-15z"/>
<path shape-rendering="crispEdges" fill="#0028ff" d="M631 1336h9v3h-9zM625 1339h21v3h-21zM622 1342h12v3h-12zM640 1342h9v3h-9zM619 1345h9v3h-9zM646 1345h6v3h-6zM616 1348h9v3h-9zM649 1348h6v3h-6zM616 1351h6v3h-6zM652 1351h6v3h-6zM616 1354h6v3h-6zM652 1354h6v3h-6zM613 1357h6v3h-6zM655 1357h3v3h-3zM613 1360h6v3h-6zM655 1360h6v3h-6zM613 1363h6v3h-6zM655 1363h6v3h-6zM547 1366h9v3h-9zM613 1366h3v3h-3zM658 1366h3v3h-3zM547 1369h12v3h-12zM610 1369h6v3h-6zM658 1369h3v3h-3zM547 1372h9v3h-9zM610 1372h6v3h-6zM658 1372h6v3h-6zM610 1375h6v3h-6zM658 1375h6v3h-6zM607 1378h9v3h-9zM658 1378h6v3h-6zM607 1381h6v3h-6zM658 1381h9v3h-9zM604 1384h9v3h-9zM658 1384h9v3h-9zM604 1387h9v3h-9zM658 1387h9v3h-9zM604 1390h9v3h-9zM658 1390h9v3h-9zM601 1393h9v3h-9zM661 1393h9v3h-9zM601 1396h9v3h-9zM661 1396h9v3h-9zM601 1399h12v3h-12zM658 1399h12v3h-12zM604 1402h9v3h-9zM658 1402h12v3h-12zM604 1405h12v3h-12zM658 1405h12v3h-12zM607 1408h12v3h-12zM658 1408h12v3h-12zM607 1411h15v3h-15zM658 1411h12v3h-12zM610 1414h15v3h-15zM655 1414h15v3h-15zM613 1417h15v3h-15zM652 1417h15v3h-15zM616 1420h18v3h-18zM649 1420h18v3h-18zM619 1423h45v3h-45zM622 1426h39v3h-39zM628 1429h27v3h-27zM631 1432h18v3h-18z"/>
<path shape-rendering="crispEdges" fill="#0038ff" d="M631 1330h9v3h-9zM622 1333h27v3h-27zM616 1336h15v3h-15zM640 1336h12v3h-12zM613 1339h12v3h-12zM646 1339h9v3h-9zM613 1342h9v3h-9zM649 1342h9v3h-9zM610 1345h9v3h-9zM652 1345h6v3h-6zM610 1348h6v3h-6zM655 1348h6v3h-6zM610 1351h6v3h-6zM658 1351h3v3h-3zM610 1354h6v3h-6zM658 1354h6v3h-6zM607 1357h6v3h-6zM658 1357h6v3h-6zM544 1360h15v3h-15zM607 1360h6v3h-6zM661 1360h3v3h-3zM541 1363h24v3h-24zM607 1363h6v3h-6zM661 1363h6v3h-6zM538 1366h9v3h-9zM556 1366h9v3h-9zM607 1366h6v3h-6zM661 1366h6v3h-6zM538 1369h9v3h-9zM559 1369h9v3h-9zM604 1369h6v3h-6zM661 1369h6v3h-6zM538 1372h9v3h-9zM556 1372h12v3h-12zM604 1372h6v3h-6zM664 1372h6v3h-6zM541 1375h24v3h-24zM601 1375h9v3h-9zM664 1375h6v3h-6zM544 1378h21v3h-21zM601 1378h6v3h-6zM664 1378h6v3h-6zM547 1381h15v3h-15zM598 1381h9v3h-9zM667 1381h6v3h-6zM598 1384h6v3h-6zM667 1384h6v3h-6zM595 1387h9v3h-9zM667 1387h6v3h-6zM595 1390h9v3h-9zM667 1390h9v3h-9zM595 1393h6v3h-6zM670 1393h6v3h-6zM595 1396h6v3h-6zM670 1396h6v3h-6zM595 1399h6v3h-6zM670 1399h6v3h-6zM595 1402h9v3h-9zM670 1402h9v3h-9zM595 1405h9v3h-9zM670 1405h9v3h-9zM598 1408h9v3h-9zM670 1408h9v3h-9zM598 1411h9v3h-9zM670 1411h9v3h-9zM601 1414h9v3h-9zM670 1414h9v3h-9zM604 1417h9v3h-9zM667 1417h12v3h-12zM607 1420h9v3h-9zM667 1420h9v3h-9zM607 1423h12v3h-12zM664 1423h12v3h-12zM610 1426h12v3h-12zM661 1426h12v3h-12zM613 1429h15v3h-15zM655 1429h15v3h-15zM616 1432h15v3h-15zM649 1432h18v3h-18zM622 1435h39v3h-39zM625 1438h33v3h-33zM631 1441h21v3h-21z"/>
<path shape-rendering="crispEdges" fill="#0048ff" d="M619 1327h30v3h-30zM613 1330h18v3h-18zM640 1330h15v3h-15zM610 1333h12v3h-12zM649 1333h9v3h-9zM607 1336h9v3h-9zM652 1336h9v3h-9zM604 1339h9v3h-9zM655 1339h6v3h-6zM604 1342h9v3h-9zM658 1342h6v3h-6zM604 1345h6v3h-6zM658 1345h6v3h-6zM601 1348h9v3h-9zM661 1348h6v3h-6zM601 1351h9v3h-9zM661 1351h6v3h-6zM547 1354h9v3h-9zM601 1354h9v3h-9zM664 1354h6v3h-6zM541 1357h24v3h-24zM601 1357h6v3h-6zM664 1357h6v3h-6zM535 1360h9v3h-9zM559 1360h12v3h-12zM601 1360h6v3h-6zM664 1360h6v3h-6zM535 1363h6v3h-6zM565 1363h9v3h-9zM598 1363h9v3h-9zM667 1363h6v3h-6zM535 1366h3v3h-3zM565 1366h9v3h-9zM598 1366h9v3h-9zM667 1366h6v3h-6zM535 1369h3v3h-3zM568 1369h6v3h-6zM595 1369h9v3h-9zM667 1369h9v3h-9zM535 1372h3v3h-3zM568 1372h9v3h-9zM595 1372h9v3h-9zM670 1372h6v3h-6zM535 1375h6v3h-6zM565 1375h12v3h-12zM592 1375h9v3h-9zM670 1375h9v3h-9zM538 1378h6v3h-6zM565 1378h12v3h-12zM589 1378h12v3h-12zM670 1378h9v3h-9zM538 1381h9v3h-9zM562 1381h12v3h-12zM589 1381h9v3h-9zM673 1381h6v3h-6zM541 1384h30v3h-30zM586 1384h12v3h-12zM673 1384h9v3h-9zM547 1387h21v3h-21zM586 1387h9v3h-9zM673 1387h9v3h-9zM586 1390h9v3h-9zM676 1390h6v3h-6zM586 1393h9v3h-9zM676 1393h6v3h-6zM586 1396h9v3h-9zM676 1396h9v3h-9zM586 1399h9v3h-9zM676 1399h9v3h-9zM586 1402h9v3h-9zM679 1402h6v3h-6zM589 1405h6v3h-6zM679 1405h6v3h-6zM589 1408h9v3h-9zM679 1408h6v3h-6zM592 1411h6v3h-6zM679 1411h9v3h-9zM592 1414h9v3h-9zM679 1414h9v3h-9zM595 1417h9v3h-9zM679 1417h9v3h-9zM598 1420h9v3h-9zM676 1420h9v3h-9zM598 1423h9v3h-9zM676 1423h9v3h-9zM601 1426h9v3h-9zM673 1426h9v3h-9zM604 1429h9v3h-9zM670 1429h9v3h-9zM607 1432h9v3h-9zM667 1432h9v3h-9zM610 1435h12v3h-12zM661 1435h12v3h-12zM613 1438h12v3h-12zM658 1438h12v3h-12zM616 1441h15v3h-15zM652 1441h15v3h-15zM619 1444h42v3h-42zM625 1447h30v3h-30zM634 1450h15v3h-15z"/>
<path shape-rendering="crispEdges" fill="#0058ff" d="M628 1219h9v3h-9zM628 1222h12v3h-12zM628 1225h15v3h-15zM628 1228h15v3h-15zM628 1231h15v3h-15zM628 1234h15v3h-15zM628 1237h15v3h-15zM631 1240h12v3h-12zM631 1243h9v3h-9zM628 1318h9v3h-9zM613 1321h39v3h-39zM607 1324h51v3h-51zM604 1327h15v3h-15zM649 1327h12v3h-12zM601 1330h12v3h-12zM655 1330h9v3h-9zM598 1333h12v3h-12zM658 1333h6v3h-6zM595 1336h12v3h-12zM661 1336h6v3h-6zM595 1339h9v3h-9zM661 1339h9v3h-9zM592 1342h12v3h-12zM664 1342h6v3h-6zM592 1345h12v3h-12zM664 1345h9v3h-9zM592 1348h9v3h-9zM667 1348h6v3h-6zM544 1351h24v3h-24zM589 1351h12v3h-12zM667 1351h9v3h-9zM535 1354h12v3h-12zM556 1354h21v3h-21zM589 1354h12v3h-12zM670 1354h6v3h-6zM532 1357h9v3h-9zM565 1357h36v3h-36zM670 1357h9v3h-9zM532 1360h3v3h-3zM571 1360h30v3h-30zM670 1360h12v3h-12zM529 1363h6v3h-6zM574 1363h24v3h-24zM673 1363h9v3h-9zM529 1366h6v3h-6zM574 1366h24v3h-24zM673 1366h12v3h-12zM529 1369h6v3h-6zM574 1369h21v3h-21zM676 1369h9v3h-9zM529 1372h6v3h-6zM577 1372h18v3h-18zM676 1372h12v3h-12zM532 1375h3v3h-3zM577 1375h15v3h-15zM679 1375h9v3h-9zM532 1378h6v3h-6zM577 1378h12v3h-12zM679 1378h9v3h-9zM535 1381h3v3h-3zM574 1381h15v3h-15zM679 1381h12v3h-12zM535 1384h6v3h-6zM571 1384h15v3h-15zM682 1384h9v3h-9zM538 1387h9v3h-9zM568 1387h18v3h-18zM682 1387h9v3h-9zM541 1390h45v3h-45zM682 1390h9v3h-9zM547 1393h39v3h-39zM682 1393h9v3h-9zM553 1396h33v3h-33zM685 1396h6v3h-6zM565 1399h21v3h-21zM685 1399h6v3h-6zM574 1402h12v3h-12zM685 1402h9v3h-9zM577 1405h12v3h-12zM685 1405h9v3h-9zM577 1408h12v3h-12zM685 1408h9v3h-9zM580 1411h12v3h-12zM688 1411h6v3h-6zM583 1414h9v3h-9zM688 1414h6v3h-6zM583 1417h12v3h-12zM688 1417h6v3h-6zM586 1420h12v3h-12zM685 1420h9v3h-9zM589 1423h9v3h-9zM685 1423h9v3h-9zM592 1426h9v3h-9zM682 1426h9v3h-9zM592 1429h12v3h-12zM679 1429h9v3h-9zM595 1432h12v3h-12zM676 1432h9v3h-9zM598 1435h12v3h-12zM673 1435h9v3h-9zM601 1438h12v3h-12zM670 1438h9v3h-9zM604 1441h12v3h-12zM667 1441h9v3h-9zM607 1444h12v3h-12zM661 1444h12v3h-12zM610 1447h15v3h-15zM655 1447h15v3h-15zM613 1450h21v3h-21zM649 1450h15v3h-15zM619 1453h42v3h-42zM625 1456h33v3h-33zM634 1459h15v3h-15z"/>
<path shape-rendering="crispEdges" fill="#0068ff" d="M616 1219h12v3h-12zM637 1219h18v3h-18zM616 1222h12v3h-12zM640 1222h15v3h-15zM619 1225h9v3h-9zM643 1225h12v3h-12zM619 1228h9v3h-9zM643 1228h12v3h-12zM619 1231h9v3h-9zM643 1231h12v3h-12zM619 1234h9v3h-9zM643 1234h12v3h-12zM619 1237h9v3h-9zM643 1237h12v3h-12zM715 1237h3v3h-3zM619 1240h12v3h-12zM643 1240h12v3h-12zM718 1240h3v3h-3zM619 1243h12v3h-12zM640 1243h15v3h-15zM718 1243h9v3h-9zM619 1246h36v3h-36zM721 1246h9v3h-9zM619 1249h36v3h-36zM721 1249h12v3h-12zM619 1252h36v3h-36zM727 1252h12v3h-12zM619 1255h33v3h-33zM619 1258h33v3h-33zM622 1261h30v3h-30zM622 1264h27v3h-27zM622 1267h24v3h-24zM628 1270h9v3h-9zM610 1312h39v3h-39zM604 1315h54v3h-54zM601 1318h27v3h-27zM637 1318h24v3h-24zM595 1321h18v3h-18zM652 1321h12v3h-12zM592 1324h15v3h-15zM658 1324h9v3h-9zM589 1327h15v3h-15zM661 1327h9v3h-9zM589 1330h12v3h-12zM664 1330h9v3h-9zM586 1333h12v3h-12zM664 1333h9v3h-9zM583 1336h12v3h-12zM667 1336h9v3h-9zM583 1339h12v3h-12zM670 1339h6v3h-6zM577 1342h15v3h-15zM670 1342h9v3h-9zM568 1345h24v3h-24zM673 1345h9v3h-9zM538 1348h54v3h-54zM673 1348h12v3h-12zM532 1351h12v3h-12zM568 1351h21v3h-21zM676 1351h12v3h-12zM529 1354h6v3h-6zM577 1354h12v3h-12zM676 1354h15v3h-15zM529 1357h3v3h-3zM679 1357h15v3h-15zM526 1360h6v3h-6zM682 1360h18v3h-18zM526 1363h3v3h-3zM682 1363h21v3h-21zM526 1366h3v3h-3zM685 1366h18v3h-18zM526 1369h3v3h-3zM685 1369h21v3h-21zM526 1372h3v3h-3zM688 1372h18v3h-18zM526 1375h6v3h-6zM688 1375h15v3h-15zM529 1378h3v3h-3zM688 1378h15v3h-15zM529 1381h6v3h-6zM691 1381h12v3h-12zM532 1384h3v3h-3zM691 1384h12v3h-12zM532 1387h6v3h-6zM691 1387h9v3h-9zM535 1390h6v3h-6zM691 1390h9v3h-9zM538 1393h9v3h-9zM691 1393h9v3h-9zM541 1396h12v3h-12zM691 1396h9v3h-9zM544 1399h21v3h-21zM691 1399h9v3h-9zM547 1402h27v3h-27zM694 1402h9v3h-9zM547 1405h30v3h-30zM694 1405h9v3h-9zM550 1408h27v3h-27zM694 1408h9v3h-9zM553 1411h27v3h-27zM694 1411h9v3h-9zM553 1414h30v3h-30zM694 1414h9v3h-9zM556 1417h27v3h-27zM694 1417h9v3h-9zM556 1420h30v3h-30zM694 1420h9v3h-9zM559 1423h30v3h-30zM694 1423h6v3h-6zM562 1426h30v3h-30zM691 1426h9v3h-9zM574 1429h18v3h-18zM688 1429h9v3h-9zM580 1432h15v3h-15zM685 1432h9v3h-9zM583 1435h15v3h-15zM682 1435h9v3h-9zM586 1438h15v3h-15zM679 1438h9v3h-9zM589 1441h15v3h-15zM676 1441h9v3h-9zM592 1444h15v3h-15zM673 1444h9v3h-9zM595 1447h15v3h-15zM670 1447h9v3h-9zM598 1450h15v3h-15zM664 1450h12v3h-12zM601 1453h18v3h-18zM661 1453h12v3h-12zM604 1456h21v3h-21zM658 1456h12v3h-12zM610 1459h24v3h-24zM649 1459h18v3h-18zM616 1462h48v3h-48zM622 1465h39v3h-39zM628 1468h30v3h-30z"/>
<path shape-rendering="crispEdges" fill="#0078ff" d="M610 1219h6v3h-6zM655 1219h12v3h-12zM610 1222h6v3h-6zM655 1222h12v3h-12zM613 1225h6v3h-6zM655 1225h12v3h-12zM691 1225h3v3h-3zM613 1228h6v3h-6zM655 1228h12v3h-12zM691 1228h9v3h-9zM613 1231h6v3h-6zM655 1231h12v3h-12zM691 1231h15v3h-15zM613 1234h6v3h-6zM655 1234h12v3h-12zM691 1234h21v3h-21zM613 1237h6v3h-6zM655 1237h12v3h-12zM691 1237h24v3h-24zM613 1240h6v3h-6zM655 1240h12v3h-12zM691 1240h27v3h-27zM613 1243h6v3h-6zM655 1243h12v3h-12zM694 1243h24v3h-24zM613 1246h6v3h-6zM655 1246h12v3h-12zM697 1246h24v3h-24zM613 1249h6v3h-6zM655 1249h12v3h-12zM700 1249h21v3h-21zM613 1252h6v3h-6zM655 1252h12v3h-12zM703 1252h24v3h-24zM610 1255h9v3h-9zM652 1255h18v3h-18zM706 1255h36v3h-36zM610 1258h9v3h-9zM652 1258h18v3h-18zM709 1258h36v3h-36zM607 1261h15v3h-15zM652 1261h18v3h-18zM709 1261h30v3h-30zM607 1264h15v3h-15zM649 1264h21v3h-21zM712 1264h21v3h-21zM604 1267h18v3h-18zM646 1267h24v3h-24zM718 1267h12v3h-12zM601 1270h27v3h-27zM637 1270h33v3h-33zM598 1273h72v3h-72zM592 1276h75v3h-75zM589 1279h78v3h-78zM586 1282h81v3h-81zM586 1285h81v3h-81zM583 1288h81v3h-81zM586 1291h78v3h-78zM586 1294h78v3h-78zM586 1297h78v3h-78zM589 1300h75v3h-75zM589 1303h78v3h-78zM589 1306h78v3h-78zM589 1309h81v3h-81zM589 1312h21v3h-21zM649 1312h21v3h-21zM586 1315h18v3h-18zM658 1315h15v3h-15zM586 1318h15v3h-15zM661 1318h15v3h-15zM583 1321h12v3h-12zM664 1321h12v3h-12zM580 1324h12v3h-12zM667 1324h12v3h-12zM580 1327h9v3h-9zM670 1327h9v3h-9zM577 1330h12v3h-12zM673 1330h9v3h-9zM574 1333h12v3h-12zM673 1333h12v3h-12zM571 1336h12v3h-12zM676 1336h9v3h-9zM568 1339h15v3h-15zM676 1339h12v3h-12zM553 1342h24v3h-24zM679 1342h15v3h-15zM532 1345h36v3h-36zM682 1345h15v3h-15zM526 1348h12v3h-12zM685 1348h18v3h-18zM526 1351h6v3h-6zM688 1351h21v3h-21zM523 1354h6v3h-6zM691 1354h24v3h-24zM523 1357h6v3h-6zM694 1357h24v3h-24zM523 1360h3v3h-3zM700 1360h21v3h-21zM523 1363h3v3h-3zM703 1363h21v3h-21zM523 1366h3v3h-3zM703 1366h24v3h-24zM523 1369h3v3h-3zM706 1369h24v3h-24zM523 1372h3v3h-3zM706 1372h27v3h-27zM523 1375h3v3h-3zM703 1375h30v3h-30zM526 1378h3v3h-3zM703 1378h33v3h-33zM526 1381h3v3h-3zM703 1381h36v3h-36zM526 1384h6v3h-6zM703 1384h36v3h-36zM529 1387h3v3h-3zM700 1387h39v3h-39zM529 1390h6v3h-6zM700 1390h39v3h-39zM532 1393h6v3h-6zM700 1393h36v3h-36zM535 1396h6v3h-6zM700 1396h27v3h-27zM535 1399h9v3h-9zM700 1399h21v3h-21zM538 1402h9v3h-9zM703 1402h15v3h-15zM538 1405h9v3h-9zM703 1405h15v3h-15zM541 1408h9v3h-9zM703 1408h12v3h-12zM541 1411h12v3h-12zM703 1411h12v3h-12zM541 1414h12v3h-12zM703 1414h12v3h-12zM541 1417h15v3h-15zM703 1417h9v3h-9zM541 1420h15v3h-15zM703 1420h9v3h-9zM541 1423h18v3h-18zM700 1423h9v3h-9zM541 1426h21v3h-21zM700 1426h6v3h-6zM541 1429h33v3h-33zM697 1429h6v3h-6zM544 1432h36v3h-36zM694 1432h6v3h-6zM544 1435h39v3h-39zM691 1435h9v3h-9zM544 1438h42v3h-42zM688 1438h6v3h-6zM547 1441h42v3h-42zM685 1441h6v3h-6zM550 1444h42v3h-42zM682 1444h6v3h-6zM553 1447h42v3h-42zM679 1447h6v3h-6zM559 1450h39v3h-39zM676 1450h6v3h-6zM574 1453h27v3h-27zM673 1453h9v3h-9zM580 1456h24v3h-24zM670 1456h9v3h-9zM586 1459h24v3h-24zM667 1459h9v3h-9zM589 1462h27v3h-27zM664 1462h12v3h-12zM595 1465h27v3h-27zM661 1465h15v3h-15zM601 1468h27v3h-27zM658 1468h15v3h-15zM607 1471h66v3h-66zM613 1474h60v3h-60zM619 1477h51v3h-51zM628 1480h42v3h-42zM634 1483h36v3h-36zM643 1486h24v3h-24zM658 1489h3v3h-3z"/>
<path shape-rendering="crispEdges" fill="#0087ff" d="M604 1219h6v3h-6zM667 1219h6v3h-6zM607 1222h3v3h-3zM667 1222h18v3h-18zM607 1225h6v3h-6zM667 1225h24v3h-24zM607 1228h6v3h-6zM667 1228h24v3h-24zM607 1231h6v3h-6zM667 1231h24v3h-24zM610 1234h3v3h-3zM667 1234h24v3h-24zM610 1237h3v3h-3zM667 1237h24v3h-24zM607 1240h6v3h-6zM667 1240h24v3h-24zM550 1243h3v3h-3zM607 1243h6v3h-6zM667 1243h27v3h-27zM547 1246h6v3h-6zM607 1246h6v3h-6zM667 1246h30v3h-30zM544 1249h9v3h-9zM607 1249h6v3h-6zM667 1249h33v3h-33zM538 1252h12v3h-12zM607 1252h6v3h-6zM667 1252h36v3h-36zM535 1255h15v3h-15zM604 1255h6v3h-6zM670 1255h36v3h-36zM532 1258h15v3h-15zM601 1258h9v3h-9zM670 1258h39v3h-39zM529 1261h15v3h-15zM601 1261h6v3h-6zM670 1261h39v3h-39zM739 1261h9v3h-9zM598 1264h9v3h-9zM670 1264h42v3h-42zM733 1264h12v3h-12zM592 1267h12v3h-12zM670 1267h48v3h-48zM730 1267h9v3h-9zM586 1270h15v3h-15zM670 1270h66v3h-66zM580 1273h18v3h-18zM670 1273h18v3h-18zM700 1273h36v3h-36zM574 1276h18v3h-18zM667 1276h18v3h-18zM706 1276h27v3h-27zM571 1279h18v3h-18zM667 1279h18v3h-18zM709 1279h21v3h-21zM571 1282h15v3h-15zM667 1282h18v3h-18zM712 1282h15v3h-15zM571 1285h15v3h-15zM667 1285h15v3h-15zM715 1285h9v3h-9zM571 1288h12v3h-12zM664 1288h18v3h-18zM571 1291h15v3h-15zM664 1291h18v3h-18zM571 1294h15v3h-15zM664 1294h18v3h-18zM571 1297h15v3h-15zM664 1297h18v3h-18zM574 1300h15v3h-15zM664 1300h18v3h-18zM574 1303h15v3h-15zM667 1303h15v3h-15zM574 1306h15v3h-15zM667 1306h15v3h-15zM574 1309h15v3h-15zM670 1309h12v3h-12zM574 1312h15v3h-15zM670 1312h12v3h-12zM574 1315h12v3h-12zM673 1315h12v3h-12zM574 1318h12v3h-12zM676 1318h9v3h-9zM571 1321h12v3h-12zM676 1321h12v3h-12zM571 1324h9v3h-9zM679 1324h12v3h-12zM568 1327h12v3h-12zM679 1327h15v3h-15zM568 1330h9v3h-9zM682 1330h15v3h-15zM565 1333h9v3h-9zM685 1333h15v3h-15zM559 1336h12v3h-12zM685 1336h27v3h-27zM526 1339h42v3h-42zM688 1339h33v3h-33zM520 1342h33v3h-33zM694 1342h33v3h-33zM520 1345h12v3h-12zM697 1345h33v3h-33zM517 1348h9v3h-9zM703 1348h30v3h-30zM517 1351h9v3h-9zM709 1351h30v3h-30zM517 1354h6v3h-6zM715 1354h27v3h-27zM517 1357h6v3h-6zM718 1357h27v3h-27zM517 1360h6v3h-6zM721 1360h27v3h-27zM517 1363h6v3h-6zM724 1363h27v3h-27zM520 1366h3v3h-3zM727 1366h24v3h-24zM520 1369h3v3h-3zM730 1369h24v3h-24zM520 1372h3v3h-3zM733 1372h24v3h-24zM520 1375h3v3h-3zM733 1375h24v3h-24zM520 1378h6v3h-6zM736 1378h24v3h-24zM523 1381h3v3h-3zM739 1381h21v3h-21zM523 1384h3v3h-3zM739 1384h21v3h-21zM523 1387h6v3h-6zM739 1387h21v3h-21zM526 1390h3v3h-3zM739 1390h21v3h-21zM526 1393h6v3h-6zM736 1393h27v3h-27zM529 1396h6v3h-6zM727 1396h36v3h-36zM529 1399h6v3h-6zM721 1399h42v3h-42zM529 1402h9v3h-9zM718 1402h45v3h-45zM532 1405h6v3h-6zM718 1405h45v3h-45zM532 1408h9v3h-9zM715 1408h48v3h-48zM532 1411h9v3h-9zM715 1411h51v3h-51zM532 1414h9v3h-9zM715 1414h51v3h-51zM532 1417h9v3h-9zM712 1417h15v3h-15zM754 1417h15v3h-15zM532 1420h9v3h-9zM712 1420h9v3h-9zM760 1420h15v3h-15zM532 1423h9v3h-9zM709 1423h9v3h-9zM763 1423h15v3h-15zM532 1426h9v3h-9zM706 1426h9v3h-9zM763 1426h15v3h-15zM532 1429h9v3h-9zM703 1429h9v3h-9zM766 1429h9v3h-9zM535 1432h9v3h-9zM700 1432h9v3h-9zM766 1432h9v3h-9zM535 1435h9v3h-9zM700 1435h6v3h-6zM766 1435h6v3h-6zM535 1438h9v3h-9zM694 1438h9v3h-9zM769 1438h3v3h-3zM535 1441h12v3h-12zM691 1441h9v3h-9zM535 1444h15v3h-15zM688 1444h9v3h-9zM538 1447h15v3h-15zM685 1447h9v3h-9zM538 1450h21v3h-21zM682 1450h9v3h-9zM541 1453h33v3h-33zM682 1453h6v3h-6zM544 1456h36v3h-36zM679 1456h9v3h-9zM550 1459h36v3h-36zM676 1459h9v3h-9zM556 1462h33v3h-33zM676 1462h9v3h-9zM562 1465h33v3h-33zM676 1465h9v3h-9zM568 1468h33v3h-33zM673 1468h9v3h-9zM574 1471h33v3h-33zM673 1471h9v3h-9zM577 1474h36v3h-36zM673 1474h9v3h-9zM580 1477h39v3h-39zM670 1477h15v3h-15zM583 1480h45v3h-45zM670 1480h15v3h-15zM586 1483h48v3h-48zM670 1483h18v3h-18zM589 1486h54v3h-54zM667 1486h21v3h-21zM592 1489h66v3h-66zM661 1489h30v3h-30zM595 1492h99v3h-99zM598 1495h99v3h-99zM601 1498h99v3h-99zM601 1501h99v3h-99zM598 1504h102v3h-102zM592 1507h99v3h-99zM595 1510h87v3h-87zM604 1513h69v3h-69zM625 1516h27v3h-27z"/>
<path shape-rendering="crispEdges" fill="#0097ff" d="M601 1222h6v3h-6zM604 1225h3v3h-3zM604 1228h3v3h-3zM604 1231h3v3h-3zM604 1234h6v3h-6zM604 1237h6v3h-6zM556 1240h3v3h-3zM604 1240h3v3h-3zM553 1243h6v3h-6zM604 1243h3v3h-3zM553 1246h6v3h-6zM604 1246h3v3h-3zM553 1249h6v3h-6zM601 1249h6v3h-6zM550 1252h9v3h-9zM601 1252h6v3h-6zM550 1255h9v3h-9zM598 1255h6v3h-6zM547 1258h12v3h-12zM595 1258h6v3h-6zM544 1261h18v3h-18zM592 1261h9v3h-9zM526 1264h36v3h-36zM586 1264h12v3h-12zM745 1264h6v3h-6zM523 1267h69v3h-69zM739 1267h9v3h-9zM523 1270h63v3h-63zM736 1270h9v3h-9zM520 1273h60v3h-60zM688 1273h12v3h-12zM736 1273h6v3h-6zM517 1276h57v3h-57zM685 1276h21v3h-21zM733 1276h6v3h-6zM514 1279h30v3h-30zM547 1279h24v3h-24zM685 1279h24v3h-24zM730 1279h9v3h-9zM514 1282h24v3h-24zM553 1282h18v3h-18zM685 1282h27v3h-27zM727 1282h9v3h-9zM511 1285h24v3h-24zM553 1285h18v3h-18zM682 1285h33v3h-33zM724 1285h12v3h-12zM508 1288h24v3h-24zM556 1288h15v3h-15zM682 1288h51v3h-51zM508 1291h21v3h-21zM556 1291h15v3h-15zM682 1291h51v3h-51zM505 1294h21v3h-21zM556 1294h15v3h-15zM682 1294h51v3h-51zM505 1297h21v3h-21zM559 1297h12v3h-12zM682 1297h48v3h-48zM502 1300h21v3h-21zM559 1300h15v3h-15zM682 1300h48v3h-48zM502 1303h21v3h-21zM559 1303h15v3h-15zM682 1303h48v3h-48zM499 1306h24v3h-24zM562 1306h12v3h-12zM682 1306h48v3h-48zM499 1309h24v3h-24zM562 1309h12v3h-12zM682 1309h48v3h-48zM496 1312h27v3h-27zM562 1312h12v3h-12zM682 1312h48v3h-48zM496 1315h27v3h-27zM562 1315h12v3h-12zM685 1315h45v3h-45zM499 1318h24v3h-24zM562 1318h12v3h-12zM685 1318h45v3h-45zM499 1321h27v3h-27zM562 1321h9v3h-9zM688 1321h45v3h-45zM499 1324h27v3h-27zM559 1324h12v3h-12zM691 1324h42v3h-42zM502 1327h27v3h-27zM559 1327h9v3h-9zM694 1327h42v3h-42zM502 1330h33v3h-33zM553 1330h15v3h-15zM697 1330h39v3h-39zM505 1333h60v3h-60zM700 1333h39v3h-39zM505 1336h54v3h-54zM712 1336h30v3h-30zM508 1339h18v3h-18zM721 1339h24v3h-24zM508 1342h12v3h-12zM727 1342h21v3h-21zM511 1345h9v3h-9zM730 1345h18v3h-18zM511 1348h6v3h-6zM733 1348h18v3h-18zM511 1351h6v3h-6zM739 1351h15v3h-15zM514 1354h3v3h-3zM742 1354h15v3h-15zM514 1357h3v3h-3zM745 1357h15v3h-15zM514 1360h3v3h-3zM748 1360h15v3h-15zM514 1363h3v3h-3zM751 1363h12v3h-12zM514 1366h6v3h-6zM751 1366h15v3h-15zM517 1369h3v3h-3zM754 1369h12v3h-12zM517 1372h3v3h-3zM757 1372h12v3h-12zM517 1375h3v3h-3zM757 1375h12v3h-12zM517 1378h3v3h-3zM760 1378h9v3h-9zM520 1381h3v3h-3zM760 1381h9v3h-9zM520 1384h3v3h-3zM760 1384h9v3h-9zM520 1387h3v3h-3zM760 1387h9v3h-9zM520 1390h6v3h-6zM760 1390h9v3h-9zM523 1393h3v3h-3zM763 1393h6v3h-6zM523 1396h6v3h-6zM763 1396h9v3h-9zM523 1399h6v3h-6zM763 1399h9v3h-9zM523 1402h6v3h-6zM763 1402h9v3h-9zM526 1405h6v3h-6zM763 1405h12v3h-12zM526 1408h6v3h-6zM763 1408h15v3h-15zM526 1411h6v3h-6zM766 1411h12v3h-12zM526 1414h6v3h-6zM766 1414h15v3h-15zM526 1417h6v3h-6zM727 1417h27v3h-27zM769 1417h12v3h-12zM526 1420h6v3h-6zM721 1420h39v3h-39zM775 1420h3v3h-3zM526 1423h6v3h-6zM718 1423h45v3h-45zM526 1426h6v3h-6zM715 1426h12v3h-12zM742 1426h21v3h-21zM526 1429h6v3h-6zM712 1429h9v3h-9zM748 1429h18v3h-18zM526 1432h9v3h-9zM709 1432h6v3h-6zM751 1432h15v3h-15zM526 1435h9v3h-9zM706 1435h6v3h-6zM754 1435h12v3h-12zM526 1438h9v3h-9zM703 1438h6v3h-6zM757 1438h12v3h-12zM526 1441h9v3h-9zM700 1441h6v3h-6zM757 1441h12v3h-12zM526 1444h9v3h-9zM697 1444h6v3h-6zM760 1444h9v3h-9zM526 1447h12v3h-12zM694 1447h6v3h-6zM760 1447h6v3h-6zM526 1450h12v3h-12zM691 1450h6v3h-6zM760 1450h3v3h-3zM529 1453h12v3h-12zM688 1453h6v3h-6zM760 1453h3v3h-3zM529 1456h15v3h-15zM688 1456h6v3h-6zM532 1459h18v3h-18zM685 1459h6v3h-6zM535 1462h21v3h-21zM685 1462h6v3h-6zM538 1465h24v3h-24zM685 1465h6v3h-6zM544 1468h24v3h-24zM682 1468h9v3h-9zM550 1471h24v3h-24zM682 1471h9v3h-9zM556 1474h21v3h-21zM682 1474h12v3h-12zM562 1477h18v3h-18zM685 1477h9v3h-9zM565 1480h18v3h-18zM685 1480h9v3h-9zM568 1483h18v3h-18zM688 1483h9v3h-9zM568 1486h21v3h-21zM688 1486h12v3h-12zM571 1489h21v3h-21zM691 1489h12v3h-12zM571 1492h24v3h-24zM694 1492h12v3h-12zM571 1495h27v3h-27zM697 1495h9v3h-9zM574 1498h27v3h-27zM700 1498h9v3h-9zM574 1501h27v3h-27zM700 1501h6v3h-6zM577 1504h21v3h-21zM586 1507h6v3h-6z"/>
<path shape-rendering="crispEdges" fill="#00a7ff" d="M598 1222h3v3h-3zM601 1225h3v3h-3zM601 1228h3v3h-3zM601 1231h3v3h-3zM601 1234h3v3h-3zM559 1237h3v3h-3zM601 1237h3v3h-3zM559 1240h3v3h-3zM601 1240h3v3h-3zM559 1243h3v3h-3zM598 1243h6v3h-6zM559 1246h3v3h-3zM598 1246h6v3h-6zM559 1249h6v3h-6zM598 1249h3v3h-3zM559 1252h6v3h-6zM595 1252h6v3h-6zM559 1255h9v3h-9zM592 1255h6v3h-6zM559 1258h12v3h-12zM586 1258h9v3h-9zM562 1261h30v3h-30zM562 1264h24v3h-24zM748 1267h6v3h-6zM745 1270h6v3h-6zM742 1273h6v3h-6zM739 1276h6v3h-6zM544 1279h3v3h-3zM739 1279h6v3h-6zM538 1282h15v3h-15zM736 1282h6v3h-6zM535 1285h18v3h-18zM736 1285h6v3h-6zM532 1288h24v3h-24zM733 1288h9v3h-9zM529 1291h27v3h-27zM733 1291h6v3h-6zM526 1294h30v3h-30zM733 1294h6v3h-6zM526 1297h33v3h-33zM730 1297h9v3h-9zM523 1300h36v3h-36zM730 1300h9v3h-9zM523 1303h36v3h-36zM730 1303h9v3h-9zM523 1306h39v3h-39zM730 1306h9v3h-9zM523 1309h39v3h-39zM730 1309h12v3h-12zM523 1312h39v3h-39zM730 1312h12v3h-12zM523 1315h39v3h-39zM730 1315h12v3h-12zM496 1318h3v3h-3zM523 1318h39v3h-39zM730 1318h15v3h-15zM493 1321h6v3h-6zM526 1321h36v3h-36zM733 1321h12v3h-12zM493 1324h6v3h-6zM526 1324h33v3h-33zM733 1324h15v3h-15zM493 1327h9v3h-9zM529 1327h30v3h-30zM736 1327h12v3h-12zM496 1330h6v3h-6zM535 1330h18v3h-18zM736 1330h15v3h-15zM496 1333h9v3h-9zM739 1333h12v3h-12zM499 1336h6v3h-6zM742 1336h12v3h-12zM499 1339h9v3h-9zM745 1339h12v3h-12zM502 1342h6v3h-6zM748 1342h12v3h-12zM502 1345h9v3h-9zM748 1345h12v3h-12zM505 1348h6v3h-6zM751 1348h12v3h-12zM505 1351h6v3h-6zM754 1351h12v3h-12zM508 1354h6v3h-6zM757 1354h12v3h-12zM508 1357h6v3h-6zM760 1357h9v3h-9zM511 1360h3v3h-3zM763 1360h9v3h-9zM511 1363h3v3h-3zM763 1363h9v3h-9zM511 1366h3v3h-3zM766 1366h9v3h-9zM511 1369h6v3h-6zM766 1369h9v3h-9zM514 1372h3v3h-3zM769 1372h6v3h-6zM514 1375h3v3h-3zM769 1375h6v3h-6zM514 1378h3v3h-3zM769 1378h6v3h-6zM514 1381h6v3h-6zM769 1381h6v3h-6zM517 1384h3v3h-3zM769 1384h6v3h-6zM517 1387h3v3h-3zM769 1387h6v3h-6zM517 1390h3v3h-3zM769 1390h6v3h-6zM517 1393h6v3h-6zM769 1393h9v3h-9zM517 1396h6v3h-6zM772 1396h6v3h-6zM520 1399h3v3h-3zM772 1399h6v3h-6zM520 1402h3v3h-3zM772 1402h9v3h-9zM520 1405h6v3h-6zM775 1405h6v3h-6zM520 1408h6v3h-6zM778 1408h6v3h-6zM520 1411h6v3h-6zM778 1411h3v3h-3zM517 1414h9v3h-9zM517 1417h9v3h-9zM517 1420h9v3h-9zM517 1423h9v3h-9zM514 1426h12v3h-12zM727 1426h15v3h-15zM514 1429h12v3h-12zM721 1429h27v3h-27zM514 1432h12v3h-12zM715 1432h36v3h-36zM511 1435h15v3h-15zM712 1435h9v3h-9zM742 1435h12v3h-12zM511 1438h15v3h-15zM709 1438h6v3h-6zM745 1438h12v3h-12zM511 1441h15v3h-15zM706 1441h6v3h-6zM748 1441h9v3h-9zM511 1444h15v3h-15zM703 1444h6v3h-6zM751 1444h9v3h-9zM511 1447h15v3h-15zM700 1447h6v3h-6zM751 1447h9v3h-9zM514 1450h12v3h-12zM697 1450h6v3h-6zM754 1450h6v3h-6zM514 1453h15v3h-15zM694 1453h6v3h-6zM754 1453h6v3h-6zM517 1456h12v3h-12zM694 1456h6v3h-6zM754 1456h6v3h-6zM520 1459h12v3h-12zM691 1459h9v3h-9zM754 1459h3v3h-3zM523 1462h12v3h-12zM691 1462h6v3h-6zM526 1465h12v3h-12zM691 1465h6v3h-6zM526 1468h18v3h-18zM691 1468h9v3h-9zM529 1471h21v3h-21zM691 1471h9v3h-9zM532 1474h24v3h-24zM694 1474h6v3h-6zM535 1477h27v3h-27zM694 1477h9v3h-9zM547 1480h18v3h-18zM694 1480h9v3h-9zM553 1483h15v3h-15zM697 1483h9v3h-9zM556 1486h12v3h-12zM700 1486h9v3h-9zM559 1489h12v3h-12zM703 1489h9v3h-9zM559 1492h12v3h-12zM706 1492h9v3h-9zM562 1495h9v3h-9zM706 1495h9v3h-9zM565 1498h9v3h-9zM709 1498h3v3h-3zM571 1501h3v3h-3z"/>
<path shape-rendering="crispEdges" fill="#00b7ff" d="M595 1222h3v3h-3zM595 1225h6v3h-6zM598 1228h3v3h-3zM598 1231h3v3h-3zM598 1234h3v3h-3zM562 1237h3v3h-3zM598 1237h3v3h-3zM562 1240h3v3h-3zM595 1240h6v3h-6zM562 1243h6v3h-6zM595 1243h3v3h-3zM562 1246h6v3h-6zM592 1246h6v3h-6zM565 1249h6v3h-6zM592 1249h6v3h-6zM565 1252h6v3h-6zM586 1252h9v3h-9zM568 1255h24v3h-24zM571 1258h15v3h-15zM751 1270h3v3h-3zM748 1273h6v3h-6zM745 1276h6v3h-6zM745 1279h3v3h-3zM742 1282h6v3h-6zM742 1285h6v3h-6zM742 1288h3v3h-3zM739 1291h6v3h-6zM739 1294h6v3h-6zM739 1297h6v3h-6zM739 1300h9v3h-9zM739 1303h9v3h-9zM739 1306h9v3h-9zM742 1309h6v3h-6zM742 1312h9v3h-9zM742 1315h9v3h-9zM745 1318h9v3h-9zM745 1321h9v3h-9zM748 1324h9v3h-9zM748 1327h9v3h-9zM493 1330h3v3h-3zM751 1330h9v3h-9zM490 1333h6v3h-6zM751 1333h12v3h-12zM493 1336h6v3h-6zM754 1336h9v3h-9zM493 1339h6v3h-6zM757 1339h9v3h-9zM496 1342h6v3h-6zM760 1342h9v3h-9zM496 1345h6v3h-6zM760 1345h9v3h-9zM499 1348h6v3h-6zM763 1348h9v3h-9zM499 1351h6v3h-6zM766 1351h9v3h-9zM502 1354h6v3h-6zM769 1354h6v3h-6zM505 1357h3v3h-3zM769 1357h9v3h-9zM505 1360h6v3h-6zM772 1360h6v3h-6zM508 1363h3v3h-3zM772 1363h9v3h-9zM508 1366h3v3h-3zM775 1366h6v3h-6zM508 1369h3v3h-3zM775 1369h6v3h-6zM511 1372h3v3h-3zM775 1372h6v3h-6zM511 1375h3v3h-3zM775 1375h6v3h-6zM511 1378h3v3h-3zM775 1378h6v3h-6zM511 1381h3v3h-3zM775 1381h6v3h-6zM511 1384h6v3h-6zM775 1384h6v3h-6zM514 1387h3v3h-3zM775 1387h6v3h-6zM514 1390h3v3h-3zM775 1390h6v3h-6zM514 1393h3v3h-3zM778 1393h3v3h-3zM514 1396h3v3h-3zM778 1396h3v3h-3zM514 1399h6v3h-6zM778 1399h6v3h-6zM514 1402h6v3h-6zM781 1402h3v3h-3zM514 1405h6v3h-6zM781 1405h3v3h-3zM514 1408h6v3h-6zM511 1411h9v3h-9zM511 1414h6v3h-6zM508 1417h9v3h-9zM502 1420h15v3h-15zM499 1423h18v3h-18zM499 1426h15v3h-15zM502 1429h12v3h-12zM502 1432h12v3h-12zM505 1435h6v3h-6zM721 1435h21v3h-21zM505 1438h6v3h-6zM715 1438h30v3h-30zM508 1441h3v3h-3zM712 1441h9v3h-9zM736 1441h12v3h-12zM508 1444h3v3h-3zM709 1444h9v3h-9zM742 1444h9v3h-9zM706 1447h6v3h-6zM745 1447h6v3h-6zM703 1450h6v3h-6zM745 1450h9v3h-9zM700 1453h9v3h-9zM745 1453h9v3h-9zM700 1456h6v3h-6zM748 1456h6v3h-6zM700 1459h6v3h-6zM748 1459h6v3h-6zM697 1462h9v3h-9zM748 1462h6v3h-6zM697 1465h9v3h-9zM748 1465h3v3h-3zM700 1468h6v3h-6zM700 1471h6v3h-6zM745 1471h3v3h-3zM700 1474h9v3h-9zM703 1477h6v3h-6zM541 1480h6v3h-6zM703 1480h9v3h-9zM544 1483h9v3h-9zM706 1483h9v3h-9zM547 1486h9v3h-9zM709 1486h12v3h-12zM550 1489h9v3h-9zM712 1489h12v3h-12zM556 1492h3v3h-3zM715 1492h6v3h-6zM559 1495h3v3h-3z"/>
<path shape-rendering="crispEdges" fill="#00c7ff" d="M592 1222h3v3h-3zM592 1225h3v3h-3zM592 1228h6v3h-6zM592 1231h6v3h-6zM565 1234h3v3h-3zM592 1234h6v3h-6zM565 1237h6v3h-6zM592 1237h6v3h-6zM565 1240h6v3h-6zM592 1240h3v3h-3zM568 1243h3v3h-3zM589 1243h6v3h-6zM568 1246h6v3h-6zM586 1246h6v3h-6zM571 1249h21v3h-21zM571 1252h15v3h-15zM754 1273h3v3h-3zM751 1276h6v3h-6zM748 1279h6v3h-6zM748 1282h6v3h-6zM748 1285h6v3h-6zM745 1288h6v3h-6zM745 1291h6v3h-6zM745 1294h6v3h-6zM745 1297h9v3h-9zM748 1300h6v3h-6zM748 1303h6v3h-6zM748 1306h9v3h-9zM748 1309h9v3h-9zM751 1312h9v3h-9zM751 1315h9v3h-9zM754 1318h9v3h-9zM754 1321h9v3h-9zM757 1324h9v3h-9zM757 1327h9v3h-9zM760 1330h9v3h-9zM763 1333h9v3h-9zM490 1336h3v3h-3zM763 1336h9v3h-9zM490 1339h3v3h-3zM766 1339h9v3h-9zM490 1342h6v3h-6zM769 1342h6v3h-6zM490 1345h6v3h-6zM769 1345h9v3h-9zM493 1348h6v3h-6zM772 1348h6v3h-6zM493 1351h6v3h-6zM775 1351h6v3h-6zM496 1354h6v3h-6zM775 1354h9v3h-9zM499 1357h6v3h-6zM778 1357h6v3h-6zM499 1360h6v3h-6zM778 1360h6v3h-6zM502 1363h6v3h-6zM781 1363h6v3h-6zM505 1366h3v3h-3zM781 1366h6v3h-6zM505 1369h3v3h-3zM781 1369h6v3h-6zM505 1372h6v3h-6zM781 1372h6v3h-6zM508 1375h3v3h-3zM781 1375h6v3h-6zM508 1378h3v3h-3zM781 1378h3v3h-3zM508 1381h3v3h-3zM781 1381h3v3h-3zM508 1384h3v3h-3zM781 1384h3v3h-3zM508 1387h6v3h-6zM781 1387h3v3h-3zM508 1390h6v3h-6zM781 1390h3v3h-3zM511 1393h3v3h-3zM781 1393h3v3h-3zM508 1396h6v3h-6zM781 1396h6v3h-6zM508 1399h6v3h-6zM784 1399h3v3h-3zM508 1402h6v3h-6zM508 1405h6v3h-6zM505 1408h9v3h-9zM505 1411h6v3h-6zM499 1414h12v3h-12zM496 1417h12v3h-12zM499 1420h3v3h-3zM721 1441h15v3h-15zM718 1444h24v3h-24zM712 1447h12v3h-12zM733 1447h12v3h-12zM709 1450h9v3h-9zM736 1450h9v3h-9zM709 1453h6v3h-6zM739 1453h6v3h-6zM706 1456h9v3h-9zM739 1456h9v3h-9zM706 1459h6v3h-6zM739 1459h9v3h-9zM706 1462h6v3h-6zM739 1462h9v3h-9zM706 1465h6v3h-6zM739 1465h9v3h-9zM706 1468h9v3h-9zM739 1468h9v3h-9zM706 1471h9v3h-9zM736 1471h9v3h-9zM709 1474h9v3h-9zM736 1474h9v3h-9zM709 1477h15v3h-15zM733 1477h6v3h-6zM712 1480h24v3h-24zM715 1483h18v3h-18zM721 1486h9v3h-9zM724 1489h3v3h-3z"/>
<path shape-rendering="crispEdges" fill="#00d7ff" d="M586 1225h6v3h-6zM586 1228h6v3h-6zM571 1231h3v3h-3zM589 1231h3v3h-3zM568 1234h6v3h-6zM586 1234h6v3h-6zM571 1237h3v3h-3zM586 1237h6v3h-6zM571 1240h6v3h-6zM583 1240h9v3h-9zM571 1243h18v3h-18zM574 1246h12v3h-12zM757 1276h3v3h-3zM754 1279h9v3h-9zM754 1282h6v3h-6zM754 1285h6v3h-6zM751 1288h6v3h-6zM751 1291h6v3h-6zM751 1294h6v3h-6zM754 1297h6v3h-6zM754 1300h6v3h-6zM754 1303h9v3h-9zM757 1306h6v3h-6zM757 1309h9v3h-9zM760 1312h6v3h-6zM760 1315h9v3h-9zM763 1318h9v3h-9zM763 1321h9v3h-9zM766 1324h9v3h-9zM766 1327h9v3h-9zM769 1330h9v3h-9zM772 1333h6v3h-6zM772 1336h9v3h-9zM775 1339h6v3h-6zM775 1342h9v3h-9zM778 1345h6v3h-6zM490 1348h3v3h-3zM778 1348h9v3h-9zM490 1351h3v3h-3zM781 1351h9v3h-9zM490 1354h6v3h-6zM784 1354h6v3h-6zM490 1357h9v3h-9zM784 1357h6v3h-6zM493 1360h6v3h-6zM784 1360h6v3h-6zM496 1363h6v3h-6zM787 1363h3v3h-3zM499 1366h6v3h-6zM787 1366h3v3h-3zM502 1369h3v3h-3zM787 1369h3v3h-3zM502 1372h3v3h-3zM787 1372h3v3h-3zM502 1375h6v3h-6zM787 1375h3v3h-3zM505 1378h3v3h-3zM784 1378h6v3h-6zM505 1381h3v3h-3zM784 1381h6v3h-6zM505 1384h3v3h-3zM784 1384h3v3h-3zM505 1387h3v3h-3zM784 1387h3v3h-3zM505 1390h3v3h-3zM784 1390h3v3h-3zM505 1393h6v3h-6zM784 1393h3v3h-3zM505 1396h3v3h-3zM505 1399h3v3h-3zM505 1402h3v3h-3zM502 1405h6v3h-6zM499 1408h6v3h-6zM493 1411h12v3h-12zM496 1414h3v3h-3zM724 1447h9v3h-9zM718 1450h18v3h-18zM715 1453h24v3h-24zM715 1456h24v3h-24zM712 1459h27v3h-27zM712 1462h27v3h-27zM712 1465h27v3h-27zM715 1468h24v3h-24zM715 1471h21v3h-21zM718 1474h18v3h-18zM724 1477h9v3h-9z"/>
<path shape-rendering="crispEdges" fill="#00e7ff" d="M583 1225h3v3h-3zM577 1228h9v3h-9zM574 1231h15v3h-15zM574 1234h12v3h-12zM574 1237h12v3h-12zM577 1240h6v3h-6zM760 1282h3v3h-3zM760 1285h6v3h-6zM757 1288h9v3h-9zM757 1291h9v3h-9zM757 1294h9v3h-9zM760 1297h9v3h-9zM760 1300h12v3h-12zM763 1303h9v3h-9zM763 1306h12v3h-12zM766 1309h12v3h-12zM766 1312h12v3h-12zM769 1315h12v3h-12zM772 1318h9v3h-9zM772 1321h9v3h-9zM775 1324h6v3h-6zM775 1327h9v3h-9zM778 1330h6v3h-6zM778 1333h6v3h-6zM781 1336h6v3h-6zM781 1339h6v3h-6zM784 1342h3v3h-3zM784 1345h3v3h-3zM490 1360h3v3h-3zM490 1363h6v3h-6zM490 1366h9v3h-9zM496 1369h6v3h-6zM496 1372h6v3h-6zM499 1375h3v3h-3zM499 1378h6v3h-6zM502 1381h3v3h-3zM502 1384h3v3h-3zM502 1387h3v3h-3zM502 1390h3v3h-3zM502 1393h3v3h-3zM502 1396h3v3h-3zM499 1399h6v3h-6zM499 1402h6v3h-6zM496 1405h6v3h-6zM493 1408h6v3h-6z"/>
<path shape-rendering="crispEdges" fill="#00f7ff" d="M766 1288h3v3h-3zM766 1291h3v3h-3zM766 1294h6v3h-6zM769 1297h3v3h-3zM772 1300h3v3h-3zM772 1303h3v3h-3zM775 1306h3v3h-3zM778 1312h3v3h-3zM781 1321h3v3h-3zM781 1324h3v3h-3zM784 1333h3v3h-3zM490 1369h6v3h-6zM490 1372h6v3h-6zM493 1375h6v3h-6zM496 1378h3v3h-3zM496 1381h6v3h-6zM499 1384h3v3h-3zM499 1387h3v3h-3zM499 1390h3v3h-3zM499 1393h3v3h-3zM496 1396h6v3h-6zM496 1399h3v3h-3zM493 1402h6v3h-6zM493 1405h3v3h-3z"/>
<path shape-rendering="crispEdges" fill="#08fff7" d="M490 1375h3v3h-3zM490 1378h6v3h-6zM493 1381h3v3h-3zM493 1384h6v3h-6zM493 1387h6v3h-6zM493 1390h6v3h-6zM493 1393h6v3h-6zM493 1396h3v3h-3zM490 1399h6v3h-6z"/>
<path shape-rendering="crispEdges" fill="#18ffe7" d="M490 1381h3v3h-3zM490 1384h3v3h-3zM490 1387h3v3h-3zM490 1390h3v3h-3zM490 1393h3v3h-3zM490 1396h3v3h-3z"/>
<path fill="none" stroke="#222" stroke-opacity="0.8" stroke-width="0.75" d="M636.7,1394.2 642.4,1392.3 646.7,1388.2 649.4,1382.2 650.4,1374.2 649.4,1365.4 646.4,1358.2 642.4,1353.6 637.4,1351.6 631.9,1353.2 627.4,1358.3 624.6,1366.2 623.4,1377.2 624.2,1385.2 626.4,1390.1 630.4,1393.3 636.7,1394.2M645.3,1428.2 654.4,1423.8 661.1,1416.2 663.9,1407.2 663.5,1395.2 658.5,1367.2 653.1,1352.2 649.4,1346.9 644.4,1342.7 639.4,1340.7 633.4,1340.5 625.2,1344.2 619.4,1352.2 608.2,1390.2 607.4,1398.2 609.2,1404.2 612.3,1409.2 625.4,1421.8 635.4,1427.7 640.4,1428.7 645.3,1428.2M647.2,1443.2 654.4,1440.6 661.4,1436.6 669.4,1430.4 674.4,1425.2 676.8,1421.2 678.3,1416.2 678.0,1404.2 673.1,1384.2 662.6,1354.2 657.4,1343.5 652.4,1337.6 645.7,1333.2 638.4,1331.2 630.4,1331.3 624.4,1332.9 619.4,1335.5 615.4,1339.0 612.5,1343.2 609.8,1350.2 605.1,1369.2 595.1,1390.2 594.4,1400.2 596.9,1408.2 601.4,1415.7 610.4,1426.4 619.6,1435.2 626.4,1439.9 633.4,1442.9 640.4,1444.0 647.2,1443.2M558.5,1383.2 563.4,1380.1 566.3,1375.2 566.7,1370.2 564.7,1365.2 560.4,1361.5 554.4,1359.5 548.4,1359.5 542.4,1362.1 539.7,1365.2 538.6,1369.2 539.4,1373.9 541.8,1378.2 545.4,1381.5 549.4,1383.5 554.4,1384.1 558.5,1383.2M754.8,1243.2 761.4,1240.2 765.4,1236.2 767.4,1230.2 765.5,1226.2 760.4,1224.2 750.4,1223.8 742.8,1225.2 738.4,1228.1 736.7,1231.2 736.4,1234.2 737.4,1237.8 739.4,1240.6 742.4,1242.6 746.4,1243.7 754.8,1243.2M645.5,1457.2 652.4,1455.3 659.4,1451.8 678.1,1437.2 688.0,1427.2 690.2,1423.2 691.4,1418.2 690.8,1409.2 683.5,1375.2 665.4,1339.2 657.4,1329.3 648.4,1324.0 636.4,1321.7 623.4,1322.6 612.4,1326.5 605.6,1331.2 600.5,1337.2 597.4,1344.2 592.6,1362.2 589.4,1366.6 586.4,1368.3 582.4,1367.0 572.4,1357.2 561.4,1353.2 553.4,1352.5 545.4,1353.2 539.4,1355.2 534.4,1359.2 531.6,1365.2 531.8,1373.2 535.1,1381.2 540.4,1387.7 546.4,1391.9 552.4,1394.3 559.4,1395.3 571.4,1395.2 575.4,1396.7 578.4,1400.1 585.3,1413.2 591.4,1422.2 602.7,1436.2 611.4,1444.9 619.4,1450.8 628.4,1455.2 637.4,1457.3 645.5,1457.2M613.7,1219.2 616.4,1226.2 617.8,1237.2 617.0,1272.2 619.4,1275.9 624.4,1276.7 634.4,1275.7 643.4,1273.6 648.4,1271.0 652.7,1266.2 655.4,1258.8 656.9,1248.2 657.1,1232.2 656.0,1219.2M714.8,1219.2 711.9,1225.2 710.7,1230.2 710.9,1235.2 712.6,1241.2 716.1,1248.2 720.4,1253.7 724.4,1256.5 729.4,1257.5 750.4,1253.1 764.4,1247.3 768.4,1244.1 772.2,1239.2 779.0,1223.2 781.6,1221.2 786.4,1220.3M652.5,1474.2 657.4,1472.4 662.4,1468.8 676.0,1452.2 695.7,1433.2 702.0,1425.2 704.5,1419.2 705.5,1413.2 703.3,1397.2 703.5,1392.2 708.9,1374.2 708.6,1369.2 706.0,1364.2 702.0,1360.2 690.4,1352.2 684.4,1346.8 669.4,1324.6 664.4,1318.7 657.4,1313.6 647.4,1310.7 623.4,1309.0 611.4,1310.2 603.4,1313.6 596.4,1318.8 590.3,1325.2 580.4,1338.5 575.4,1342.7 567.4,1345.1 539.4,1348.1 533.5,1350.2 529.5,1353.2 526.5,1358.2 525.2,1364.2 525.5,1371.2 527.2,1378.2 532.4,1389.0 547.0,1408.2 549.6,1414.2 552.7,1426.2 555.4,1430.8 560.4,1433.8 572.4,1434.8 578.4,1436.9 601.5,1457.2 620.4,1468.2 638.4,1474.0 646.4,1474.8 652.5,1474.2M517.8,1219.2 521.9,1227.2 525.4,1247.2 527.7,1254.2 531.4,1258.5 538.4,1260.2 542.4,1259.5 546.4,1257.4 550.4,1250.7 552.3,1234.2 550.7,1219.2M604.9,1219.2 607.8,1225.2 609.3,1233.2 609.1,1242.2 607.3,1251.2 603.7,1259.2 598.4,1265.5 592.4,1269.8 578.1,1277.2 573.3,1282.2 572.2,1290.2 576.5,1305.2 577.0,1311.2 575.0,1320.2 570.7,1329.2 565.4,1334.9 558.4,1338.3 549.4,1340.0 530.4,1341.4 524.4,1343.1 520.4,1347.9 519.0,1356.2 519.3,1366.2 521.1,1376.2 524.1,1386.2 532.6,1407.2 534.2,1415.2 536.1,1438.2 538.1,1445.2 541.4,1451.2 549.4,1457.9 572.5,1468.2 593.4,1484.3 617.5,1494.2 624.0,1499.2 626.7,1503.2 626.4,1506.3 621.5,1509.2 600.4,1512.5 592.8,1515.2M699.4,1515.2 700.5,1510.2 699.2,1504.2 696.0,1499.2 685.6,1487.2 682.0,1479.2 681.3,1469.2 684.5,1458.2 693.6,1446.2 724.4,1416.6 733.4,1413.0 752.4,1412.6 757.1,1411.2 759.1,1406.2 759.1,1394.2 757.7,1384.2 754.8,1376.2 750.4,1369.4 742.6,1361.2 725.4,1346.5 718.4,1342.9 698.4,1335.8 692.4,1331.3 687.3,1325.2 681.3,1314.2 678.4,1304.2 678.3,1293.2 681.1,1280.2 683.4,1274.0 686.4,1269.4 689.4,1267.3 693.4,1266.7 700.4,1269.5 716.4,1283.1 720.4,1284.1 724.4,1283.1 741.4,1265.9 748.4,1261.7 764.4,1254.2 771.4,1249.2 776.4,1242.3 782.7,1228.2 786.4,1224.3M776.6,1440.2 780.4,1436.2 781.3,1433.2 780.9,1430.2 776.9,1426.2 771.1,1425.2 769.1,1428.2 770.4,1435.1 773.4,1439.8 776.6,1440.2M597.8,1219.2 601.3,1225.2 602.9,1233.2 602.3,1242.2 599.5,1250.2 595.4,1256.2 589.4,1261.1 582.4,1264.1 575.4,1265.1 570.4,1264.5 566.4,1262.7 561.9,1256.2 559.3,1240.2 559.5,1219.2M786.4,1416.3 778.8,1408.2 774.5,1400.2 772.7,1392.2 770.9,1373.2 768.4,1365.2 764.2,1358.2 748.2,1338.2 740.2,1326.2 735.7,1316.2 734.4,1306.2 737.0,1289.2 742.7,1276.2 751.4,1267.6 769.4,1257.8 775.2,1253.2 779.4,1246.6 786.4,1229.5M503.4,1242.4 501.0,1241.2 499.6,1237.2 500.4,1232.2 502.4,1230.9 505.4,1232.7 506.5,1236.2 505.8,1240.2 503.4,1242.4M546.4,1329.2 541.4,1328.6 536.4,1326.1 533.1,1322.2 531.3,1316.2 531.7,1310.2 534.5,1303.2 539.0,1297.2 543.4,1295.0 546.4,1295.9 549.4,1299.2 555.1,1310.2 556.8,1316.2 556.5,1321.2 554.5,1325.2 550.6,1328.2 546.4,1329.2M490.4,1314.7 495.1,1322.2 510.0,1353.2 520.6,1396.2 522.5,1412.2 520.6,1443.2 523.0,1457.2 525.7,1462.2 530.4,1466.8 554.2,1478.2 559.5,1482.2 563.8,1487.2 567.1,1494.2 568.3,1502.2 566.9,1509.2 562.9,1515.2M490.4,1452.9 493.7,1445.2 494.7,1439.2 493.8,1433.2 490.4,1427.5M711.7,1515.2 714.0,1508.2 713.4,1502.2 710.4,1496.2 700.2,1483.2 696.2,1476.2 694.1,1468.2 694.6,1461.2 696.5,1456.2 699.7,1451.2 710.4,1440.2 722.4,1431.9 732.4,1429.0 739.4,1429.8 745.4,1432.5 750.5,1437.2 754.6,1444.2 758.1,1456.2 758.5,1484.2 759.4,1489.2 761.6,1494.2 768.6,1501.2 786.4,1511.6M786.4,1491.8 783.9,1470.2 784.6,1461.2 786.4,1453.3M590.1,1219.2 593.9,1223.2 596.2,1228.2 596.9,1234.2 595.9,1241.2 593.4,1246.8 589.4,1251.5 584.4,1254.6 579.4,1255.6 575.4,1255.0 571.4,1252.5 568.8,1249.2 566.7,1244.2 564.9,1230.2 565.7,1224.2 567.8,1219.2M786.4,1406.0 783.1,1400.2 781.1,1393.2 780.8,1370.2 779.2,1362.2 774.8,1353.2 760.2,1331.2 752.2,1317.2 747.5,1305.2 746.0,1294.2 747.9,1283.2 752.8,1275.2 760.4,1269.2 775.6,1261.2 779.8,1257.2 782.7,1251.2 786.4,1237.1M490.4,1332.0 495.3,1344.2 503.8,1358.2 507.8,1367.2 512.0,1384.2 513.7,1399.2 511.9,1411.2 507.4,1418.8 504.4,1420.8 500.4,1421.6 490.4,1419.7M734.4,1492.4 731.4,1493.2 727.4,1492.3 716.4,1484.7 708.4,1475.4 705.0,1466.2 705.9,1458.2 710.1,1451.2 718.4,1444.1 727.4,1440.4 734.4,1440.9 740.2,1444.2 744.4,1449.7 746.8,1457.2 746.8,1467.2 744.3,1477.2 739.4,1487.4 734.4,1492.4M540.4,1502.2 539.9,1501.2 541.4,1501.0 541.4,1502.0 540.4,1502.2M722.8,1515.2 731.4,1507.4 737.4,1505.3 747.4,1507.7 763.8,1515.2M581.4,1245.4 578.4,1245.2 575.4,1243.2 573.0,1239.2 571.8,1234.2 571.9,1229.2 573.3,1225.2 575.4,1222.9 578.4,1221.7 582.4,1222.1 586.0,1224.2 588.3,1227.2 589.7,1231.2 589.5,1236.2 588.0,1240.2 585.4,1243.5 581.4,1245.4M786.4,1356.6 758.6,1304.2 756.1,1297.2 755.3,1291.2 756.5,1284.2 760.4,1278.0 767.4,1273.1 776.4,1270.5 780.4,1271.1 782.4,1273.0 786.4,1288.3M490.4,1353.0 499.4,1365.0 502.8,1371.2 506.0,1382.2 507.1,1393.2 506.1,1401.2 502.7,1408.2 497.4,1412.4 490.4,1414.0M729.4,1470.2 726.4,1471.1 723.4,1470.4 720.4,1467.8 718.8,1464.2 718.8,1460.2 720.2,1457.2 725.4,1453.8 730.4,1454.6 733.5,1459.2 733.1,1465.2 729.4,1470.2M776.4,1300.1 773.4,1298.9 770.0,1294.2 769.4,1289.8 771.4,1286.9 774.4,1287.5 776.4,1290.9 777.5,1297.2 776.4,1300.1M786.4,1334.6 783.8,1324.2 782.7,1315.2 783.4,1311.7 786.4,1311.1M490.4,1368.3 494.4,1371.4 497.7,1376.2 500.2,1383.2 501.1,1390.2 500.5,1396.2 498.4,1401.6 495.4,1405.3 490.4,1408.4M490.4,1378.9 493.7,1384.2 494.8,1391.2 493.6,1397.2 490.4,1401.8"/>
</g>
<circle cx="638.4" cy="1367.2" r="137.5" fill="none" stroke="#000" stroke-width="1.7"/>
<path d="M613.9,1231.5L632.4,1211.7Q638.4,1208.7 644.4,1211.7L662.9,1231.5" fill="none" stroke="#000" stroke-width="1.4"/>
<polyline points="502.7,1341.0 497.4,1335.3 493.5,1335.0 491.3,1336.3 488.5,1341.0 488.8,1365.1 487.2,1393.1 490.7,1402.6 497.4,1405.8 504.3,1400.7" fill="none" stroke="#000" stroke-width="1.4"/><polyline points="774.1,1341.0 779.4,1335.3 783.3,1335.0 785.5,1336.3 788.3,1341.0 788.0,1365.1 789.6,1393.1 786.1,1402.6 779.4,1405.8 772.5,1400.7" fill="none" stroke="#000" stroke-width="1.4"/>
<circle cx="1132.9" cy="1366.8" r="159" fill="#ebf2fc"/>
<polygon points="997.2,1340.6 991.9,1334.9 988.0,1334.6 985.8,1335.9 983.0,1340.6 983.3,1364.7 981.7,1392.7 985.2,1402.2 991.9,1405.4 998.8,1400.3" fill="#fff"/><polygon points="1268.6,1340.6 1273.9,1334.9 1277.8,1334.6 1280.0,1335.9 1282.8,1340.6 1282.5,1364.7 1284.1,1392.7 1280.6,1402.2 1273.9,1405.4 1267.0,1400.3" fill="#fff"/>
<clipPath id="cp2"><circle cx="1132.9" cy="1366.8" r="149.5"/></clipPath>
<g clip-path="url(#cp2)">
<path shape-rendering="crispEdges" fill="#0000e7" d="M1189 1378h12v3h-12zM1186 1381h18v3h-18zM1186 1384h21v3h-21zM1186 1387h21v3h-21zM1186 1390h18v3h-18zM1189 1393h12v3h-12z"/>
<path shape-rendering="crispEdges" fill="#0000f7" d="M1189 1360h15v3h-15zM1186 1363h21v3h-21zM1183 1366h27v3h-27zM1180 1369h33v3h-33zM1177 1372h39v3h-39zM1174 1375h42v3h-42zM1174 1378h15v3h-15zM1201 1378h18v3h-18zM1171 1381h15v3h-15zM1204 1381h15v3h-15zM1171 1384h15v3h-15zM1207 1384h12v3h-12zM1171 1387h15v3h-15zM1207 1387h12v3h-12zM1171 1390h15v3h-15zM1204 1390h15v3h-15zM1171 1393h18v3h-18zM1201 1393h18v3h-18zM1174 1396h42v3h-42zM1177 1399h36v3h-36zM1186 1402h24v3h-24z"/>
<path shape-rendering="crispEdges" fill="#0008ff" d="M1180 1345h24v3h-24zM1177 1348h30v3h-30zM1174 1351h39v3h-39zM1174 1354h39v3h-39zM1171 1357h45v3h-45zM1171 1360h18v3h-18zM1204 1360h15v3h-15zM1171 1363h15v3h-15zM1207 1363h15v3h-15zM1168 1366h15v3h-15zM1210 1366h12v3h-12zM1168 1369h12v3h-12zM1213 1369h12v3h-12zM1165 1372h12v3h-12zM1216 1372h9v3h-9zM1165 1375h9v3h-9zM1216 1375h9v3h-9zM1162 1378h12v3h-12zM1219 1378h9v3h-9zM1162 1381h9v3h-9zM1219 1381h9v3h-9zM1162 1384h9v3h-9zM1219 1384h9v3h-9zM1162 1387h9v3h-9zM1219 1387h9v3h-9zM1162 1390h9v3h-9zM1219 1390h9v3h-9zM1162 1393h9v3h-9zM1219 1393h9v3h-9zM1162 1396h12v3h-12zM1216 1396h12v3h-12zM1165 1399h12v3h-12zM1213 1399h12v3h-12zM1168 1402h18v3h-18zM1210 1402h15v3h-15zM1171 1405h51v3h-51zM1180 1408h36v3h-36zM1198 1411h6v3h-6z"/>
<path shape-rendering="crispEdges" fill="#0018ff" d="M1183 1333h21v3h-21zM1174 1336h36v3h-36zM1168 1339h45v3h-45zM1165 1342h51v3h-51zM1165 1345h15v3h-15zM1204 1345h15v3h-15zM1162 1348h15v3h-15zM1207 1348h15v3h-15zM1162 1351h12v3h-12zM1213 1351h9v3h-9zM1159 1354h15v3h-15zM1213 1354h12v3h-12zM1159 1357h12v3h-12zM1216 1357h9v3h-9zM1159 1360h12v3h-12zM1219 1360h9v3h-9zM1159 1363h12v3h-12zM1222 1363h6v3h-6zM1159 1366h9v3h-9zM1222 1366h9v3h-9zM1156 1369h12v3h-12zM1225 1369h6v3h-6zM1156 1372h9v3h-9zM1225 1372h6v3h-6zM1153 1375h12v3h-12zM1225 1375h9v3h-9zM1153 1378h9v3h-9zM1228 1378h6v3h-6zM1153 1381h9v3h-9zM1228 1381h6v3h-6zM1153 1384h9v3h-9zM1228 1384h6v3h-6zM1153 1387h9v3h-9zM1228 1387h9v3h-9zM1150 1390h12v3h-12zM1228 1390h9v3h-9zM1150 1393h12v3h-12zM1228 1393h9v3h-9zM1150 1396h12v3h-12zM1228 1396h6v3h-6zM1153 1399h12v3h-12zM1225 1399h9v3h-9zM1153 1402h15v3h-15zM1225 1402h9v3h-9zM1156 1405h15v3h-15zM1222 1405h9v3h-9zM1159 1408h21v3h-21zM1216 1408h12v3h-12zM1165 1411h33v3h-33zM1204 1411h24v3h-24zM1174 1414h48v3h-48zM1192 1417h24v3h-24z"/>
<path shape-rendering="crispEdges" fill="#0028ff" d="M1195 1324h12v3h-12zM1177 1327h39v3h-39zM1171 1330h48v3h-48zM1165 1333h18v3h-18zM1204 1333h18v3h-18zM1159 1336h15v3h-15zM1210 1336h12v3h-12zM1156 1339h12v3h-12zM1213 1339h12v3h-12zM1156 1342h9v3h-9zM1216 1342h9v3h-9zM1153 1345h12v3h-12zM1219 1345h9v3h-9zM1153 1348h9v3h-9zM1222 1348h6v3h-6zM1150 1351h12v3h-12zM1222 1351h9v3h-9zM1150 1354h9v3h-9zM1225 1354h6v3h-6zM1150 1357h9v3h-9zM1225 1357h9v3h-9zM1147 1360h12v3h-12zM1228 1360h6v3h-6zM1147 1363h12v3h-12zM1228 1363h6v3h-6zM1147 1366h12v3h-12zM1231 1366h6v3h-6zM1147 1369h9v3h-9zM1231 1369h6v3h-6zM1144 1372h12v3h-12zM1231 1372h6v3h-6zM1144 1375h9v3h-9zM1234 1375h6v3h-6zM1144 1378h9v3h-9zM1234 1378h6v3h-6zM1042 1381h3v3h-3zM1144 1381h9v3h-9zM1234 1381h6v3h-6zM1036 1384h12v3h-12zM1141 1384h12v3h-12zM1234 1384h6v3h-6zM1033 1387h15v3h-15zM1141 1387h12v3h-12zM1237 1387h6v3h-6zM1030 1390h18v3h-18zM1141 1390h9v3h-9zM1237 1390h6v3h-6zM1027 1393h18v3h-18zM1141 1393h9v3h-9zM1237 1393h6v3h-6zM1027 1396h18v3h-18zM1138 1396h12v3h-12zM1234 1396h9v3h-9zM1027 1399h15v3h-15zM1138 1399h15v3h-15zM1234 1399h6v3h-6zM1030 1402h9v3h-9zM1135 1402h18v3h-18zM1234 1402h6v3h-6zM1132 1405h24v3h-24zM1231 1405h9v3h-9zM1126 1408h33v3h-33zM1228 1408h9v3h-9zM1117 1411h48v3h-48zM1228 1411h9v3h-9zM1111 1414h63v3h-63zM1222 1414h12v3h-12zM1105 1417h87v3h-87zM1216 1417h15v3h-15zM1105 1420h126v3h-126zM1102 1423h123v3h-123zM1102 1426h66v3h-66zM1195 1426h24v3h-24zM1099 1429h66v3h-66zM1099 1432h69v3h-69zM1099 1435h69v3h-69zM1099 1438h72v3h-72zM1099 1441h75v3h-75zM1099 1444h78v3h-78zM1102 1447h78v3h-78zM1102 1450h78v3h-78zM1102 1453h81v3h-81zM1102 1456h81v3h-81zM1102 1459h81v3h-81zM1102 1462h81v3h-81zM1102 1465h81v3h-81zM1102 1468h78v3h-78zM1099 1471h78v3h-78zM1099 1474h69v3h-69zM1099 1477h45v3h-45zM1099 1480h42v3h-42zM1096 1483h42v3h-42zM1096 1486h42v3h-42zM1096 1489h39v3h-39zM1054 1492h36v3h-36zM1102 1492h33v3h-33zM1057 1495h33v3h-33zM1114 1495h18v3h-18zM1060 1498h27v3h-27zM1066 1501h18v3h-18zM1072 1504h9v3h-9z"/>
<path shape-rendering="crispEdges" fill="#0038ff" d="M1192 1318h27v3h-27zM1180 1321h42v3h-42zM1168 1324h27v3h-27zM1207 1324h18v3h-18zM1162 1327h15v3h-15zM1216 1327h12v3h-12zM1156 1330h15v3h-15zM1219 1330h9v3h-9zM1153 1333h12v3h-12zM1222 1333h9v3h-9zM1150 1336h9v3h-9zM1222 1336h9v3h-9zM1147 1339h9v3h-9zM1225 1339h6v3h-6zM1147 1342h9v3h-9zM1225 1342h9v3h-9zM1144 1345h9v3h-9zM1228 1345h6v3h-6zM1144 1348h9v3h-9zM1228 1348h6v3h-6zM1141 1351h9v3h-9zM1231 1351h6v3h-6zM1141 1354h9v3h-9zM1231 1354h6v3h-6zM1138 1357h12v3h-12zM1234 1357h6v3h-6zM1138 1360h9v3h-9zM1234 1360h6v3h-6zM1135 1363h12v3h-12zM1234 1363h6v3h-6zM1135 1366h12v3h-12zM1237 1366h3v3h-3zM1132 1369h15v3h-15zM1237 1369h6v3h-6zM1042 1372h9v3h-9zM1132 1372h12v3h-12zM1237 1372h6v3h-6zM1036 1375h21v3h-21zM1132 1375h12v3h-12zM1240 1375h3v3h-3zM1033 1378h24v3h-24zM1132 1378h12v3h-12zM1240 1378h6v3h-6zM1030 1381h12v3h-12zM1045 1381h15v3h-15zM1129 1381h15v3h-15zM1240 1381h6v3h-6zM1027 1384h9v3h-9zM1048 1384h12v3h-12zM1129 1384h12v3h-12zM1240 1384h6v3h-6zM1024 1387h9v3h-9zM1048 1387h12v3h-12zM1129 1387h12v3h-12zM1243 1387h3v3h-3zM1021 1390h9v3h-9zM1048 1390h9v3h-9zM1126 1390h15v3h-15zM1243 1390h3v3h-3zM1018 1393h9v3h-9zM1045 1393h12v3h-12zM1126 1393h15v3h-15zM1243 1393h3v3h-3zM1018 1396h9v3h-9zM1045 1396h12v3h-12zM1123 1396h15v3h-15zM1243 1396h3v3h-3zM1018 1399h9v3h-9zM1042 1399h12v3h-12zM1117 1399h21v3h-21zM1240 1399h6v3h-6zM1018 1402h12v3h-12zM1039 1402h15v3h-15zM1111 1402h24v3h-24zM1240 1402h6v3h-6zM1018 1405h33v3h-33zM1105 1405h27v3h-27zM1240 1405h6v3h-6zM1021 1408h27v3h-27zM1102 1408h24v3h-24zM1237 1408h9v3h-9zM1024 1411h21v3h-21zM1099 1411h18v3h-18zM1237 1411h9v3h-9zM1027 1414h15v3h-15zM1096 1414h15v3h-15zM1234 1414h9v3h-9zM1096 1417h9v3h-9zM1231 1417h12v3h-12zM1093 1420h12v3h-12zM1231 1420h9v3h-9zM1093 1423h9v3h-9zM1225 1423h15v3h-15zM1093 1426h9v3h-9zM1168 1426h27v3h-27zM1219 1426h21v3h-21zM1093 1429h6v3h-6zM1165 1429h72v3h-72zM1093 1432h6v3h-6zM1168 1432h69v3h-69zM1093 1435h6v3h-6zM1168 1435h69v3h-69zM1093 1438h6v3h-6zM1171 1438h63v3h-63zM1093 1441h6v3h-6zM1174 1441h57v3h-57zM1261 1441h3v3h-3zM1093 1444h6v3h-6zM1177 1444h39v3h-39zM1243 1444h18v3h-18zM1093 1447h9v3h-9zM1180 1447h27v3h-27zM1234 1447h27v3h-27zM1093 1450h9v3h-9zM1180 1450h24v3h-24zM1234 1450h24v3h-24zM1093 1453h9v3h-9zM1183 1453h21v3h-21zM1231 1453h24v3h-24zM1093 1456h9v3h-9zM1183 1456h21v3h-21zM1231 1456h24v3h-24zM1090 1459h12v3h-12zM1183 1459h24v3h-24zM1231 1459h21v3h-21zM1090 1462h12v3h-12zM1183 1462h24v3h-24zM1228 1462h21v3h-21zM1090 1465h12v3h-12zM1183 1465h27v3h-27zM1225 1465h21v3h-21zM1087 1468h15v3h-15zM1180 1468h63v3h-63zM1084 1471h15v3h-15zM1177 1471h63v3h-63zM1027 1474h6v3h-6zM1081 1474h18v3h-18zM1168 1474h69v3h-69zM1030 1477h15v3h-15zM1078 1477h21v3h-21zM1144 1477h90v3h-90zM1036 1480h63v3h-63zM1141 1480h90v3h-90zM1039 1483h57v3h-57zM1138 1483h90v3h-90zM1042 1486h54v3h-54zM1138 1486h87v3h-87zM1045 1489h51v3h-51zM1135 1489h84v3h-84zM1051 1492h3v3h-3zM1090 1492h12v3h-12zM1135 1492h27v3h-27zM1174 1492h42v3h-42zM1090 1495h24v3h-24zM1132 1495h24v3h-24zM1180 1495h30v3h-30zM1087 1498h66v3h-66zM1183 1498h21v3h-21zM1084 1501h69v3h-69zM1186 1501h12v3h-12zM1081 1504h69v3h-69zM1189 1504h3v3h-3zM1081 1507h66v3h-66zM1090 1510h54v3h-54z"/>
<path shape-rendering="crispEdges" fill="#0048ff" d="M1204 1309h18v3h-18zM1192 1312h33v3h-33zM1180 1315h48v3h-48zM1171 1318h21v3h-21zM1219 1318h12v3h-12zM1162 1321h18v3h-18zM1222 1321h9v3h-9zM1156 1324h12v3h-12zM1225 1324h9v3h-9zM1153 1327h9v3h-9zM1228 1327h6v3h-6zM1147 1330h9v3h-9zM1228 1330h9v3h-9zM1144 1333h9v3h-9zM1231 1333h6v3h-6zM1141 1336h9v3h-9zM1231 1336h6v3h-6zM1138 1339h9v3h-9zM1231 1339h9v3h-9zM1138 1342h9v3h-9zM1234 1342h6v3h-6zM1135 1345h9v3h-9zM1234 1345h6v3h-6zM1132 1348h12v3h-12zM1234 1348h6v3h-6zM1129 1351h12v3h-12zM1237 1351h6v3h-6zM1126 1354h15v3h-15zM1237 1354h6v3h-6zM1123 1357h15v3h-15zM1240 1357h3v3h-3zM1120 1360h18v3h-18zM1240 1360h6v3h-6zM1117 1363h18v3h-18zM1240 1363h6v3h-6zM1048 1366h3v3h-3zM1114 1366h21v3h-21zM1240 1366h6v3h-6zM1039 1369h21v3h-21zM1111 1369h21v3h-21zM1243 1369h3v3h-3zM1033 1372h9v3h-9zM1051 1372h15v3h-15zM1111 1372h21v3h-21zM1243 1372h6v3h-6zM1030 1375h6v3h-6zM1057 1375h9v3h-9zM1108 1375h24v3h-24zM1243 1375h6v3h-6zM1027 1378h6v3h-6zM1057 1378h12v3h-12zM1108 1378h24v3h-24zM1246 1378h3v3h-3zM1024 1381h6v3h-6zM1060 1381h9v3h-9zM1108 1381h21v3h-21zM1246 1381h3v3h-3zM1021 1384h6v3h-6zM1060 1384h9v3h-9zM1105 1384h24v3h-24zM1246 1384h3v3h-3zM1018 1387h6v3h-6zM1060 1387h9v3h-9zM1105 1387h24v3h-24zM1246 1387h6v3h-6zM1015 1390h6v3h-6zM1057 1390h12v3h-12zM1102 1390h24v3h-24zM1246 1390h6v3h-6zM1015 1393h3v3h-3zM1057 1393h9v3h-9zM1099 1393h27v3h-27zM1246 1393h6v3h-6zM1012 1396h6v3h-6zM1057 1396h9v3h-9zM1096 1396h27v3h-27zM1246 1396h6v3h-6zM1012 1399h6v3h-6zM1054 1399h12v3h-12zM1096 1399h21v3h-21zM1246 1399h6v3h-6zM1012 1402h6v3h-6zM1054 1402h9v3h-9zM1093 1402h18v3h-18zM1246 1402h6v3h-6zM1012 1405h6v3h-6zM1051 1405h12v3h-12zM1090 1405h15v3h-15zM1246 1405h6v3h-6zM1012 1408h9v3h-9zM1048 1408h12v3h-12zM1090 1408h12v3h-12zM1246 1408h6v3h-6zM1012 1411h12v3h-12zM1045 1411h15v3h-15zM1087 1411h12v3h-12zM1246 1411h6v3h-6zM1012 1414h15v3h-15zM1042 1414h15v3h-15zM1087 1414h9v3h-9zM1243 1414h9v3h-9zM1015 1417h39v3h-39zM1087 1417h9v3h-9zM1243 1417h9v3h-9zM1018 1420h33v3h-33zM1087 1420h6v3h-6zM1240 1420h12v3h-12zM1021 1423h27v3h-27zM1087 1423h6v3h-6zM1240 1423h15v3h-15zM1027 1426h18v3h-18zM1087 1426h6v3h-6zM1240 1426h15v3h-15zM1033 1429h6v3h-6zM1087 1429h6v3h-6zM1237 1429h33v3h-33zM1087 1432h6v3h-6zM1237 1432h30v3h-30zM1087 1435h6v3h-6zM1237 1435h30v3h-30zM1087 1438h6v3h-6zM1234 1438h30v3h-30zM1087 1441h6v3h-6zM1231 1441h30v3h-30zM1087 1444h6v3h-6zM1216 1444h27v3h-27zM1084 1447h9v3h-9zM1207 1447h27v3h-27zM1009 1450h9v3h-9zM1084 1450h9v3h-9zM1204 1450h30v3h-30zM1009 1453h21v3h-21zM1084 1453h9v3h-9zM1204 1453h27v3h-27zM1012 1456h21v3h-21zM1084 1456h9v3h-9zM1204 1456h27v3h-27zM1015 1459h24v3h-24zM1081 1459h9v3h-9zM1207 1459h24v3h-24zM1018 1462h24v3h-24zM1081 1462h9v3h-9zM1207 1462h21v3h-21zM1018 1465h30v3h-30zM1078 1465h12v3h-12zM1210 1465h15v3h-15zM1021 1468h33v3h-33zM1072 1468h15v3h-15zM1024 1471h60v3h-60zM1033 1474h48v3h-48zM1045 1477h33v3h-33zM1162 1492h12v3h-12zM1156 1495h24v3h-24zM1153 1498h30v3h-30zM1153 1501h33v3h-33zM1150 1504h39v3h-39zM1147 1507h39v3h-39zM1144 1510h33v3h-33zM1102 1513h63v3h-63zM1123 1516h18v3h-18z"/>
<path shape-rendering="crispEdges" fill="#0058ff" d="M1201 1303h24v3h-24zM1192 1306h39v3h-39zM1183 1309h21v3h-21zM1222 1309h12v3h-12zM1174 1312h18v3h-18zM1225 1312h12v3h-12zM1165 1315h15v3h-15zM1228 1315h9v3h-9zM1159 1318h12v3h-12zM1231 1318h9v3h-9zM1153 1321h9v3h-9zM1231 1321h9v3h-9zM1147 1324h9v3h-9zM1234 1324h6v3h-6zM1144 1327h9v3h-9zM1234 1327h6v3h-6zM1138 1330h9v3h-9zM1237 1330h6v3h-6zM1135 1333h9v3h-9zM1237 1333h6v3h-6zM1132 1336h9v3h-9zM1237 1336h6v3h-6zM1129 1339h9v3h-9zM1240 1339h3v3h-3zM1126 1342h12v3h-12zM1240 1342h6v3h-6zM1123 1345h12v3h-12zM1240 1345h6v3h-6zM1117 1348h15v3h-15zM1240 1348h6v3h-6zM1111 1351h18v3h-18zM1243 1351h3v3h-3zM1105 1354h21v3h-21zM1243 1354h6v3h-6zM1099 1357h24v3h-24zM1243 1357h6v3h-6zM1096 1360h24v3h-24zM1246 1360h3v3h-3zM1045 1363h21v3h-21zM1090 1363h27v3h-27zM1246 1363h3v3h-3zM1036 1366h12v3h-12zM1051 1366h21v3h-21zM1087 1366h27v3h-27zM1246 1366h6v3h-6zM1030 1369h9v3h-9zM1060 1369h51v3h-51zM1246 1369h6v3h-6zM1027 1372h6v3h-6zM1066 1372h45v3h-45zM1249 1372h3v3h-3zM1024 1375h6v3h-6zM1066 1375h42v3h-42zM1249 1375h3v3h-3zM1021 1378h6v3h-6zM1069 1378h39v3h-39zM1249 1378h3v3h-3zM1018 1381h6v3h-6zM1069 1381h39v3h-39zM1249 1381h6v3h-6zM1015 1384h6v3h-6zM1069 1384h36v3h-36zM1249 1384h6v3h-6zM1012 1387h6v3h-6zM1069 1387h36v3h-36zM1252 1387h3v3h-3zM1012 1390h3v3h-3zM1069 1390h33v3h-33zM1252 1390h3v3h-3zM1009 1393h6v3h-6zM1066 1393h33v3h-33zM1252 1393h3v3h-3zM1009 1396h3v3h-3zM1066 1396h30v3h-30zM1252 1396h3v3h-3zM1006 1399h6v3h-6zM1066 1399h30v3h-30zM1252 1399h6v3h-6zM1006 1402h6v3h-6zM1063 1402h30v3h-30zM1252 1402h6v3h-6zM1006 1405h6v3h-6zM1063 1405h27v3h-27zM1252 1405h6v3h-6zM1006 1408h6v3h-6zM1060 1408h30v3h-30zM1252 1408h6v3h-6zM1003 1411h9v3h-9zM1060 1411h27v3h-27zM1252 1411h6v3h-6zM1003 1414h9v3h-9zM1057 1414h30v3h-30zM1252 1414h9v3h-9zM1003 1417h12v3h-12zM1054 1417h33v3h-33zM1252 1417h12v3h-12zM1003 1420h15v3h-15zM1051 1420h18v3h-18zM1072 1420h15v3h-15zM1252 1420h18v3h-18zM997 1423h24v3h-24zM1048 1423h18v3h-18zM1075 1423h12v3h-12zM1255 1423h18v3h-18zM994 1426h33v3h-33zM1045 1426h18v3h-18zM1075 1426h12v3h-12zM1255 1426h15v3h-15zM997 1429h36v3h-36zM1039 1429h21v3h-21zM1078 1429h9v3h-9zM997 1432h60v3h-60zM1078 1432h9v3h-9zM1000 1435h54v3h-54zM1078 1435h9v3h-9zM1000 1438h54v3h-54zM1078 1438h9v3h-9zM1003 1441h51v3h-51zM1078 1441h9v3h-9zM1003 1444h48v3h-48zM1078 1444h9v3h-9zM1006 1447h45v3h-45zM1078 1447h6v3h-6zM1018 1450h36v3h-36zM1075 1450h9v3h-9zM1030 1453h24v3h-24zM1075 1453h9v3h-9zM1033 1456h24v3h-24zM1072 1456h12v3h-12zM1039 1459h42v3h-42zM1042 1462h39v3h-39zM1048 1465h30v3h-30zM1054 1468h18v3h-18z"/>
<path shape-rendering="crispEdges" fill="#0068ff" d="M1204 1297h21v3h-21zM1195 1300h39v3h-39zM1186 1303h15v3h-15zM1225 1303h12v3h-12zM1177 1306h15v3h-15zM1231 1306h9v3h-9zM1168 1309h15v3h-15zM1234 1309h6v3h-6zM1159 1312h15v3h-15zM1237 1312h6v3h-6zM1153 1315h12v3h-12zM1237 1315h6v3h-6zM1147 1318h12v3h-12zM1240 1318h6v3h-6zM1141 1321h12v3h-12zM1240 1321h6v3h-6zM1138 1324h9v3h-9zM1240 1324h6v3h-6zM1132 1327h12v3h-12zM1240 1327h6v3h-6zM1129 1330h9v3h-9zM1243 1330h6v3h-6zM1126 1333h9v3h-9zM1243 1333h6v3h-6zM1120 1336h12v3h-12zM1243 1336h6v3h-6zM1114 1339h15v3h-15zM1243 1339h6v3h-6zM1108 1342h18v3h-18zM1246 1342h3v3h-3zM1099 1345h24v3h-24zM1246 1345h6v3h-6zM1093 1348h24v3h-24zM1246 1348h6v3h-6zM1087 1351h24v3h-24zM1246 1351h6v3h-6zM1081 1354h24v3h-24zM1249 1354h3v3h-3zM1063 1357h36v3h-36zM1249 1357h3v3h-3zM1042 1360h54v3h-54zM1249 1360h6v3h-6zM1036 1363h9v3h-9zM1066 1363h24v3h-24zM1249 1363h6v3h-6zM1030 1366h6v3h-6zM1072 1366h15v3h-15zM1252 1366h3v3h-3zM1027 1369h3v3h-3zM1252 1369h3v3h-3zM1024 1372h3v3h-3zM1252 1372h3v3h-3zM1021 1375h3v3h-3zM1252 1375h6v3h-6zM1018 1378h3v3h-3zM1252 1378h6v3h-6zM1015 1381h3v3h-3zM1255 1381h3v3h-3zM1012 1384h3v3h-3zM1255 1384h3v3h-3zM1009 1387h3v3h-3zM1255 1387h3v3h-3zM1009 1390h3v3h-3zM1255 1390h3v3h-3zM1006 1393h3v3h-3zM1255 1393h3v3h-3zM1006 1396h3v3h-3zM1255 1396h6v3h-6zM1003 1399h3v3h-3zM1258 1399h3v3h-3zM1003 1402h3v3h-3zM1258 1402h3v3h-3zM1000 1405h6v3h-6zM1258 1405h3v3h-3zM1000 1408h6v3h-6zM1258 1408h6v3h-6zM997 1411h6v3h-6zM1258 1411h9v3h-9zM997 1414h6v3h-6zM1261 1414h9v3h-9zM991 1417h12v3h-12zM1264 1417h12v3h-12zM991 1420h12v3h-12zM1069 1420h3v3h-3zM1270 1420h3v3h-3zM994 1423h3v3h-3zM1066 1423h9v3h-9zM1063 1426h12v3h-12zM1060 1429h18v3h-18zM1057 1432h21v3h-21zM1054 1435h24v3h-24zM1054 1438h24v3h-24zM1054 1441h24v3h-24zM1051 1444h27v3h-27zM1051 1447h27v3h-27zM1054 1450h21v3h-21zM1054 1453h21v3h-21zM1057 1456h15v3h-15z"/>
<path shape-rendering="crispEdges" fill="#0078ff" d="M1204 1291h24v3h-24zM1195 1294h39v3h-39zM1186 1297h18v3h-18zM1225 1297h15v3h-15zM1177 1300h18v3h-18zM1234 1300h9v3h-9zM1171 1303h15v3h-15zM1237 1303h9v3h-9zM1162 1306h15v3h-15zM1240 1306h6v3h-6zM1153 1309h15v3h-15zM1240 1309h9v3h-9zM1147 1312h12v3h-12zM1243 1312h6v3h-6zM1141 1315h12v3h-12zM1243 1315h6v3h-6zM1135 1318h12v3h-12zM1246 1318h6v3h-6zM1132 1321h9v3h-9zM1246 1321h6v3h-6zM1126 1324h12v3h-12zM1246 1324h6v3h-6zM1123 1327h9v3h-9zM1246 1327h6v3h-6zM1117 1330h12v3h-12zM1249 1330h3v3h-3zM1111 1333h15v3h-15zM1249 1333h6v3h-6zM1102 1336h18v3h-18zM1249 1336h6v3h-6zM1093 1339h21v3h-21zM1249 1339h6v3h-6zM1084 1342h24v3h-24zM1249 1342h6v3h-6zM1081 1345h18v3h-18zM1252 1345h3v3h-3zM1075 1348h18v3h-18zM1252 1348h3v3h-3zM1066 1351h21v3h-21zM1252 1351h6v3h-6zM1057 1354h24v3h-24zM1252 1354h6v3h-6zM1042 1357h21v3h-21zM1252 1357h6v3h-6zM1036 1360h6v3h-6zM1255 1360h3v3h-3zM1030 1363h6v3h-6zM1255 1363h3v3h-3zM1027 1366h3v3h-3zM1255 1366h3v3h-3zM1021 1369h6v3h-6zM1255 1369h3v3h-3zM1018 1372h6v3h-6zM1255 1372h6v3h-6zM1015 1375h6v3h-6zM1258 1375h3v3h-3zM1012 1378h6v3h-6zM1258 1378h3v3h-3zM1009 1381h6v3h-6zM1258 1381h3v3h-3zM1009 1384h3v3h-3zM1258 1384h3v3h-3zM1006 1387h3v3h-3zM1258 1387h3v3h-3zM1003 1390h6v3h-6zM1258 1390h3v3h-3zM1003 1393h3v3h-3zM1258 1393h6v3h-6zM1000 1396h6v3h-6zM1261 1396h3v3h-3zM1000 1399h3v3h-3zM1261 1399h3v3h-3zM1000 1402h3v3h-3zM1261 1402h3v3h-3zM997 1405h3v3h-3zM1261 1405h6v3h-6zM994 1408h6v3h-6zM1264 1408h6v3h-6zM994 1411h3v3h-3zM1267 1411h6v3h-6zM991 1414h6v3h-6zM1270 1414h6v3h-6z"/>
<path shape-rendering="crispEdges" fill="#0087ff" d="M1204 1285h27v3h-27zM1195 1288h42v3h-42zM1186 1291h18v3h-18zM1228 1291h15v3h-15zM1180 1294h15v3h-15zM1234 1294h12v3h-12zM1171 1297h15v3h-15zM1240 1297h9v3h-9zM1162 1300h15v3h-15zM1243 1300h9v3h-9zM1153 1303h18v3h-18zM1246 1303h6v3h-6zM1147 1306h15v3h-15zM1246 1306h6v3h-6zM1138 1309h15v3h-15zM1249 1309h6v3h-6zM1135 1312h12v3h-12zM1249 1312h6v3h-6zM1129 1315h12v3h-12zM1249 1315h6v3h-6zM1123 1318h12v3h-12zM1252 1318h3v3h-3zM1120 1321h12v3h-12zM1252 1321h6v3h-6zM1114 1324h12v3h-12zM1252 1324h6v3h-6zM1105 1327h18v3h-18zM1252 1327h6v3h-6zM1096 1330h21v3h-21zM1252 1330h6v3h-6zM1087 1333h24v3h-24zM1255 1333h3v3h-3zM1081 1336h21v3h-21zM1255 1336h3v3h-3zM1078 1339h15v3h-15zM1255 1339h6v3h-6zM1072 1342h12v3h-12zM1255 1342h6v3h-6zM1069 1345h12v3h-12zM1255 1345h6v3h-6zM1063 1348h12v3h-12zM1255 1348h6v3h-6zM1054 1351h12v3h-12zM1258 1351h3v3h-3zM1045 1354h12v3h-12zM1258 1354h3v3h-3zM1036 1357h6v3h-6zM1258 1357h3v3h-3zM1030 1360h6v3h-6zM1258 1360h3v3h-3zM1024 1363h6v3h-6zM1258 1363h3v3h-3zM1021 1366h6v3h-6zM1258 1366h6v3h-6zM1018 1369h3v3h-3zM1258 1369h6v3h-6zM1015 1372h3v3h-3zM1261 1372h3v3h-3zM1012 1375h3v3h-3zM1261 1375h3v3h-3zM1009 1378h3v3h-3zM1261 1378h3v3h-3zM1006 1381h3v3h-3zM1261 1381h3v3h-3zM1006 1384h3v3h-3zM1261 1384h3v3h-3zM1003 1387h3v3h-3zM1261 1387h3v3h-3zM1000 1390h3v3h-3zM1261 1390h3v3h-3zM1000 1393h3v3h-3zM1264 1393h3v3h-3zM997 1396h3v3h-3zM1264 1396h3v3h-3zM997 1399h3v3h-3zM1264 1399h3v3h-3zM997 1402h3v3h-3zM1264 1402h6v3h-6zM994 1405h3v3h-3zM1267 1405h3v3h-3zM991 1408h3v3h-3zM1270 1408h3v3h-3zM988 1411h6v3h-6zM1273 1411h3v3h-3z"/>
<path shape-rendering="crispEdges" fill="#0097ff" d="M1210 1276h18v3h-18zM1198 1279h39v3h-39zM1192 1282h54v3h-54zM1183 1285h21v3h-21zM1231 1285h18v3h-18zM1177 1288h18v3h-18zM1237 1288h15v3h-15zM1171 1291h15v3h-15zM1243 1291h12v3h-12zM1162 1294h18v3h-18zM1246 1294h9v3h-9zM1153 1297h18v3h-18zM1249 1297h9v3h-9zM1144 1300h18v3h-18zM1252 1300h6v3h-6zM1138 1303h15v3h-15zM1252 1303h6v3h-6zM1132 1306h15v3h-15zM1252 1306h9v3h-9zM1126 1309h12v3h-12zM1255 1309h6v3h-6zM1120 1312h15v3h-15zM1255 1312h6v3h-6zM1117 1315h12v3h-12zM1255 1315h6v3h-6zM1111 1318h12v3h-12zM1255 1318h6v3h-6zM1102 1321h18v3h-18zM1258 1321h3v3h-3zM1093 1324h21v3h-21zM1258 1324h6v3h-6zM1084 1327h21v3h-21zM1258 1327h6v3h-6zM1078 1330h18v3h-18zM1258 1330h6v3h-6zM1075 1333h12v3h-12zM1258 1333h6v3h-6zM1072 1336h9v3h-9zM1258 1336h6v3h-6zM1069 1339h9v3h-9zM1261 1339h3v3h-3zM1066 1342h6v3h-6zM1261 1342h3v3h-3zM1060 1345h9v3h-9zM1261 1345h3v3h-3zM1054 1348h9v3h-9zM1261 1348h3v3h-3zM1045 1351h9v3h-9zM1261 1351h6v3h-6zM1036 1354h9v3h-9zM1261 1354h6v3h-6zM1030 1357h6v3h-6zM1261 1357h6v3h-6zM1024 1360h6v3h-6zM1261 1360h6v3h-6zM1021 1363h3v3h-3zM1261 1363h6v3h-6zM1018 1366h3v3h-3zM1264 1366h3v3h-3zM1015 1369h3v3h-3zM1264 1369h3v3h-3zM1012 1372h3v3h-3zM1264 1372h3v3h-3zM1009 1375h3v3h-3zM1264 1375h3v3h-3zM1006 1378h3v3h-3zM1264 1378h3v3h-3zM1003 1381h3v3h-3zM1264 1381h3v3h-3zM1003 1384h3v3h-3zM1264 1384h3v3h-3zM1000 1387h3v3h-3zM1264 1387h3v3h-3zM1264 1390h3v3h-3zM997 1393h3v3h-3zM1267 1393h3v3h-3zM1267 1396h3v3h-3zM994 1399h3v3h-3zM1267 1399h3v3h-3zM994 1402h3v3h-3zM1270 1402h3v3h-3zM991 1405h3v3h-3zM1270 1405h6v3h-6zM988 1408h3v3h-3zM1273 1408h6v3h-6z"/>
<path shape-rendering="crispEdges" fill="#00a7ff" d="M1150 1219h21v3h-21zM1147 1222h33v3h-33zM1147 1225h42v3h-42zM1147 1228h48v3h-48zM1147 1231h54v3h-54zM1150 1234h57v3h-57zM1150 1237h36v3h-36zM1195 1237h18v3h-18zM1153 1240h27v3h-27zM1198 1240h18v3h-18zM1162 1243h9v3h-9zM1201 1243h21v3h-21zM1201 1246h24v3h-24zM1204 1249h24v3h-24zM1204 1252h30v3h-30zM1207 1255h30v3h-30zM1204 1258h36v3h-36zM1204 1261h39v3h-39zM1201 1264h45v3h-45zM1195 1267h54v3h-54zM1192 1270h57v3h-57zM1186 1273h66v3h-66zM1183 1276h27v3h-27zM1228 1276h27v3h-27zM1177 1279h21v3h-21zM1237 1279h21v3h-21zM1171 1282h21v3h-21zM1246 1282h12v3h-12zM1165 1285h18v3h-18zM1249 1285h12v3h-12zM1159 1288h18v3h-18zM1252 1288h12v3h-12zM1147 1291h24v3h-24zM1255 1291h9v3h-9zM1138 1294h24v3h-24zM1255 1294h12v3h-12zM1132 1297h21v3h-21zM1258 1297h9v3h-9zM1126 1300h18v3h-18zM1258 1300h9v3h-9zM1120 1303h18v3h-18zM1258 1303h9v3h-9zM1117 1306h15v3h-15zM1261 1306h6v3h-6zM1111 1309h15v3h-15zM1261 1309h6v3h-6zM1105 1312h15v3h-15zM1261 1312h6v3h-6zM1096 1315h21v3h-21zM1261 1315h6v3h-6zM1087 1318h24v3h-24zM1261 1318h6v3h-6zM1081 1321h21v3h-21zM1261 1321h6v3h-6zM1078 1324h15v3h-15zM1264 1324h3v3h-3zM1075 1327h9v3h-9zM1264 1327h6v3h-6zM1072 1330h6v3h-6zM1264 1330h6v3h-6zM1069 1333h6v3h-6zM1264 1333h6v3h-6zM1066 1336h6v3h-6zM1264 1336h6v3h-6zM1063 1339h6v3h-6zM1264 1339h6v3h-6zM1057 1342h9v3h-9zM1264 1342h6v3h-6zM1054 1345h6v3h-6zM1264 1345h6v3h-6zM1045 1348h9v3h-9zM1264 1348h6v3h-6zM1039 1351h6v3h-6zM1267 1351h3v3h-3zM1030 1354h6v3h-6zM1267 1354h3v3h-3zM1024 1357h6v3h-6zM1267 1357h3v3h-3zM1021 1360h3v3h-3zM1267 1360h3v3h-3zM1018 1363h3v3h-3zM1267 1363h3v3h-3zM1015 1366h3v3h-3zM1267 1366h3v3h-3zM1012 1369h3v3h-3zM1267 1369h3v3h-3zM1009 1372h3v3h-3zM1267 1372h3v3h-3zM1006 1375h3v3h-3zM1267 1375h3v3h-3zM1003 1378h3v3h-3zM1267 1378h3v3h-3zM1000 1381h3v3h-3zM1267 1381h3v3h-3zM1000 1384h3v3h-3zM1267 1384h3v3h-3zM997 1387h3v3h-3zM1267 1387h3v3h-3zM997 1390h3v3h-3zM1267 1390h3v3h-3zM994 1393h3v3h-3zM1270 1393h3v3h-3zM994 1396h3v3h-3zM1270 1396h3v3h-3zM991 1399h3v3h-3zM1270 1399h3v3h-3zM991 1402h3v3h-3zM1273 1402h3v3h-3zM988 1405h3v3h-3zM1276 1405h3v3h-3z"/>
<path shape-rendering="crispEdges" fill="#00b7ff" d="M1138 1219h12v3h-12zM1135 1222h12v3h-12zM1135 1225h12v3h-12zM1135 1228h12v3h-12zM1135 1231h12v3h-12zM1135 1234h15v3h-15zM1135 1237h15v3h-15zM1186 1237h9v3h-9zM1138 1240h15v3h-15zM1180 1240h18v3h-18zM1138 1243h24v3h-24zM1171 1243h30v3h-30zM1138 1246h63v3h-63zM1141 1249h63v3h-63zM1144 1252h60v3h-60zM1147 1255h60v3h-60zM1150 1258h54v3h-54zM1156 1261h48v3h-48zM1162 1264h39v3h-39zM1162 1267h33v3h-33zM1162 1270h30v3h-30zM1159 1273h27v3h-27zM1156 1276h27v3h-27zM1147 1279h30v3h-30zM1138 1282h33v3h-33zM1132 1285h33v3h-33zM1126 1288h33v3h-33zM1123 1291h24v3h-24zM1120 1294h18v3h-18zM1114 1297h18v3h-18zM1111 1300h15v3h-15zM1267 1300h3v3h-3zM1105 1303h15v3h-15zM1267 1303h3v3h-3zM1099 1306h18v3h-18zM1267 1306h6v3h-6zM1090 1309h21v3h-21zM1267 1309h6v3h-6zM1084 1312h21v3h-21zM1267 1312h6v3h-6zM1078 1315h18v3h-18zM1267 1315h6v3h-6zM1075 1318h12v3h-12zM1267 1318h6v3h-6zM1072 1321h9v3h-9zM1267 1321h6v3h-6zM1069 1324h9v3h-9zM1267 1324h6v3h-6zM1066 1327h9v3h-9zM1270 1327h3v3h-3zM1066 1330h6v3h-6zM1270 1330h3v3h-3zM1063 1333h6v3h-6zM1270 1333h3v3h-3zM1060 1336h6v3h-6zM1270 1336h6v3h-6zM1057 1339h6v3h-6zM1270 1339h6v3h-6zM1051 1342h6v3h-6zM1270 1342h6v3h-6zM1045 1345h9v3h-9zM1270 1345h6v3h-6zM1039 1348h6v3h-6zM1270 1348h3v3h-3zM1030 1351h9v3h-9zM1270 1351h3v3h-3zM1027 1354h3v3h-3zM1270 1354h3v3h-3zM1021 1357h3v3h-3zM1270 1357h3v3h-3zM1018 1360h3v3h-3zM1270 1360h3v3h-3zM1012 1363h6v3h-6zM1270 1363h3v3h-3zM1009 1366h6v3h-6zM1270 1366h3v3h-3zM1006 1369h6v3h-6zM1270 1369h3v3h-3zM1006 1372h3v3h-3zM1270 1372h3v3h-3zM1003 1375h3v3h-3zM1270 1375h3v3h-3zM1000 1378h3v3h-3zM1270 1378h3v3h-3zM997 1381h3v3h-3zM1270 1381h3v3h-3zM997 1384h3v3h-3zM1270 1384h3v3h-3zM994 1387h3v3h-3zM1270 1387h3v3h-3zM994 1390h3v3h-3zM1270 1390h3v3h-3zM991 1396h3v3h-3zM1273 1396h3v3h-3zM1273 1399h3v3h-3zM988 1402h3v3h-3zM1276 1402h3v3h-3z"/>
<path shape-rendering="crispEdges" fill="#00c7ff" d="M1126 1219h12v3h-12zM1126 1222h9v3h-9zM1126 1225h9v3h-9zM1126 1228h9v3h-9zM1126 1231h9v3h-9zM1126 1234h9v3h-9zM1126 1237h9v3h-9zM1126 1240h12v3h-12zM1126 1243h12v3h-12zM1126 1246h12v3h-12zM1126 1249h15v3h-15zM1126 1252h18v3h-18zM1126 1255h21v3h-21zM1126 1258h24v3h-24zM1126 1261h30v3h-30zM1126 1264h36v3h-36zM1126 1267h36v3h-36zM1126 1270h36v3h-36zM1123 1273h36v3h-36zM1120 1276h36v3h-36zM1117 1279h30v3h-30zM1114 1282h24v3h-24zM1111 1285h21v3h-21zM1108 1288h18v3h-18zM1102 1291h21v3h-21zM1099 1294h21v3h-21zM1090 1297h24v3h-24zM1084 1300h27v3h-27zM1078 1303h27v3h-27zM1075 1306h24v3h-24zM1072 1309h18v3h-18zM1069 1312h15v3h-15zM1069 1315h9v3h-9zM1273 1315h3v3h-3zM1066 1318h9v3h-9zM1273 1318h3v3h-3zM1066 1321h6v3h-6zM1273 1321h3v3h-3zM1063 1324h6v3h-6zM1273 1324h6v3h-6zM1063 1327h3v3h-3zM1273 1327h6v3h-6zM1060 1330h6v3h-6zM1273 1330h6v3h-6zM1057 1333h6v3h-6zM1273 1333h6v3h-6zM1054 1336h6v3h-6zM1276 1336h3v3h-3zM1051 1339h6v3h-6zM1276 1339h3v3h-3zM1045 1342h6v3h-6zM1276 1342h3v3h-3zM1039 1345h6v3h-6zM1276 1345h3v3h-3zM1033 1348h6v3h-6zM1273 1348h6v3h-6zM1027 1351h3v3h-3zM1273 1351h6v3h-6zM1021 1354h6v3h-6zM1273 1354h6v3h-6zM1015 1357h6v3h-6zM1273 1357h3v3h-3zM1012 1360h6v3h-6zM1273 1360h3v3h-3zM1009 1363h3v3h-3zM1273 1363h3v3h-3zM1006 1366h3v3h-3zM1273 1366h3v3h-3zM1003 1369h3v3h-3zM1273 1369h3v3h-3zM1000 1372h6v3h-6zM1273 1372h3v3h-3zM1000 1375h3v3h-3zM1273 1375h3v3h-3zM997 1378h3v3h-3zM1273 1378h3v3h-3zM1273 1381h3v3h-3zM994 1384h3v3h-3zM1273 1384h3v3h-3zM1273 1387h3v3h-3zM991 1390h3v3h-3zM1273 1390h3v3h-3zM991 1393h3v3h-3zM1273 1393h3v3h-3zM988 1396h3v3h-3zM1276 1396h3v3h-3zM988 1399h3v3h-3zM1276 1399h3v3h-3zM985 1402h3v3h-3z"/>
<path shape-rendering="crispEdges" fill="#00d7ff" d="M1117 1219h9v3h-9zM1117 1222h9v3h-9zM1117 1225h9v3h-9zM1117 1228h9v3h-9zM1117 1231h9v3h-9zM1117 1234h9v3h-9zM1117 1237h9v3h-9zM1117 1240h9v3h-9zM1117 1243h9v3h-9zM1117 1246h9v3h-9zM1114 1249h12v3h-12zM1114 1252h12v3h-12zM1114 1255h12v3h-12zM1114 1258h12v3h-12zM1111 1261h15v3h-15zM1111 1264h15v3h-15zM1108 1267h18v3h-18zM1105 1270h21v3h-21zM1099 1273h24v3h-24zM1093 1276h27v3h-27zM1084 1279h33v3h-33zM1078 1282h36v3h-36zM1072 1285h39v3h-39zM1069 1288h39v3h-39zM1066 1291h36v3h-36zM1066 1294h33v3h-33zM1063 1297h27v3h-27zM1063 1300h21v3h-21zM1063 1303h15v3h-15zM1063 1306h12v3h-12zM1063 1309h9v3h-9zM1060 1312h9v3h-9zM1060 1315h9v3h-9zM1060 1318h6v3h-6zM1060 1321h6v3h-6zM1057 1324h6v3h-6zM1057 1327h6v3h-6zM1054 1330h6v3h-6zM1051 1333h6v3h-6zM1048 1336h6v3h-6zM1279 1336h3v3h-3zM1045 1339h6v3h-6zM1279 1339h3v3h-3zM1039 1342h6v3h-6zM1279 1342h3v3h-3zM1033 1345h6v3h-6zM1279 1345h3v3h-3zM1024 1348h9v3h-9zM1279 1348h3v3h-3zM1021 1351h6v3h-6zM1279 1351h3v3h-3zM1015 1354h6v3h-6zM1279 1354h3v3h-3zM1012 1357h3v3h-3zM1276 1357h9v3h-9zM1009 1360h3v3h-3zM1276 1360h3v3h-3zM1006 1363h3v3h-3zM1276 1363h3v3h-3zM1003 1366h3v3h-3zM1276 1366h3v3h-3zM1000 1369h3v3h-3zM1276 1369h3v3h-3zM997 1372h3v3h-3zM1276 1372h3v3h-3zM997 1375h3v3h-3zM994 1378h3v3h-3zM994 1381h3v3h-3zM991 1384h3v3h-3zM991 1387h3v3h-3zM1276 1387h3v3h-3zM1276 1390h3v3h-3zM988 1393h3v3h-3zM1276 1393h3v3h-3zM985 1399h3v3h-3z"/>
<path shape-rendering="crispEdges" fill="#00e7ff" d="M1105 1219h12v3h-12zM1105 1222h12v3h-12zM1105 1225h12v3h-12zM1105 1228h12v3h-12zM1105 1231h12v3h-12zM1105 1234h12v3h-12zM1105 1237h12v3h-12zM1105 1240h12v3h-12zM1105 1243h12v3h-12zM1105 1246h12v3h-12zM1102 1249h12v3h-12zM1099 1252h15v3h-15zM1096 1255h18v3h-18zM1093 1258h21v3h-21zM1087 1261h24v3h-24zM1081 1264h30v3h-30zM1075 1267h33v3h-33zM1069 1270h36v3h-36zM1066 1273h33v3h-33zM1060 1276h33v3h-33zM1054 1279h30v3h-30zM1051 1282h27v3h-27zM1048 1285h24v3h-24zM1045 1288h24v3h-24zM1045 1291h21v3h-21zM1048 1294h18v3h-18zM1048 1297h15v3h-15zM1048 1300h15v3h-15zM1051 1303h12v3h-12zM1051 1306h12v3h-12zM1054 1309h9v3h-9zM1054 1312h6v3h-6zM1054 1315h6v3h-6zM1054 1318h6v3h-6zM1054 1321h6v3h-6zM1051 1324h6v3h-6zM1051 1327h6v3h-6zM1048 1330h6v3h-6zM1048 1333h3v3h-3zM1042 1336h6v3h-6zM1039 1339h6v3h-6zM1030 1342h9v3h-9zM1024 1345h9v3h-9zM1018 1348h6v3h-6zM1015 1351h6v3h-6zM1009 1354h6v3h-6zM1006 1357h6v3h-6zM1003 1360h6v3h-6zM1279 1360h6v3h-6zM1000 1363h6v3h-6zM1279 1363h6v3h-6zM997 1366h6v3h-6zM1279 1366h6v3h-6zM997 1369h3v3h-3zM1279 1369h6v3h-6zM994 1372h3v3h-3zM994 1375h3v3h-3zM1276 1375h3v3h-3zM991 1378h3v3h-3zM1276 1378h3v3h-3zM991 1381h3v3h-3zM1276 1381h3v3h-3zM1276 1384h3v3h-3zM988 1387h3v3h-3zM988 1390h3v3h-3zM985 1393h3v3h-3zM1279 1393h3v3h-3zM985 1396h3v3h-3zM1279 1396h3v3h-3z"/>
<path shape-rendering="crispEdges" fill="#00f7ff" d="M1096 1219h9v3h-9zM1090 1222h15v3h-15zM1090 1225h15v3h-15zM1093 1228h12v3h-12zM1093 1231h12v3h-12zM1093 1234h12v3h-12zM1090 1237h15v3h-15zM1090 1240h15v3h-15zM1087 1243h18v3h-18zM1084 1246h21v3h-21zM1081 1249h21v3h-21zM1078 1252h21v3h-21zM1075 1255h21v3h-21zM1072 1258h21v3h-21zM1069 1261h18v3h-18zM1066 1264h15v3h-15zM1018 1267h3v3h-3zM1060 1267h15v3h-15zM1015 1270h9v3h-9zM1054 1270h15v3h-15zM1012 1273h18v3h-18zM1045 1273h21v3h-21zM1012 1276h48v3h-48zM1009 1279h45v3h-45zM1006 1282h45v3h-45zM1012 1285h36v3h-36zM1018 1288h27v3h-27zM1021 1291h24v3h-24zM1024 1294h24v3h-24zM1030 1297h18v3h-18zM1033 1300h15v3h-15zM1036 1303h15v3h-15zM1039 1306h12v3h-12zM1042 1309h12v3h-12zM1045 1312h9v3h-9zM1045 1315h9v3h-9zM1045 1318h9v3h-9zM1045 1321h9v3h-9zM1045 1324h6v3h-6zM1045 1327h6v3h-6zM1042 1330h6v3h-6zM1039 1333h9v3h-9zM1036 1336h6v3h-6zM1030 1339h9v3h-9zM1021 1342h9v3h-9zM1015 1345h9v3h-9zM1012 1348h6v3h-6zM1006 1351h9v3h-9zM1003 1354h6v3h-6zM1000 1357h6v3h-6zM997 1360h6v3h-6zM997 1363h3v3h-3zM994 1366h3v3h-3zM991 1369h6v3h-6zM991 1372h3v3h-3zM1279 1372h6v3h-6zM991 1375h3v3h-3zM1279 1375h6v3h-6zM988 1378h3v3h-3zM1279 1378h3v3h-3zM988 1381h3v3h-3zM1279 1381h3v3h-3zM988 1384h3v3h-3zM1279 1384h3v3h-3zM1279 1387h3v3h-3zM985 1390h3v3h-3zM1279 1390h3v3h-3z"/>
<path shape-rendering="crispEdges" fill="#08fff7" d="M1084 1222h6v3h-6zM1078 1225h12v3h-12zM1078 1228h15v3h-15zM1078 1231h15v3h-15zM1078 1234h15v3h-15zM1078 1237h12v3h-12zM1078 1240h12v3h-12zM1075 1243h12v3h-12zM1072 1246h12v3h-12zM1072 1249h9v3h-9zM1069 1252h9v3h-9zM1066 1255h9v3h-9zM1063 1258h9v3h-9zM1024 1261h6v3h-6zM1060 1261h9v3h-9zM1021 1264h12v3h-12zM1051 1264h15v3h-15zM1021 1267h39v3h-39zM1024 1270h30v3h-30zM1030 1273h15v3h-15zM1006 1285h6v3h-6zM1003 1288h15v3h-15zM1000 1291h21v3h-21zM1000 1294h24v3h-24zM997 1297h33v3h-33zM997 1300h36v3h-36zM994 1303h42v3h-42zM1012 1306h27v3h-27zM1024 1309h18v3h-18zM1030 1312h15v3h-15zM1033 1315h12v3h-12zM1036 1318h9v3h-9zM1039 1321h6v3h-6zM1039 1324h6v3h-6zM1036 1327h9v3h-9zM1033 1330h9v3h-9zM1030 1333h9v3h-9zM1024 1336h12v3h-12zM1018 1339h12v3h-12zM1009 1342h12v3h-12zM1006 1345h9v3h-9zM1000 1348h12v3h-12zM997 1351h9v3h-9zM994 1354h9v3h-9zM994 1357h6v3h-6zM991 1360h6v3h-6zM991 1363h6v3h-6zM988 1366h6v3h-6zM988 1369h3v3h-3zM988 1372h3v3h-3zM988 1375h3v3h-3zM985 1378h3v3h-3zM985 1381h3v3h-3zM985 1384h3v3h-3zM985 1387h3v3h-3z"/>
<path shape-rendering="crispEdges" fill="#18ffe7" d="M1072 1228h6v3h-6zM1072 1231h6v3h-6zM1072 1234h6v3h-6zM1069 1237h9v3h-9zM1069 1240h9v3h-9zM1069 1243h6v3h-6zM1066 1246h6v3h-6zM1063 1249h9v3h-9zM1060 1252h9v3h-9zM1030 1255h3v3h-3zM1057 1255h9v3h-9zM1027 1258h9v3h-9zM1051 1258h12v3h-12zM1030 1261h30v3h-30zM1033 1264h18v3h-18zM994 1306h18v3h-18zM994 1309h30v3h-30zM991 1312h39v3h-39zM991 1315h42v3h-42zM988 1318h48v3h-48zM988 1321h51v3h-51zM988 1324h51v3h-51zM988 1327h48v3h-48zM985 1330h48v3h-48zM985 1333h45v3h-45zM985 1336h39v3h-39zM985 1339h33v3h-33zM985 1342h24v3h-24zM985 1345h21v3h-21zM985 1348h15v3h-15zM985 1351h12v3h-12zM985 1354h9v3h-9zM985 1357h9v3h-9zM985 1360h6v3h-6zM985 1363h6v3h-6zM985 1366h3v3h-3zM985 1369h3v3h-3zM985 1372h3v3h-3zM985 1375h3v3h-3z"/>
<path shape-rendering="crispEdges" fill="#28ffd7" d="M1069 1228h3v3h-3zM1066 1231h6v3h-6zM1066 1234h6v3h-6zM1063 1237h6v3h-6zM1063 1240h6v3h-6zM1060 1243h9v3h-9zM1060 1246h6v3h-6zM1057 1249h6v3h-6zM1033 1252h6v3h-6zM1051 1252h9v3h-9zM1033 1255h24v3h-24zM1036 1258h15v3h-15z"/>
<path shape-rendering="crispEdges" fill="#38ffc7" d="M1063 1231h3v3h-3zM1060 1234h6v3h-6zM1057 1237h6v3h-6zM1057 1240h6v3h-6zM1054 1243h6v3h-6zM1051 1246h9v3h-9zM1036 1249h21v3h-21zM1039 1252h12v3h-12z"/>
<path shape-rendering="crispEdges" fill="#48ffb7" d="M1057 1234h3v3h-3zM1054 1237h3v3h-3zM1048 1240h9v3h-9zM1045 1243h9v3h-9zM1039 1246h12v3h-12z"/>
<path fill="none" stroke="#222" stroke-opacity="0.8" stroke-width="0.75" d="M1202.2,1397.8 1206.1,1395.8 1209.3,1391.8 1210.1,1386.8 1208.7,1381.8 1205.8,1377.8 1200.9,1374.8 1195.9,1374.1 1190.9,1375.6 1185.9,1379.3 1182.8,1383.8 1181.6,1388.8 1182.7,1392.8 1185.9,1396.0 1190.9,1398.1 1196.9,1398.7 1202.2,1397.8M1208.6,1410.8 1218.6,1406.8 1222.9,1402.8 1225.5,1398.8 1227.1,1393.8 1227.4,1388.8 1224.9,1376.8 1217.7,1362.8 1207.9,1352.0 1202.9,1349.0 1196.9,1347.0 1190.9,1346.8 1185.9,1347.8 1180.9,1350.7 1177.3,1354.8 1166.9,1376.5 1163.5,1386.8 1164.0,1395.8 1166.2,1399.8 1169.3,1402.8 1179.9,1408.1 1194.9,1411.2 1208.6,1410.8M1215.5,1422.8 1223.9,1419.6 1230.6,1413.8 1235.9,1405.7 1238.5,1396.8 1238.5,1388.8 1236.6,1378.8 1231.9,1365.3 1225.9,1352.0 1216.8,1337.8 1211.9,1333.6 1206.9,1331.3 1198.9,1330.1 1188.9,1330.8 1179.0,1332.8 1171.1,1335.8 1166.4,1338.8 1162.4,1342.8 1157.5,1352.8 1147.9,1389.8 1147.1,1402.8 1148.7,1410.8 1150.9,1413.3 1153.9,1414.8 1170.9,1418.5 1201.9,1423.0 1215.5,1422.8M1117.1,1447.8 1130.3,1440.8 1138.0,1434.8 1140.3,1427.8 1139.6,1423.8 1137.9,1421.5 1131.9,1419.3 1122.9,1419.4 1115.1,1421.8 1110.1,1425.8 1107.2,1432.8 1107.9,1441.7 1109.9,1445.7 1111.9,1447.5 1117.1,1447.8M1164.7,1464.8 1167.9,1463.1 1169.9,1460.5 1170.5,1456.8 1169.4,1453.8 1166.9,1450.8 1162.9,1448.3 1158.9,1447.6 1154.9,1448.6 1152.9,1450.8 1152.1,1453.8 1153.9,1460.7 1158.9,1464.7 1164.7,1464.8M1280.9,1430.2 1271.9,1437.7 1265.9,1441.1 1257.9,1443.5 1240.9,1446.2 1236.9,1447.8 1234.5,1450.8 1228.9,1462.8 1223.1,1467.8 1215.9,1468.5 1211.9,1466.9 1208.9,1464.5 1206.4,1460.8 1205.0,1455.8 1205.2,1451.8 1206.9,1448.9 1212.9,1446.3 1229.9,1444.1 1232.9,1442.3 1234.9,1439.2 1243.9,1416.6 1246.4,1407.8 1247.5,1396.8 1246.3,1384.8 1241.9,1367.9 1233.9,1344.5 1227.9,1329.7 1222.9,1322.2 1216.9,1318.3 1209.9,1317.1 1199.9,1318.0 1182.9,1321.8 1171.9,1325.0 1162.9,1328.7 1156.5,1332.8 1151.1,1337.8 1144.8,1346.8 1137.4,1361.8 1133.5,1371.8 1129.7,1386.8 1126.9,1392.8 1121.9,1397.8 1104.9,1407.5 1098.2,1414.8 1095.2,1420.8 1093.5,1427.8 1092.7,1451.8 1091.6,1459.8 1088.8,1467.8 1083.9,1474.4 1079.9,1477.4 1074.9,1479.5 1061.9,1480.9 1047.9,1479.3 1021.9,1472.6 1010.9,1473.0 1005.9,1475.4 1001.9,1479.1 991.2,1496.8 984.9,1503.7M1039.7,1416.8 1044.9,1414.3 1049.9,1409.4 1054.7,1401.8 1058.2,1392.8 1059.2,1386.8 1058.4,1380.8 1055.9,1376.6 1050.9,1373.6 1042.9,1373.8 1033.9,1378.7 1023.6,1388.8 1018.5,1397.8 1018.4,1405.8 1022.2,1411.8 1030.9,1416.5 1039.7,1416.8M1095.0,1514.8 1107.9,1512.6 1133.9,1513.2 1143.9,1512.0 1147.9,1509.5 1154.4,1499.8 1157.9,1496.2 1162.9,1493.5 1168.9,1492.7 1174.9,1493.6 1179.9,1496.0 1183.9,1499.5 1192.4,1509.8 1200.5,1514.8M1280.9,1422.9 1271.9,1424.3 1265.9,1424.0 1261.9,1422.4 1258.6,1418.8 1256.4,1411.8 1253.9,1389.8 1251.1,1374.8 1236.9,1321.8 1232.9,1314.2 1227.9,1309.3 1221.9,1306.5 1213.9,1305.6 1200.9,1307.7 1171.9,1316.6 1159.9,1321.1 1149.9,1326.6 1142.1,1332.8 1124.9,1349.3 1100.3,1365.8 1094.9,1372.8 1085.9,1389.5 1081.9,1393.8 1076.5,1378.8 1072.1,1372.8 1066.9,1368.6 1059.9,1365.9 1052.9,1365.1 1044.9,1366.0 1037.5,1368.8 1029.9,1373.8 1020.9,1382.1 1013.9,1390.8 1010.3,1397.8 1008.2,1405.8 1007.7,1413.8 1008.8,1420.8 1012.1,1429.8 1011.5,1433.8 1008.9,1435.2 1004.9,1434.7 992.9,1428.3 984.9,1425.3M1067.9,1465.0 1058.9,1464.1 1051.1,1459.8 1045.9,1452.8 1045.0,1445.8 1047.3,1439.8 1053.6,1430.8 1073.9,1405.5 1076.9,1402.5 1078.9,1401.9 1081.5,1436.8 1081.1,1449.8 1079.4,1455.8 1076.9,1459.9 1072.9,1463.3 1067.9,1465.0M1280.9,1418.0 1273.9,1416.7 1268.9,1414.1 1265.2,1409.8 1262.9,1404.8 1248.8,1328.8 1246.0,1317.8 1243.1,1310.8 1238.8,1304.8 1232.2,1299.8 1224.9,1297.0 1215.9,1296.1 1207.9,1296.9 1198.9,1299.1 1154.9,1314.7 1142.9,1320.9 1117.9,1337.7 1077.9,1355.0 1069.9,1357.1 1047.9,1360.0 1034.8,1364.8 1023.5,1372.8 1011.9,1385.1 1006.2,1393.8 999.4,1409.8 996.1,1414.8 990.9,1418.3 984.9,1419.8M1280.9,1413.6 1275.9,1411.4 1271.6,1407.8 1268.4,1402.8 1266.2,1396.8 1264.0,1384.8 1257.9,1331.8 1254.6,1314.8 1250.9,1304.3 1245.6,1296.8 1237.9,1291.2 1227.9,1287.6 1217.9,1286.5 1207.9,1287.4 1197.9,1289.8 1147.9,1308.4 1137.9,1313.2 1113.9,1327.1 1085.9,1337.1 1065.1,1349.8 1041.9,1357.2 1031.6,1361.8 1021.6,1368.8 1011.5,1378.8 1003.9,1389.2 993.9,1408.2 989.9,1412.5 984.9,1415.4M1241.2,1244.8 1248.9,1241.2 1253.2,1235.8 1253.7,1228.8 1250.3,1223.8 1243.8,1220.8 1232.9,1219.6 1223.9,1221.1 1218.3,1224.8 1216.1,1228.8 1215.9,1232.8 1217.4,1236.8 1220.9,1241.2 1224.9,1243.8 1229.9,1245.4 1235.9,1245.7 1241.2,1244.8M1165.6,1229.8 1167.9,1227.9 1168.0,1225.8 1165.9,1223.7 1162.9,1223.8 1161.1,1225.8 1161.2,1227.8 1162.9,1229.7 1165.6,1229.8M1280.9,1254.0 1277.9,1258.8 1276.9,1264.8 1277.8,1269.8 1280.9,1274.8M1280.9,1409.3 1276.3,1405.8 1273.2,1401.8 1269.5,1390.8 1268.1,1377.8 1266.8,1336.8 1261.5,1301.8 1258.6,1290.8 1253.9,1283.8 1245.9,1278.3 1232.9,1273.4 1221.9,1272.0 1209.9,1273.6 1195.9,1278.1 1167.9,1291.0 1137.9,1301.2 1109.9,1316.9 1081.9,1327.3 1061.0,1344.8 1031.9,1357.2 1017.9,1366.5 1004.9,1380.5 992.0,1403.8 984.9,1411.3M1138.1,1218.8 1136.1,1224.8 1135.6,1231.8 1136.4,1238.8 1138.5,1245.8 1141.9,1251.9 1145.9,1256.3 1162.1,1266.8 1163.3,1269.8 1161.8,1273.8 1155.9,1278.0 1131.9,1287.3 1103.9,1305.7 1079.9,1315.6 1072.9,1321.6 1063.1,1334.8 1056.9,1340.8 1048.9,1345.6 1027.9,1354.7 1018.9,1360.3 1010.5,1367.8 1002.7,1376.8 997.7,1384.8 989.9,1400.8 984.9,1407.3M1280.9,1404.9 1277.4,1400.8 1274.6,1394.8 1273.1,1387.8 1272.6,1378.8 1275.1,1341.8 1272.8,1307.8 1275.6,1298.8 1280.9,1294.0M1121.0,1218.8 1119.7,1255.8 1117.5,1264.8 1113.6,1271.8 1108.9,1276.9 1102.9,1281.6 1080.9,1291.9 1073.9,1297.2 1067.9,1306.4 1058.7,1328.8 1051.8,1337.8 1044.1,1342.8 1020.9,1353.7 1007.9,1364.0 997.1,1377.8 988.7,1396.8 984.9,1403.0M1280.9,1399.7 1277.8,1392.8 1276.6,1382.8 1277.5,1371.8 1280.9,1355.2M1100.8,1218.8 1103.8,1225.8 1104.4,1234.8 1102.7,1243.8 1098.9,1250.9 1090.7,1257.8 1047.6,1282.8 1042.8,1287.8 1042.7,1293.8 1049.9,1307.7 1052.0,1314.8 1051.8,1323.8 1048.9,1331.0 1042.2,1337.8 1016.9,1350.1 1010.0,1354.8 1003.9,1360.4 994.2,1373.8 984.9,1398.2M1003.6,1272.8 1009.4,1269.8 1012.3,1264.8 1013.0,1256.8 1011.6,1247.8 1008.8,1240.8 1004.0,1234.8 997.9,1231.3 991.9,1230.7 988.9,1233.1 987.3,1239.8 986.7,1256.8 987.8,1266.8 989.9,1270.7 992.9,1272.6 997.9,1273.5 1003.6,1272.8M1280.9,1391.1 1280.2,1383.8 1280.9,1376.4M1075.5,1218.8 1080.0,1224.8 1081.4,1231.8 1079.8,1239.8 1075.5,1247.8 1068.3,1256.8 1059.9,1263.6 1050.9,1267.7 1041.9,1269.1 1034.9,1267.8 1028.9,1264.1 1024.4,1257.8 1016.7,1239.8 1012.3,1232.8 1006.4,1227.8 993.9,1221.7 990.2,1218.8M984.9,1304.0 992.9,1302.2 1000.9,1302.0 1018.9,1306.5 1028.9,1310.6 1034.9,1314.4 1038.8,1318.8 1040.2,1323.8 1039.0,1328.8 1034.7,1333.8 1008.1,1346.8 1001.9,1351.3 996.6,1356.8 992.5,1362.8 989.9,1368.4 984.9,1390.9M1060.8,1218.8 1065.5,1222.8 1068.1,1227.8 1068.7,1234.8 1067.0,1241.8 1063.2,1248.8 1057.9,1254.2 1051.9,1257.8 1044.9,1259.3 1037.9,1257.7 1031.9,1253.0 1027.9,1247.2 1020.4,1232.8 1015.9,1227.3 1010.8,1223.8 999.2,1218.8M1046.1,1218.8 1052.3,1221.8 1056.0,1224.8 1058.4,1228.8 1059.3,1233.8 1058.0,1239.8 1054.8,1244.8 1049.9,1248.5 1044.9,1249.5 1039.9,1248.1 1035.9,1244.8 1031.9,1238.9 1026.3,1227.8 1023.1,1223.8 1018.9,1221.1 1012.5,1218.8"/>
</g>
<circle cx="1132.9" cy="1366.8" r="137.5" fill="none" stroke="#000" stroke-width="1.7"/>
<path d="M1108.4,1231.1L1126.9,1211.3Q1132.9,1208.3 1138.9,1211.3L1157.4,1231.1" fill="none" stroke="#000" stroke-width="1.4"/>
<polyline points="997.2,1340.6 991.9,1334.9 988.0,1334.6 985.8,1335.9 983.0,1340.6 983.3,1364.7 981.7,1392.7 985.2,1402.2 991.9,1405.4 998.8,1400.3" fill="none" stroke="#000" stroke-width="1.4"/><polyline points="1268.6,1340.6 1273.9,1334.9 1277.8,1334.6 1280.0,1335.9 1282.8,1340.6 1282.5,1364.7 1284.1,1392.7 1280.6,1402.2 1273.9,1405.4 1267.0,1400.3" fill="none" stroke="#000" stroke-width="1.4"/>
<rect shape-rendering="crispEdges" x="1378.4" y="1174.50" width="35.2" height="5.99" fill="#870000"/><rect shape-rendering="crispEdges" x="1378.4" y="1179.89" width="35.2" height="5.99" fill="#970000"/><rect shape-rendering="crispEdges" x="1378.4" y="1185.27" width="35.2" height="5.99" fill="#a70000"/><rect shape-rendering="crispEdges" x="1378.4" y="1190.66" width="35.2" height="5.99" fill="#b70000"/><rect shape-rendering="crispEdges" x="1378.4" y="1196.04" width="35.2" height="5.99" fill="#c70000"/><rect shape-rendering="crispEdges" x="1378.4" y="1201.43" width="35.2" height="5.99" fill="#d70000"/><rect shape-rendering="crispEdges" x="1378.4" y="1206.82" width="35.2" height="5.99" fill="#e70000"/><rect shape-rendering="crispEdges" x="1378.4" y="1212.20" width="35.2" height="5.99" fill="#f70000"/><rect shape-rendering="crispEdges" x="1378.4" y="1217.59" width="35.2" height="5.99" fill="#ff0800"/><rect shape-rendering="crispEdges" x="1378.4" y="1222.97" width="35.2" height="5.99" fill="#ff1800"/><rect shape-rendering="crispEdges" x="1378.4" y="1228.36" width="35.2" height="5.99" fill="#ff2800"/><rect shape-rendering="crispEdges" x="1378.4" y="1233.75" width="35.2" height="5.99" fill="#ff3800"/><rect shape-rendering="crispEdges" x="1378.4" y="1239.13" width="35.2" height="5.99" fill="#ff4800"/><rect shape-rendering="crispEdges" x="1378.4" y="1244.52" width="35.2" height="5.99" fill="#ff5800"/><rect shape-rendering="crispEdges" x="1378.4" y="1249.90" width="35.2" height="5.99" fill="#ff6800"/><rect shape-rendering="crispEdges" x="1378.4" y="1255.29" width="35.2" height="5.99" fill="#ff7800"/><rect shape-rendering="crispEdges" x="1378.4" y="1260.67" width="35.2" height="5.99" fill="#ff8700"/><rect shape-rendering="crispEdges" x="1378.4" y="1266.06" width="35.2" height="5.99" fill="#ff9700"/><rect shape-rendering="crispEdges" x="1378.4" y="1271.45" width="35.2" height="5.99" fill="#ffa700"/><rect shape-rendering="crispEdges" x="1378.4" y="1276.83" width="35.2" height="5.99" fill="#ffb700"/><rect shape-rendering="crispEdges" x="1378.4" y="1282.22" width="35.2" height="5.99" fill="#ffc700"/><rect shape-rendering="crispEdges" x="1378.4" y="1287.60" width="35.2" height="5.99" fill="#ffd700"/><rect shape-rendering="crispEdges" x="1378.4" y="1292.99" width="35.2" height="5.99" fill="#ffe700"/><rect shape-rendering="crispEdges" x="1378.4" y="1298.38" width="35.2" height="5.99" fill="#fff700"/><rect shape-rendering="crispEdges" x="1378.4" y="1303.76" width="35.2" height="5.99" fill="#f7ff08"/><rect shape-rendering="crispEdges" x="1378.4" y="1309.15" width="35.2" height="5.99" fill="#e7ff18"/><rect shape-rendering="crispEdges" x="1378.4" y="1314.53" width="35.2" height="5.99" fill="#d7ff28"/><rect shape-rendering="crispEdges" x="1378.4" y="1319.92" width="35.2" height="5.99" fill="#c7ff38"/><rect shape-rendering="crispEdges" x="1378.4" y="1325.31" width="35.2" height="5.99" fill="#b7ff48"/><rect shape-rendering="crispEdges" x="1378.4" y="1330.69" width="35.2" height="5.99" fill="#a7ff58"/><rect shape-rendering="crispEdges" x="1378.4" y="1336.08" width="35.2" height="5.99" fill="#97ff68"/><rect shape-rendering="crispEdges" x="1378.4" y="1341.46" width="35.2" height="5.99" fill="#87ff78"/><rect shape-rendering="crispEdges" x="1378.4" y="1346.85" width="35.2" height="5.99" fill="#78ff87"/><rect shape-rendering="crispEdges" x="1378.4" y="1352.24" width="35.2" height="5.99" fill="#68ff97"/><rect shape-rendering="crispEdges" x="1378.4" y="1357.62" width="35.2" height="5.99" fill="#58ffa7"/><rect shape-rendering="crispEdges" x="1378.4" y="1363.01" width="35.2" height="5.99" fill="#48ffb7"/><rect shape-rendering="crispEdges" x="1378.4" y="1368.39" width="35.2" height="5.99" fill="#38ffc7"/><rect shape-rendering="crispEdges" x="1378.4" y="1373.78" width="35.2" height="5.99" fill="#28ffd7"/><rect shape-rendering="crispEdges" x="1378.4" y="1379.17" width="35.2" height="5.99" fill="#18ffe7"/><rect shape-rendering="crispEdges" x="1378.4" y="1384.55" width="35.2" height="5.99" fill="#08fff7"/><rect shape-rendering="crispEdges" x="1378.4" y="1389.94" width="35.2" height="5.99" fill="#00f7ff"/><rect shape-rendering="crispEdges" x="1378.4" y="1395.32" width="35.2" height="5.99" fill="#00e7ff"/><rect shape-rendering="crispEdges" x="1378.4" y="1400.71" width="35.2" height="5.99" fill="#00d7ff"/><rect shape-rendering="crispEdges" x="1378.4" y="1406.10" width="35.2" height="5.99" fill="#00c7ff"/><rect shape-rendering="crispEdges" x="1378.4" y="1411.48" width="35.2" height="5.99" fill="#00b7ff"/><rect shape-rendering="crispEdges" x="1378.4" y="1416.87" width="35.2" height="5.99" fill="#00a7ff"/><rect shape-rendering="crispEdges" x="1378.4" y="1422.25" width="35.2" height="5.99" fill="#0097ff"/><rect shape-rendering="crispEdges" x="1378.4" y="1427.64" width="35.2" height="5.99" fill="#0087ff"/><rect shape-rendering="crispEdges" x="1378.4" y="1433.03" width="35.2" height="5.99" fill="#0078ff"/><rect shape-rendering="crispEdges" x="1378.4" y="1438.41" width="35.2" height="5.99" fill="#0068ff"/><rect shape-rendering="crispEdges" x="1378.4" y="1443.80" width="35.2" height="5.99" fill="#0058ff"/><rect shape-rendering="crispEdges" x="1378.4" y="1449.18" width="35.2" height="5.99" fill="#0048ff"/><rect shape-rendering="crispEdges" x="1378.4" y="1454.57" width="35.2" height="5.99" fill="#0038ff"/><rect shape-rendering="crispEdges" x="1378.4" y="1459.95" width="35.2" height="5.99" fill="#0028ff"/><rect shape-rendering="crispEdges" x="1378.4" y="1465.34" width="35.2" height="5.99" fill="#0018ff"/><rect shape-rendering="crispEdges" x="1378.4" y="1470.73" width="35.2" height="5.99" fill="#0008ff"/><rect shape-rendering="crispEdges" x="1378.4" y="1476.11" width="35.2" height="5.99" fill="#0000f7"/><rect shape-rendering="crispEdges" x="1378.4" y="1481.50" width="35.2" height="5.99" fill="#0000e7"/><rect shape-rendering="crispEdges" x="1378.4" y="1486.88" width="35.2" height="5.99" fill="#0000d7"/><rect shape-rendering="crispEdges" x="1378.4" y="1492.27" width="35.2" height="5.99" fill="#0000c7"/><rect shape-rendering="crispEdges" x="1378.4" y="1497.66" width="35.2" height="5.99" fill="#0000b7"/><rect shape-rendering="crispEdges" x="1378.4" y="1503.04" width="35.2" height="5.99" fill="#0000a7"/><rect shape-rendering="crispEdges" x="1378.4" y="1508.43" width="35.2" height="5.99" fill="#000097"/><rect shape-rendering="crispEdges" x="1378.4" y="1513.81" width="35.2" height="5.99" fill="#000087"/>
<rect x="1378.4" y="1174.5" width="35.2" height="344.7" fill="none" stroke="#000" stroke-width="1.2"/>
<path d="M1378.4,1182.5h11.4M1378.4,1237.9h11.4M1378.4,1292h11.4M1378.4,1346.7h11.4M1378.4,1402.2h11.4M1378.4,1457.1h11.4M1378.4,1511.8h11.4" stroke="#222" stroke-width="1.2"/>
<text transform="translate(1334.5,1201.4) scale(1,1.03)">3</text>
<text transform="translate(1324.5,1364.5) scale(1,1.03)">μV</text>
<text transform="translate(1325.5,1529.3) scale(1,1.03)">-3</text>
</svg></body></html>
